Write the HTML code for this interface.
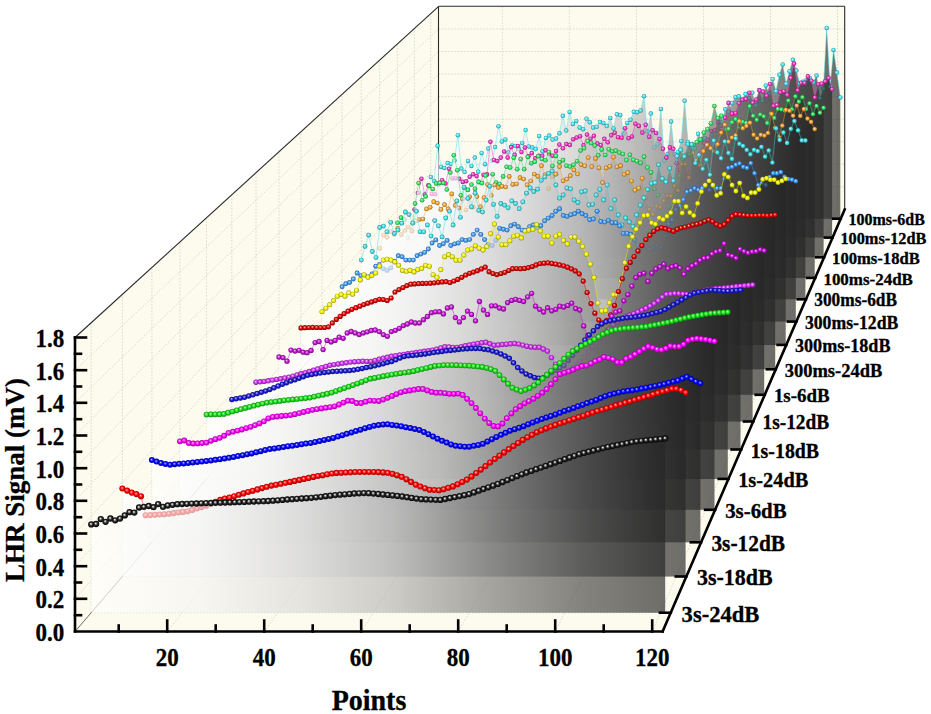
<!DOCTYPE html>
<html><head><meta charset="utf-8"><style>
html,body{margin:0;padding:0;background:#fff;overflow:hidden;width:931px;height:714px;}
svg{display:block;}
</style></head><body>
<svg width="931" height="714" viewBox="0 0 931 714">
<rect width="931" height="714" fill="#fff"/>
<polygon points="75.0,631.5 75.0,337.5 438.7,6.3 438.7,209.5" fill="#fdfbee"/>
<polygon points="438.7,209.5 844.7,209.5 844.7,6.3 438.7,6.3" fill="#fdfbee"/>
<polygon points="75.0,631.5 662.6,631.5 844.7,209.5 438.7,209.5" fill="#fdfbee"/>
<g stroke="#d8d6cc" stroke-width="0.9" stroke-dasharray="1.6,1.6" fill="none"><line x1="438.7" y1="186.9" x2="844.7" y2="186.9" /><line x1="75.0" y1="598.8" x2="438.7" y2="186.9" /><line x1="438.7" y1="164.3" x2="844.7" y2="164.3" /><line x1="75.0" y1="566.2" x2="438.7" y2="164.3" /><line x1="438.7" y1="141.7" x2="844.7" y2="141.7" /><line x1="75.0" y1="533.5" x2="438.7" y2="141.7" /><line x1="438.7" y1="119.2" x2="844.7" y2="119.2" /><line x1="75.0" y1="500.8" x2="438.7" y2="119.2" /><line x1="438.7" y1="96.6" x2="844.7" y2="96.6" /><line x1="75.0" y1="468.2" x2="438.7" y2="96.6" /><line x1="438.7" y1="74.0" x2="844.7" y2="74.0" /><line x1="75.0" y1="435.5" x2="438.7" y2="74.0" /><line x1="438.7" y1="51.5" x2="844.7" y2="51.5" /><line x1="75.0" y1="402.8" x2="438.7" y2="51.5" /><line x1="438.7" y1="28.9" x2="844.7" y2="28.9" /><line x1="75.0" y1="370.2" x2="438.7" y2="28.9" /><line x1="502.4" y1="209.5" x2="502.4" y2="6.3" /><line x1="167.2" y1="631.5" x2="502.4" y2="209.5" /><line x1="569.4" y1="209.5" x2="569.4" y2="6.3" /><line x1="264.2" y1="631.5" x2="569.4" y2="209.5" /><line x1="636.5" y1="209.5" x2="636.5" y2="6.3" /><line x1="361.2" y1="631.5" x2="636.5" y2="209.5" /><line x1="703.5" y1="209.5" x2="703.5" y2="6.3" /><line x1="458.2" y1="631.5" x2="703.5" y2="209.5" /><line x1="770.5" y1="209.5" x2="770.5" y2="6.3" /><line x1="555.2" y1="631.5" x2="770.5" y2="209.5" /><line x1="837.5" y1="209.5" x2="837.5" y2="6.3" /><line x1="652.2" y1="631.5" x2="837.5" y2="209.5" /><line x1="91.2" y1="612.7" x2="91.2" y2="322.7" /><line x1="91.2" y1="612.7" x2="670.8" y2="612.7" /><line x1="122.4" y1="576.5" x2="122.4" y2="294.4" /><line x1="122.4" y1="576.5" x2="686.3" y2="576.5" /><line x1="151.9" y1="542.3" x2="151.9" y2="267.5" /><line x1="151.9" y1="542.3" x2="701.1" y2="542.3" /><line x1="179.9" y1="509.8" x2="179.9" y2="242.0" /><line x1="179.9" y1="509.8" x2="715.1" y2="509.8" /><line x1="206.5" y1="478.9" x2="206.5" y2="217.8" /><line x1="206.5" y1="478.9" x2="728.5" y2="478.9" /><line x1="231.8" y1="449.5" x2="231.8" y2="194.7" /><line x1="231.8" y1="449.5" x2="741.2" y2="449.5" /><line x1="256.0" y1="421.5" x2="256.0" y2="172.7" /><line x1="256.0" y1="421.5" x2="753.2" y2="421.5" /><line x1="279.0" y1="394.8" x2="279.0" y2="151.8" /><line x1="279.0" y1="394.8" x2="764.8" y2="394.8" /><line x1="300.9" y1="369.3" x2="300.9" y2="131.8" /><line x1="300.9" y1="369.3" x2="775.8" y2="369.3" /><line x1="322.0" y1="344.9" x2="322.0" y2="112.6" /><line x1="322.0" y1="344.9" x2="786.3" y2="344.9" /><line x1="342.0" y1="321.6" x2="342.0" y2="94.3" /><line x1="342.0" y1="321.6" x2="796.3" y2="321.6" /><line x1="361.3" y1="299.3" x2="361.3" y2="76.8" /><line x1="361.3" y1="299.3" x2="806.0" y2="299.3" /><line x1="379.7" y1="277.9" x2="379.7" y2="60.0" /><line x1="379.7" y1="277.9" x2="815.2" y2="277.9" /><line x1="397.4" y1="257.3" x2="397.4" y2="43.9" /><line x1="397.4" y1="257.3" x2="824.1" y2="257.3" /><line x1="414.4" y1="237.6" x2="414.4" y2="28.4" /><line x1="414.4" y1="237.6" x2="832.6" y2="237.6" /><line x1="430.8" y1="218.7" x2="430.8" y2="13.5" /><line x1="430.8" y1="218.7" x2="840.8" y2="218.7" /></g>
<g stroke="#2a2a2a" stroke-width="1.1" fill="none"><line x1="75.0" y1="337.5" x2="438.7" y2="6.3" /><line x1="438.7" y1="6.3" x2="844.7" y2="6.3" /><line x1="844.7" y1="6.3" x2="844.7" y2="209.5" /></g><g stroke="#444" stroke-width="0.8"><line x1="75.0" y1="631.5" x2="438.7" y2="209.5" /></g>
<g stroke="#2a2a2a" stroke-width="1.1"><line x1="438.5" y1="6.3" x2="438.5" y2="209.5" /></g>
<defs><radialGradient id="s0" cx="0.5" cy="0.5" r="0.5" fx="0.42" fy="0.38"><stop offset="0.00" stop-color="#ffffff"/><stop offset="0.22" stop-color="#b0b0b0"/><stop offset="0.50" stop-color="#303030"/><stop offset="1.00" stop-color="#000000"/></radialGradient><radialGradient id="s1" cx="0.5" cy="0.5" r="0.5" fx="0.42" fy="0.38"><stop offset="0.00" stop-color="#ffe6e6"/><stop offset="0.25" stop-color="#ff5959"/><stop offset="0.60" stop-color="#ff0000"/><stop offset="1.00" stop-color="#990000"/></radialGradient><radialGradient id="s2" cx="0.5" cy="0.5" r="0.5" fx="0.42" fy="0.38"><stop offset="0.00" stop-color="#e6e6ff"/><stop offset="0.25" stop-color="#5959ff"/><stop offset="0.60" stop-color="#0000ff"/><stop offset="1.00" stop-color="#000099"/></radialGradient><radialGradient id="s3" cx="0.5" cy="0.5" r="0.5" fx="0.42" fy="0.38"><stop offset="0.00" stop-color="#ffe6ff"/><stop offset="0.25" stop-color="#ff59ff"/><stop offset="0.60" stop-color="#ff00ff"/><stop offset="1.00" stop-color="#990099"/></radialGradient><radialGradient id="s4" cx="0.5" cy="0.5" r="0.5" fx="0.42" fy="0.38"><stop offset="0.00" stop-color="#e8fce8"/><stop offset="0.25" stop-color="#69eb69"/><stop offset="0.60" stop-color="#18e018"/><stop offset="1.00" stop-color="#0e860e"/></radialGradient><radialGradient id="s5" cx="0.5" cy="0.5" r="0.5" fx="0.42" fy="0.38"><stop offset="0.00" stop-color="#e8e8fa"/><stop offset="0.25" stop-color="#6969e0"/><stop offset="0.60" stop-color="#1818d0"/><stop offset="1.00" stop-color="#0e0e7d"/></radialGradient><radialGradient id="s6" cx="0.5" cy="0.5" r="0.5" fx="0.42" fy="0.38"><stop offset="0.00" stop-color="#faeafe"/><stop offset="0.25" stop-color="#e078f5"/><stop offset="0.60" stop-color="#d030f0"/><stop offset="1.00" stop-color="#7d1d90"/></radialGradient><radialGradient id="s7" cx="0.5" cy="0.5" r="0.5" fx="0.42" fy="0.38"><stop offset="0.00" stop-color="#f9e7fa"/><stop offset="0.25" stop-color="#d664e0"/><stop offset="0.60" stop-color="#c010d0"/><stop offset="1.00" stop-color="#730a7d"/></radialGradient><radialGradient id="s8" cx="0.5" cy="0.5" r="0.5" fx="0.42" fy="0.38"><stop offset="0.00" stop-color="#fce6e6"/><stop offset="0.25" stop-color="#eb5959"/><stop offset="0.60" stop-color="#e00000"/><stop offset="1.00" stop-color="#860000"/></radialGradient><radialGradient id="s9" cx="0.5" cy="0.5" r="0.5" fx="0.42" fy="0.38"><stop offset="0.00" stop-color="#fefee6"/><stop offset="0.25" stop-color="#f5f559"/><stop offset="0.60" stop-color="#f0f000"/><stop offset="1.00" stop-color="#909000"/></radialGradient><radialGradient id="s10" cx="0.5" cy="0.5" r="0.5" fx="0.42" fy="0.38"><stop offset="0.00" stop-color="#ecf4fe"/><stop offset="0.25" stop-color="#80bbf5"/><stop offset="0.60" stop-color="#3c96f0"/><stop offset="1.00" stop-color="#245a90"/></radialGradient><radialGradient id="s11" cx="0.5" cy="0.5" r="0.5" fx="0.42" fy="0.38"><stop offset="0.00" stop-color="#ecfbfc"/><stop offset="0.25" stop-color="#83e6eb"/><stop offset="0.60" stop-color="#40d8e0"/><stop offset="1.00" stop-color="#268286"/></radialGradient><radialGradient id="s12" cx="0.5" cy="0.5" r="0.5" fx="0.42" fy="0.38"><stop offset="0.00" stop-color="#fef6ea"/><stop offset="0.25" stop-color="#f5c178"/><stop offset="0.60" stop-color="#f0a030"/><stop offset="1.00" stop-color="#90601d"/></radialGradient><radialGradient id="s13" cx="0.5" cy="0.5" r="0.5" fx="0.42" fy="0.38"><stop offset="0.00" stop-color="#eafcef"/><stop offset="0.25" stop-color="#78eb98"/><stop offset="0.60" stop-color="#30e060"/><stop offset="1.00" stop-color="#1d863a"/></radialGradient><radialGradient id="s14" cx="0.5" cy="0.5" r="0.5" fx="0.42" fy="0.38"><stop offset="0.00" stop-color="#feeaf9"/><stop offset="0.25" stop-color="#f578d6"/><stop offset="0.60" stop-color="#f030c0"/><stop offset="1.00" stop-color="#901d73"/></radialGradient><radialGradient id="s15" cx="0.5" cy="0.5" r="0.5" fx="0.42" fy="0.38"><stop offset="0.00" stop-color="#ecfcfe"/><stop offset="0.25" stop-color="#83ebf5"/><stop offset="0.60" stop-color="#40e0f0"/><stop offset="1.00" stop-color="#268690"/></radialGradient><linearGradient id="f15" gradientUnits="userSpaceOnUse" x1="430.8" y1="0" x2="840.3" y2="0"><stop offset="0.000" stop-color="#ffffff"/><stop offset="0.190" stop-color="#f4f4f4"/><stop offset="0.364" stop-color="#d8d8d8"/><stop offset="0.521" stop-color="#b5b5b5"/><stop offset="0.678" stop-color="#7d7d7d"/><stop offset="0.852" stop-color="#464646"/><stop offset="0.974" stop-color="#292929"/><stop offset="1.000" stop-color="#242424"/></linearGradient><linearGradient id="f14" gradientUnits="userSpaceOnUse" x1="414.5" y1="0" x2="832.1" y2="0"><stop offset="0.000" stop-color="#ffffff"/><stop offset="0.190" stop-color="#f4f4f4"/><stop offset="0.364" stop-color="#d8d8d8"/><stop offset="0.521" stop-color="#b5b5b5"/><stop offset="0.678" stop-color="#7d7d7d"/><stop offset="0.852" stop-color="#464646"/><stop offset="0.974" stop-color="#292929"/><stop offset="1.000" stop-color="#242424"/></linearGradient><linearGradient id="f13" gradientUnits="userSpaceOnUse" x1="397.5" y1="0" x2="823.6" y2="0"><stop offset="0.000" stop-color="#ffffff"/><stop offset="0.190" stop-color="#f4f4f4"/><stop offset="0.364" stop-color="#d8d8d8"/><stop offset="0.521" stop-color="#b5b5b5"/><stop offset="0.678" stop-color="#7d7d7d"/><stop offset="0.852" stop-color="#464646"/><stop offset="0.974" stop-color="#292929"/><stop offset="1.000" stop-color="#242424"/></linearGradient><linearGradient id="f12" gradientUnits="userSpaceOnUse" x1="379.8" y1="0" x2="814.7" y2="0"><stop offset="0.000" stop-color="#ffffff"/><stop offset="0.190" stop-color="#f4f4f4"/><stop offset="0.364" stop-color="#d8d8d8"/><stop offset="0.521" stop-color="#b5b5b5"/><stop offset="0.678" stop-color="#7d7d7d"/><stop offset="0.852" stop-color="#464646"/><stop offset="0.974" stop-color="#292929"/><stop offset="1.000" stop-color="#242424"/></linearGradient><linearGradient id="f11" gradientUnits="userSpaceOnUse" x1="361.3" y1="0" x2="805.4" y2="0"><stop offset="0.000" stop-color="#ffffff"/><stop offset="0.190" stop-color="#f4f4f4"/><stop offset="0.364" stop-color="#d8d8d8"/><stop offset="0.521" stop-color="#b5b5b5"/><stop offset="0.678" stop-color="#7d7d7d"/><stop offset="0.852" stop-color="#464646"/><stop offset="0.974" stop-color="#292929"/><stop offset="1.000" stop-color="#242424"/></linearGradient><linearGradient id="f10" gradientUnits="userSpaceOnUse" x1="342.1" y1="0" x2="795.8" y2="0"><stop offset="0.000" stop-color="#ffffff"/><stop offset="0.190" stop-color="#f4f4f4"/><stop offset="0.364" stop-color="#d8d8d8"/><stop offset="0.521" stop-color="#b5b5b5"/><stop offset="0.678" stop-color="#7d7d7d"/><stop offset="0.852" stop-color="#464646"/><stop offset="0.974" stop-color="#292929"/><stop offset="1.000" stop-color="#242424"/></linearGradient><linearGradient id="f9" gradientUnits="userSpaceOnUse" x1="322.0" y1="0" x2="785.7" y2="0"><stop offset="0.000" stop-color="#ffffff"/><stop offset="0.190" stop-color="#f4f4f4"/><stop offset="0.364" stop-color="#d8d8d8"/><stop offset="0.521" stop-color="#b5b5b5"/><stop offset="0.678" stop-color="#7d7d7d"/><stop offset="0.852" stop-color="#464646"/><stop offset="0.974" stop-color="#292929"/><stop offset="1.000" stop-color="#242424"/></linearGradient><linearGradient id="f8" gradientUnits="userSpaceOnUse" x1="301.0" y1="0" x2="775.2" y2="0"><stop offset="0.000" stop-color="#ffffff"/><stop offset="0.190" stop-color="#f4f4f4"/><stop offset="0.364" stop-color="#d8d8d8"/><stop offset="0.521" stop-color="#b5b5b5"/><stop offset="0.678" stop-color="#7d7d7d"/><stop offset="0.852" stop-color="#464646"/><stop offset="0.974" stop-color="#292929"/><stop offset="1.000" stop-color="#242424"/></linearGradient><linearGradient id="f7" gradientUnits="userSpaceOnUse" x1="279.0" y1="0" x2="764.2" y2="0"><stop offset="0.000" stop-color="#ffffff"/><stop offset="0.190" stop-color="#f4f4f4"/><stop offset="0.364" stop-color="#d8d8d8"/><stop offset="0.521" stop-color="#b5b5b5"/><stop offset="0.678" stop-color="#7d7d7d"/><stop offset="0.852" stop-color="#464646"/><stop offset="0.974" stop-color="#292929"/><stop offset="1.000" stop-color="#242424"/></linearGradient><linearGradient id="f6" gradientUnits="userSpaceOnUse" x1="256.0" y1="0" x2="752.6" y2="0"><stop offset="0.000" stop-color="#ffffff"/><stop offset="0.190" stop-color="#f4f4f4"/><stop offset="0.364" stop-color="#d8d8d8"/><stop offset="0.521" stop-color="#b5b5b5"/><stop offset="0.678" stop-color="#7d7d7d"/><stop offset="0.852" stop-color="#464646"/><stop offset="0.974" stop-color="#292929"/><stop offset="1.000" stop-color="#242424"/></linearGradient><linearGradient id="f5" gradientUnits="userSpaceOnUse" x1="231.9" y1="0" x2="740.5" y2="0"><stop offset="0.000" stop-color="#ffffff"/><stop offset="0.190" stop-color="#f4f4f4"/><stop offset="0.364" stop-color="#d8d8d8"/><stop offset="0.521" stop-color="#b5b5b5"/><stop offset="0.678" stop-color="#7d7d7d"/><stop offset="0.852" stop-color="#464646"/><stop offset="0.974" stop-color="#292929"/><stop offset="1.000" stop-color="#242424"/></linearGradient><linearGradient id="f4" gradientUnits="userSpaceOnUse" x1="206.5" y1="0" x2="727.8" y2="0"><stop offset="0.000" stop-color="#ffffff"/><stop offset="0.190" stop-color="#f4f4f4"/><stop offset="0.364" stop-color="#d8d8d8"/><stop offset="0.521" stop-color="#b5b5b5"/><stop offset="0.678" stop-color="#7d7d7d"/><stop offset="0.852" stop-color="#464646"/><stop offset="0.974" stop-color="#292929"/><stop offset="1.000" stop-color="#242424"/></linearGradient><linearGradient id="f3" gradientUnits="userSpaceOnUse" x1="179.9" y1="0" x2="714.5" y2="0"><stop offset="0.000" stop-color="#ffffff"/><stop offset="0.190" stop-color="#f4f4f4"/><stop offset="0.364" stop-color="#d8d8d8"/><stop offset="0.521" stop-color="#b5b5b5"/><stop offset="0.678" stop-color="#7d7d7d"/><stop offset="0.852" stop-color="#464646"/><stop offset="0.974" stop-color="#292929"/><stop offset="1.000" stop-color="#242424"/></linearGradient><linearGradient id="f2" gradientUnits="userSpaceOnUse" x1="151.9" y1="0" x2="700.4" y2="0"><stop offset="0.000" stop-color="#ffffff"/><stop offset="0.190" stop-color="#f4f4f4"/><stop offset="0.364" stop-color="#d8d8d8"/><stop offset="0.521" stop-color="#b5b5b5"/><stop offset="0.678" stop-color="#7d7d7d"/><stop offset="0.852" stop-color="#464646"/><stop offset="0.974" stop-color="#292929"/><stop offset="1.000" stop-color="#242424"/></linearGradient><linearGradient id="f1" gradientUnits="userSpaceOnUse" x1="122.4" y1="0" x2="685.6" y2="0"><stop offset="0.000" stop-color="#ffffff"/><stop offset="0.190" stop-color="#f4f4f4"/><stop offset="0.364" stop-color="#d8d8d8"/><stop offset="0.521" stop-color="#b5b5b5"/><stop offset="0.678" stop-color="#7d7d7d"/><stop offset="0.852" stop-color="#464646"/><stop offset="0.974" stop-color="#292929"/><stop offset="1.000" stop-color="#242424"/></linearGradient><linearGradient id="f0" gradientUnits="userSpaceOnUse" x1="91.3" y1="0" x2="665.2" y2="0"><stop offset="0.000" stop-color="#ffffff"/><stop offset="0.190" stop-color="#f4f4f4"/><stop offset="0.364" stop-color="#d8d8d8"/><stop offset="0.521" stop-color="#b5b5b5"/><stop offset="0.678" stop-color="#7d7d7d"/><stop offset="0.852" stop-color="#464646"/><stop offset="0.974" stop-color="#292929"/><stop offset="1.000" stop-color="#242424"/></linearGradient></defs><polygon points="430.8,218.7 430.8,177.0 434.2,181.1 437.6,145.8 441.0,166.9 444.3,168.0 447.7,163.1 451.1,163.9 454.5,160.4 457.9,135.2 461.3,168.6 464.6,172.1 468.0,160.9 471.4,165.9 474.8,157.6 478.2,171.8 481.6,152.9 485.0,164.2 488.3,148.5 491.7,160.8 495.1,147.1 498.5,126.2 501.9,141.4 505.3,139.4 508.6,152.6 512.0,145.4 515.4,146.0 518.8,149.0 522.2,142.9 525.6,130.1 528.9,146.4 532.3,147.6 535.7,149.1 539.1,136.0 542.5,151.2 545.9,137.9 549.2,135.6 552.6,139.6 556.0,138.5 559.4,133.3 562.8,115.8 566.2,130.6 569.6,111.9 572.9,123.9 576.3,120.9 579.7,127.4 583.1,129.2 586.5,118.8 589.9,122.3 593.2,127.5 596.6,126.8 600.0,122.1 603.4,122.9 606.8,126.1 610.2,117.9 613.5,128.4 616.9,114.3 620.3,115.0 623.7,133.8 627.1,122.9 630.5,119.7 633.8,111.8 637.2,112.2 640.6,110.5 644.0,96.2 647.4,131.5 650.8,113.6 654.2,147.5 657.5,144.3 660.9,108.9 664.3,160.6 667.7,154.1 671.1,121.5 674.5,154.1 677.8,151.9 681.2,141.0 684.6,100.8 688.0,142.2 691.4,148.0 694.8,148.4 698.1,133.8 701.5,139.2 704.9,138.1 708.3,145.9 711.7,135.3 715.1,134.4 718.4,123.0 721.8,122.2 725.2,109.3 728.6,112.1 732.0,103.0 735.4,97.0 738.8,96.3 742.1,99.2 745.5,94.1 748.9,98.0 752.3,92.8 755.7,105.5 759.1,89.9 762.4,101.0 765.8,85.4 769.2,93.8 772.6,79.0 776.0,91.1 779.4,74.8 782.7,64.4 786.1,83.7 789.5,71.2 792.9,59.8 796.3,70.6 799.7,83.6 803.0,81.8 806.4,80.2 809.8,78.0 813.2,82.2 816.6,75.5 820.0,98.0 823.4,88.7 826.7,28.0 830.1,86.6 833.5,49.9 836.9,72.6 840.3,97.4 840.3,218.7" fill="url(#f15)" fill-opacity="0.657"/>
<polyline points="430.8,177.0 434.2,181.1 437.6,145.8 441.0,166.9 444.3,168.0 447.7,163.1 451.1,163.9 454.5,160.4 457.9,135.2 461.3,168.6 464.6,172.1 468.0,160.9 471.4,165.9 474.8,157.6 478.2,171.8 481.6,152.9 485.0,164.2 488.3,148.5 491.7,160.8 495.1,147.1 498.5,126.2 501.9,141.4 505.3,139.4 508.6,152.6 512.0,145.4 515.4,146.0 518.8,149.0 522.2,142.9 525.6,130.1 528.9,146.4 532.3,147.6 535.7,149.1 539.1,136.0 542.5,151.2 545.9,137.9 549.2,135.6 552.6,139.6 556.0,138.5 559.4,133.3 562.8,115.8 566.2,130.6 569.6,111.9 572.9,123.9 576.3,120.9 579.7,127.4 583.1,129.2 586.5,118.8 589.9,122.3 593.2,127.5 596.6,126.8 600.0,122.1 603.4,122.9 606.8,126.1 610.2,117.9 613.5,128.4 616.9,114.3 620.3,115.0 623.7,133.8 627.1,122.9 630.5,119.7 633.8,111.8 637.2,112.2 640.6,110.5 644.0,96.2 647.4,131.5 650.8,113.6 654.2,147.5 657.5,144.3 660.9,108.9 664.3,160.6 667.7,154.1 671.1,121.5 674.5,154.1 677.8,151.9 681.2,141.0 684.6,100.8 688.0,142.2 691.4,148.0 694.8,148.4 698.1,133.8 701.5,139.2 704.9,138.1 708.3,145.9 711.7,135.3 715.1,134.4 718.4,123.0 721.8,122.2 725.2,109.3 728.6,112.1 732.0,103.0 735.4,97.0 738.8,96.3 742.1,99.2 745.5,94.1 748.9,98.0 752.3,92.8 755.7,105.5 759.1,89.9 762.4,101.0 765.8,85.4 769.2,93.8 772.6,79.0 776.0,91.1 779.4,74.8 782.7,64.4 786.1,83.7 789.5,71.2 792.9,59.8 796.3,70.6 799.7,83.6 803.0,81.8 806.4,80.2 809.8,78.0 813.2,82.2 816.6,75.5 820.0,98.0 823.4,88.7 826.7,28.0 830.1,86.6 833.5,49.9 836.9,72.6 840.3,97.4" fill="none" stroke="#40e0f0" stroke-width="0.55" stroke-opacity="0.85"/>
<g fill="url(#s15)"><circle cx="430.8" cy="177.0" r="2.23"/><circle cx="434.2" cy="181.1" r="2.23"/><circle cx="437.6" cy="145.8" r="2.23"/><circle cx="441.0" cy="166.9" r="2.23"/><circle cx="444.3" cy="168.0" r="2.23"/><circle cx="447.7" cy="163.1" r="2.23"/><circle cx="451.1" cy="163.9" r="2.23"/><circle cx="454.5" cy="160.4" r="2.23"/><circle cx="457.9" cy="135.2" r="2.23"/><circle cx="461.3" cy="168.6" r="2.23"/><circle cx="464.6" cy="172.1" r="2.23"/><circle cx="468.0" cy="160.9" r="2.23"/><circle cx="471.4" cy="165.9" r="2.23"/><circle cx="474.8" cy="157.6" r="2.23"/><circle cx="478.2" cy="171.8" r="2.23"/><circle cx="481.6" cy="152.9" r="2.23"/><circle cx="485.0" cy="164.2" r="2.23"/><circle cx="488.3" cy="148.5" r="2.23"/><circle cx="491.7" cy="160.8" r="2.23"/><circle cx="495.1" cy="147.1" r="2.23"/><circle cx="498.5" cy="126.2" r="2.23"/><circle cx="501.9" cy="141.4" r="2.23"/><circle cx="505.3" cy="139.4" r="2.23"/><circle cx="508.6" cy="152.6" r="2.23"/><circle cx="512.0" cy="145.4" r="2.23"/><circle cx="515.4" cy="146.0" r="2.23"/><circle cx="518.8" cy="149.0" r="2.23"/><circle cx="522.2" cy="142.9" r="2.23"/><circle cx="525.6" cy="130.1" r="2.23"/><circle cx="528.9" cy="146.4" r="2.23"/><circle cx="532.3" cy="147.6" r="2.23"/><circle cx="535.7" cy="149.1" r="2.23"/><circle cx="539.1" cy="136.0" r="2.23"/><circle cx="542.5" cy="151.2" r="2.23"/><circle cx="545.9" cy="137.9" r="2.23"/><circle cx="549.2" cy="135.6" r="2.23"/><circle cx="552.6" cy="139.6" r="2.23"/><circle cx="556.0" cy="138.5" r="2.23"/><circle cx="559.4" cy="133.3" r="2.23"/><circle cx="562.8" cy="115.8" r="2.23"/><circle cx="566.2" cy="130.6" r="2.23"/><circle cx="569.6" cy="111.9" r="2.23"/><circle cx="572.9" cy="123.9" r="2.23"/><circle cx="576.3" cy="120.9" r="2.23"/><circle cx="579.7" cy="127.4" r="2.23"/><circle cx="583.1" cy="129.2" r="2.23"/><circle cx="586.5" cy="118.8" r="2.23"/><circle cx="589.9" cy="122.3" r="2.23"/><circle cx="593.2" cy="127.5" r="2.23"/><circle cx="596.6" cy="126.8" r="2.23"/><circle cx="600.0" cy="122.1" r="2.23"/><circle cx="603.4" cy="122.9" r="2.23"/><circle cx="606.8" cy="126.1" r="2.23"/><circle cx="610.2" cy="117.9" r="2.23"/><circle cx="613.5" cy="128.4" r="2.23"/><circle cx="616.9" cy="114.3" r="2.23"/><circle cx="620.3" cy="115.0" r="2.23"/><circle cx="623.7" cy="133.8" r="2.23"/><circle cx="627.1" cy="122.9" r="2.23"/><circle cx="630.5" cy="119.7" r="2.23"/><circle cx="633.8" cy="111.8" r="2.23"/><circle cx="637.2" cy="112.2" r="2.23"/><circle cx="640.6" cy="110.5" r="2.23"/><circle cx="644.0" cy="96.2" r="2.23"/><circle cx="647.4" cy="131.5" r="2.23"/><circle cx="650.8" cy="113.6" r="2.23"/><circle cx="654.2" cy="147.5" r="2.23"/><circle cx="657.5" cy="144.3" r="2.23"/><circle cx="660.9" cy="108.9" r="2.23"/><circle cx="664.3" cy="160.6" r="2.23"/><circle cx="667.7" cy="154.1" r="2.23"/><circle cx="671.1" cy="121.5" r="2.23"/><circle cx="674.5" cy="154.1" r="2.23"/><circle cx="677.8" cy="151.9" r="2.23"/><circle cx="681.2" cy="141.0" r="2.23"/><circle cx="684.6" cy="100.8" r="2.23"/><circle cx="688.0" cy="142.2" r="2.23"/><circle cx="691.4" cy="148.0" r="2.23"/><circle cx="694.8" cy="148.4" r="2.23"/><circle cx="698.1" cy="133.8" r="2.23"/><circle cx="701.5" cy="139.2" r="2.23"/><circle cx="704.9" cy="138.1" r="2.23"/><circle cx="708.3" cy="145.9" r="2.23"/><circle cx="711.7" cy="135.3" r="2.23"/><circle cx="715.1" cy="134.4" r="2.23"/><circle cx="718.4" cy="123.0" r="2.23"/><circle cx="721.8" cy="122.2" r="2.23"/><circle cx="725.2" cy="109.3" r="2.23"/><circle cx="728.6" cy="112.1" r="2.23"/><circle cx="732.0" cy="103.0" r="2.23"/><circle cx="735.4" cy="97.0" r="2.23"/><circle cx="738.8" cy="96.3" r="2.23"/><circle cx="742.1" cy="99.2" r="2.23"/><circle cx="745.5" cy="94.1" r="2.23"/><circle cx="748.9" cy="98.0" r="2.23"/><circle cx="752.3" cy="92.8" r="2.23"/><circle cx="755.7" cy="105.5" r="2.23"/><circle cx="759.1" cy="89.9" r="2.23"/><circle cx="762.4" cy="101.0" r="2.23"/><circle cx="765.8" cy="85.4" r="2.23"/><circle cx="769.2" cy="93.8" r="2.23"/><circle cx="772.6" cy="79.0" r="2.23"/><circle cx="776.0" cy="91.1" r="2.23"/><circle cx="779.4" cy="74.8" r="2.23"/><circle cx="782.7" cy="64.4" r="2.23"/><circle cx="786.1" cy="83.7" r="2.23"/><circle cx="789.5" cy="71.2" r="2.23"/><circle cx="792.9" cy="59.8" r="2.23"/><circle cx="796.3" cy="70.6" r="2.23"/><circle cx="799.7" cy="83.6" r="2.23"/><circle cx="803.0" cy="81.8" r="2.23"/><circle cx="806.4" cy="80.2" r="2.23"/><circle cx="809.8" cy="78.0" r="2.23"/><circle cx="813.2" cy="82.2" r="2.23"/><circle cx="816.6" cy="75.5" r="2.23"/><circle cx="820.0" cy="98.0" r="2.23"/><circle cx="823.4" cy="88.7" r="2.23"/><circle cx="826.7" cy="28.0" r="2.23"/><circle cx="830.1" cy="86.6" r="2.23"/><circle cx="833.5" cy="49.9" r="2.23"/><circle cx="836.9" cy="72.6" r="2.23"/><circle cx="840.3" cy="97.4" r="2.23"/></g>
<polygon points="414.5,237.6 414.5,209.6 417.9,193.0 421.4,178.7 424.8,194.5 428.3,185.2 431.7,194.0 435.2,194.3 438.6,184.5 442.1,180.2 445.5,183.5 449.0,168.7 452.4,178.5 455.9,178.2 459.3,178.8 462.8,181.9 466.2,181.2 469.7,176.7 473.1,174.2 476.6,176.1 480.1,183.1 483.5,174.7 487.0,174.4 490.4,141.8 493.9,160.0 497.3,161.1 500.8,157.6 504.2,151.5 507.7,157.6 511.1,147.1 514.6,154.9 518.0,146.0 521.5,152.0 524.9,147.6 528.4,156.3 531.8,153.1 535.3,158.4 538.7,155.8 542.2,155.8 545.6,150.3 549.1,154.1 552.5,155.7 556.0,151.1 559.4,144.5 562.9,148.3 566.3,144.1 569.8,144.9 573.2,139.2 576.7,137.5 580.1,136.2 583.6,145.4 587.0,134.5 590.5,138.7 593.9,135.7 597.4,143.6 600.8,145.1 604.3,138.8 607.7,142.3 611.2,135.1 614.7,132.7 618.1,137.2 621.6,137.7 625.0,128.3 628.5,138.3 631.9,136.5 635.4,123.8 638.8,125.9 642.3,132.6 645.7,124.8 649.2,136.7 652.6,130.3 656.1,133.0 659.5,139.0 663.0,148.8 666.4,157.6 669.9,147.4 673.3,148.8 676.8,163.2 680.2,169.8 683.7,179.1 687.1,171.6 690.6,179.6 694.0,167.4 697.5,168.1 700.9,153.0 704.4,143.1 707.8,139.9 711.3,131.0 714.7,130.3 718.2,122.1 721.6,129.0 725.1,117.7 728.5,102.9 732.0,113.6 735.4,113.0 738.9,103.3 742.3,99.7 745.8,98.9 749.3,92.7 752.7,102.6 756.2,99.5 759.6,90.4 763.1,91.6 766.5,95.6 770.0,84.0 773.4,105.8 776.9,104.9 780.3,92.3 783.8,91.2 787.2,94.9 790.7,77.9 794.1,63.6 797.6,90.2 801.0,82.8 804.5,82.9 807.9,76.4 811.4,80.7 814.8,97.4 818.3,84.2 821.7,83.5 825.2,81.3 828.6,77.9 832.1,89.2 832.1,237.6" fill="url(#f14)" fill-opacity="0.657"/>
<polyline points="414.5,209.6 417.9,193.0 421.4,178.7 424.8,194.5 428.3,185.2 431.7,194.0 435.2,194.3 438.6,184.5 442.1,180.2 445.5,183.5 449.0,168.7 452.4,178.5 455.9,178.2 459.3,178.8 462.8,181.9 466.2,181.2 469.7,176.7 473.1,174.2 476.6,176.1 480.1,183.1 483.5,174.7 487.0,174.4 490.4,141.8 493.9,160.0 497.3,161.1 500.8,157.6 504.2,151.5 507.7,157.6 511.1,147.1 514.6,154.9 518.0,146.0 521.5,152.0 524.9,147.6 528.4,156.3 531.8,153.1 535.3,158.4 538.7,155.8 542.2,155.8 545.6,150.3 549.1,154.1 552.5,155.7 556.0,151.1 559.4,144.5 562.9,148.3 566.3,144.1 569.8,144.9 573.2,139.2 576.7,137.5 580.1,136.2 583.6,145.4 587.0,134.5 590.5,138.7 593.9,135.7 597.4,143.6 600.8,145.1 604.3,138.8 607.7,142.3 611.2,135.1 614.7,132.7 618.1,137.2 621.6,137.7 625.0,128.3 628.5,138.3 631.9,136.5 635.4,123.8 638.8,125.9 642.3,132.6 645.7,124.8 649.2,136.7 652.6,130.3 656.1,133.0 659.5,139.0 663.0,148.8 666.4,157.6 669.9,147.4 673.3,148.8 676.8,163.2 680.2,169.8 683.7,179.1 687.1,171.6 690.6,179.6 694.0,167.4 697.5,168.1 700.9,153.0 704.4,143.1 707.8,139.9 711.3,131.0 714.7,130.3 718.2,122.1 721.6,129.0 725.1,117.7 728.5,102.9 732.0,113.6 735.4,113.0 738.9,103.3 742.3,99.7 745.8,98.9 749.3,92.7 752.7,102.6 756.2,99.5 759.6,90.4 763.1,91.6 766.5,95.6 770.0,84.0 773.4,105.8 776.9,104.9 780.3,92.3 783.8,91.2 787.2,94.9 790.7,77.9 794.1,63.6 797.6,90.2 801.0,82.8 804.5,82.9 807.9,76.4 811.4,80.7 814.8,97.4 818.3,84.2 821.7,83.5 825.2,81.3 828.6,77.9 832.1,89.2" fill="none" stroke="#f030c0" stroke-width="0.55" stroke-opacity="0.85"/>
<g fill="url(#s14)"><circle cx="414.5" cy="209.6" r="2.28"/><circle cx="417.9" cy="193.0" r="2.28"/><circle cx="421.4" cy="178.7" r="2.28"/><circle cx="424.8" cy="194.5" r="2.28"/><circle cx="428.3" cy="185.2" r="2.28"/><circle cx="431.7" cy="194.0" r="2.28"/><circle cx="435.2" cy="194.3" r="2.28"/><circle cx="438.6" cy="184.5" r="2.28"/><circle cx="442.1" cy="180.2" r="2.28"/><circle cx="445.5" cy="183.5" r="2.28"/><circle cx="449.0" cy="168.7" r="2.28"/><circle cx="452.4" cy="178.5" r="2.28"/><circle cx="455.9" cy="178.2" r="2.28"/><circle cx="459.3" cy="178.8" r="2.28"/><circle cx="462.8" cy="181.9" r="2.28"/><circle cx="466.2" cy="181.2" r="2.28"/><circle cx="469.7" cy="176.7" r="2.28"/><circle cx="473.1" cy="174.2" r="2.28"/><circle cx="476.6" cy="176.1" r="2.28"/><circle cx="480.1" cy="183.1" r="2.28"/><circle cx="483.5" cy="174.7" r="2.28"/><circle cx="487.0" cy="174.4" r="2.28"/><circle cx="490.4" cy="141.8" r="2.28"/><circle cx="493.9" cy="160.0" r="2.28"/><circle cx="497.3" cy="161.1" r="2.28"/><circle cx="500.8" cy="157.6" r="2.28"/><circle cx="504.2" cy="151.5" r="2.28"/><circle cx="507.7" cy="157.6" r="2.28"/><circle cx="511.1" cy="147.1" r="2.28"/><circle cx="514.6" cy="154.9" r="2.28"/><circle cx="518.0" cy="146.0" r="2.28"/><circle cx="521.5" cy="152.0" r="2.28"/><circle cx="524.9" cy="147.6" r="2.28"/><circle cx="528.4" cy="156.3" r="2.28"/><circle cx="531.8" cy="153.1" r="2.28"/><circle cx="535.3" cy="158.4" r="2.28"/><circle cx="538.7" cy="155.8" r="2.28"/><circle cx="542.2" cy="155.8" r="2.28"/><circle cx="545.6" cy="150.3" r="2.28"/><circle cx="549.1" cy="154.1" r="2.28"/><circle cx="552.5" cy="155.7" r="2.28"/><circle cx="556.0" cy="151.1" r="2.28"/><circle cx="559.4" cy="144.5" r="2.28"/><circle cx="562.9" cy="148.3" r="2.28"/><circle cx="566.3" cy="144.1" r="2.28"/><circle cx="569.8" cy="144.9" r="2.28"/><circle cx="573.2" cy="139.2" r="2.28"/><circle cx="576.7" cy="137.5" r="2.28"/><circle cx="580.1" cy="136.2" r="2.28"/><circle cx="583.6" cy="145.4" r="2.28"/><circle cx="587.0" cy="134.5" r="2.28"/><circle cx="590.5" cy="138.7" r="2.28"/><circle cx="593.9" cy="135.7" r="2.28"/><circle cx="597.4" cy="143.6" r="2.28"/><circle cx="600.8" cy="145.1" r="2.28"/><circle cx="604.3" cy="138.8" r="2.28"/><circle cx="607.7" cy="142.3" r="2.28"/><circle cx="611.2" cy="135.1" r="2.28"/><circle cx="614.7" cy="132.7" r="2.28"/><circle cx="618.1" cy="137.2" r="2.28"/><circle cx="621.6" cy="137.7" r="2.28"/><circle cx="625.0" cy="128.3" r="2.28"/><circle cx="628.5" cy="138.3" r="2.28"/><circle cx="631.9" cy="136.5" r="2.28"/><circle cx="635.4" cy="123.8" r="2.28"/><circle cx="638.8" cy="125.9" r="2.28"/><circle cx="642.3" cy="132.6" r="2.28"/><circle cx="645.7" cy="124.8" r="2.28"/><circle cx="649.2" cy="136.7" r="2.28"/><circle cx="652.6" cy="130.3" r="2.28"/><circle cx="656.1" cy="133.0" r="2.28"/><circle cx="659.5" cy="139.0" r="2.28"/><circle cx="663.0" cy="148.8" r="2.28"/><circle cx="666.4" cy="157.6" r="2.28"/><circle cx="669.9" cy="147.4" r="2.28"/><circle cx="673.3" cy="148.8" r="2.28"/><circle cx="676.8" cy="163.2" r="2.28"/><circle cx="680.2" cy="169.8" r="2.28"/><circle cx="683.7" cy="179.1" r="2.28"/><circle cx="687.1" cy="171.6" r="2.28"/><circle cx="690.6" cy="179.6" r="2.28"/><circle cx="694.0" cy="167.4" r="2.28"/><circle cx="697.5" cy="168.1" r="2.28"/><circle cx="700.9" cy="153.0" r="2.28"/><circle cx="704.4" cy="143.1" r="2.28"/><circle cx="707.8" cy="139.9" r="2.28"/><circle cx="711.3" cy="131.0" r="2.28"/><circle cx="714.7" cy="130.3" r="2.28"/><circle cx="718.2" cy="122.1" r="2.28"/><circle cx="721.6" cy="129.0" r="2.28"/><circle cx="725.1" cy="117.7" r="2.28"/><circle cx="728.5" cy="102.9" r="2.28"/><circle cx="732.0" cy="113.6" r="2.28"/><circle cx="735.4" cy="113.0" r="2.28"/><circle cx="738.9" cy="103.3" r="2.28"/><circle cx="742.3" cy="99.7" r="2.28"/><circle cx="745.8" cy="98.9" r="2.28"/><circle cx="749.3" cy="92.7" r="2.28"/><circle cx="752.7" cy="102.6" r="2.28"/><circle cx="756.2" cy="99.5" r="2.28"/><circle cx="759.6" cy="90.4" r="2.28"/><circle cx="763.1" cy="91.6" r="2.28"/><circle cx="766.5" cy="95.6" r="2.28"/><circle cx="770.0" cy="84.0" r="2.28"/><circle cx="773.4" cy="105.8" r="2.28"/><circle cx="776.9" cy="104.9" r="2.28"/><circle cx="780.3" cy="92.3" r="2.28"/><circle cx="783.8" cy="91.2" r="2.28"/><circle cx="787.2" cy="94.9" r="2.28"/><circle cx="790.7" cy="77.9" r="2.28"/><circle cx="794.1" cy="63.6" r="2.28"/><circle cx="797.6" cy="90.2" r="2.28"/><circle cx="801.0" cy="82.8" r="2.28"/><circle cx="804.5" cy="82.9" r="2.28"/><circle cx="807.9" cy="76.4" r="2.28"/><circle cx="811.4" cy="80.7" r="2.28"/><circle cx="814.8" cy="97.4" r="2.28"/><circle cx="818.3" cy="84.2" r="2.28"/><circle cx="821.7" cy="83.5" r="2.28"/><circle cx="825.2" cy="81.3" r="2.28"/><circle cx="828.6" cy="77.9" r="2.28"/><circle cx="832.1" cy="89.2" r="2.28"/></g>
<polygon points="397.5,257.3 397.5,222.8 401.0,217.6 404.5,219.5 408.0,238.1 411.6,230.8 415.1,203.6 418.6,183.0 422.1,200.2 425.7,196.5 429.2,185.9 432.7,189.0 436.2,183.4 439.7,182.9 443.3,182.9 446.8,189.5 450.3,172.5 453.8,155.3 457.3,170.2 460.9,195.3 464.4,188.0 467.9,189.9 471.4,184.5 475.0,188.7 478.5,181.9 482.0,183.1 485.5,175.5 489.0,186.1 492.6,174.2 496.1,182.5 499.6,184.0 503.1,176.4 506.6,166.8 510.2,167.5 513.7,157.7 517.2,169.2 520.7,159.0 524.2,169.3 527.8,156.9 531.3,163.2 534.8,161.7 538.3,156.2 541.9,159.0 545.4,160.3 548.9,152.0 552.4,166.0 555.9,155.9 559.5,162.2 563.0,160.1 566.5,165.8 570.0,166.5 573.5,164.7 577.1,161.2 580.6,150.5 584.1,148.1 587.6,141.1 591.2,143.0 594.7,145.6 598.2,155.3 601.7,149.4 605.2,155.0 608.8,149.2 612.3,151.2 615.8,150.6 619.3,152.5 622.8,154.0 626.4,160.1 629.9,154.8 633.4,159.9 636.9,161.1 640.5,162.9 644.0,156.6 647.5,167.5 651.0,172.4 654.5,188.7 658.1,195.1 661.6,215.7 665.1,213.5 668.6,206.5 672.1,204.2 675.7,195.9 679.2,176.0 682.7,158.7 686.2,154.9 689.8,154.5 693.3,144.8 696.8,142.0 700.3,139.5 703.8,132.6 707.4,129.0 710.9,123.2 714.4,106.0 717.9,118.1 721.4,115.8 725.0,129.7 728.5,128.8 732.0,122.3 735.5,119.1 739.0,127.8 742.6,121.8 746.1,123.0 749.6,106.2 753.1,115.9 756.7,119.9 760.2,114.5 763.7,116.4 767.2,123.1 770.7,113.5 774.3,118.0 777.8,109.0 781.3,109.4 784.8,110.4 788.3,100.5 791.9,109.3 795.4,96.4 798.9,101.7 802.4,97.2 806.0,109.0 809.5,103.3 813.0,114.2 816.5,106.0 820.0,112.8 823.6,107.8 823.6,257.3" fill="url(#f13)" fill-opacity="0.657"/>
<polyline points="397.5,222.8 401.0,217.6 404.5,219.5 408.0,238.1 411.6,230.8 415.1,203.6 418.6,183.0 422.1,200.2 425.7,196.5 429.2,185.9 432.7,189.0 436.2,183.4 439.7,182.9 443.3,182.9 446.8,189.5 450.3,172.5 453.8,155.3 457.3,170.2 460.9,195.3 464.4,188.0 467.9,189.9 471.4,184.5 475.0,188.7 478.5,181.9 482.0,183.1 485.5,175.5 489.0,186.1 492.6,174.2 496.1,182.5 499.6,184.0 503.1,176.4 506.6,166.8 510.2,167.5 513.7,157.7 517.2,169.2 520.7,159.0 524.2,169.3 527.8,156.9 531.3,163.2 534.8,161.7 538.3,156.2 541.9,159.0 545.4,160.3 548.9,152.0 552.4,166.0 555.9,155.9 559.5,162.2 563.0,160.1 566.5,165.8 570.0,166.5 573.5,164.7 577.1,161.2 580.6,150.5 584.1,148.1 587.6,141.1 591.2,143.0 594.7,145.6 598.2,155.3 601.7,149.4 605.2,155.0 608.8,149.2 612.3,151.2 615.8,150.6 619.3,152.5 622.8,154.0 626.4,160.1 629.9,154.8 633.4,159.9 636.9,161.1 640.5,162.9 644.0,156.6 647.5,167.5 651.0,172.4 654.5,188.7 658.1,195.1 661.6,215.7 665.1,213.5 668.6,206.5 672.1,204.2 675.7,195.9 679.2,176.0 682.7,158.7 686.2,154.9 689.8,154.5 693.3,144.8 696.8,142.0 700.3,139.5 703.8,132.6 707.4,129.0 710.9,123.2 714.4,106.0 717.9,118.1 721.4,115.8 725.0,129.7 728.5,128.8 732.0,122.3 735.5,119.1 739.0,127.8 742.6,121.8 746.1,123.0 749.6,106.2 753.1,115.9 756.7,119.9 760.2,114.5 763.7,116.4 767.2,123.1 770.7,113.5 774.3,118.0 777.8,109.0 781.3,109.4 784.8,110.4 788.3,100.5 791.9,109.3 795.4,96.4 798.9,101.7 802.4,97.2 806.0,109.0 809.5,103.3 813.0,114.2 816.5,106.0 820.0,112.8 823.6,107.8" fill="none" stroke="#30e060" stroke-width="0.55" stroke-opacity="0.85"/>
<g fill="url(#s13)"><circle cx="397.5" cy="222.8" r="2.32"/><circle cx="401.0" cy="217.6" r="2.32"/><circle cx="404.5" cy="219.5" r="2.32"/><circle cx="408.0" cy="238.1" r="2.32"/><circle cx="411.6" cy="230.8" r="2.32"/><circle cx="415.1" cy="203.6" r="2.32"/><circle cx="418.6" cy="183.0" r="2.32"/><circle cx="422.1" cy="200.2" r="2.32"/><circle cx="425.7" cy="196.5" r="2.32"/><circle cx="429.2" cy="185.9" r="2.32"/><circle cx="432.7" cy="189.0" r="2.32"/><circle cx="436.2" cy="183.4" r="2.32"/><circle cx="439.7" cy="182.9" r="2.32"/><circle cx="443.3" cy="182.9" r="2.32"/><circle cx="446.8" cy="189.5" r="2.32"/><circle cx="450.3" cy="172.5" r="2.32"/><circle cx="453.8" cy="155.3" r="2.32"/><circle cx="457.3" cy="170.2" r="2.32"/><circle cx="460.9" cy="195.3" r="2.32"/><circle cx="464.4" cy="188.0" r="2.32"/><circle cx="467.9" cy="189.9" r="2.32"/><circle cx="471.4" cy="184.5" r="2.32"/><circle cx="475.0" cy="188.7" r="2.32"/><circle cx="478.5" cy="181.9" r="2.32"/><circle cx="482.0" cy="183.1" r="2.32"/><circle cx="485.5" cy="175.5" r="2.32"/><circle cx="489.0" cy="186.1" r="2.32"/><circle cx="492.6" cy="174.2" r="2.32"/><circle cx="496.1" cy="182.5" r="2.32"/><circle cx="499.6" cy="184.0" r="2.32"/><circle cx="503.1" cy="176.4" r="2.32"/><circle cx="506.6" cy="166.8" r="2.32"/><circle cx="510.2" cy="167.5" r="2.32"/><circle cx="513.7" cy="157.7" r="2.32"/><circle cx="517.2" cy="169.2" r="2.32"/><circle cx="520.7" cy="159.0" r="2.32"/><circle cx="524.2" cy="169.3" r="2.32"/><circle cx="527.8" cy="156.9" r="2.32"/><circle cx="531.3" cy="163.2" r="2.32"/><circle cx="534.8" cy="161.7" r="2.32"/><circle cx="538.3" cy="156.2" r="2.32"/><circle cx="541.9" cy="159.0" r="2.32"/><circle cx="545.4" cy="160.3" r="2.32"/><circle cx="548.9" cy="152.0" r="2.32"/><circle cx="552.4" cy="166.0" r="2.32"/><circle cx="555.9" cy="155.9" r="2.32"/><circle cx="559.5" cy="162.2" r="2.32"/><circle cx="563.0" cy="160.1" r="2.32"/><circle cx="566.5" cy="165.8" r="2.32"/><circle cx="570.0" cy="166.5" r="2.32"/><circle cx="573.5" cy="164.7" r="2.32"/><circle cx="577.1" cy="161.2" r="2.32"/><circle cx="580.6" cy="150.5" r="2.32"/><circle cx="584.1" cy="148.1" r="2.32"/><circle cx="587.6" cy="141.1" r="2.32"/><circle cx="591.2" cy="143.0" r="2.32"/><circle cx="594.7" cy="145.6" r="2.32"/><circle cx="598.2" cy="155.3" r="2.32"/><circle cx="601.7" cy="149.4" r="2.32"/><circle cx="605.2" cy="155.0" r="2.32"/><circle cx="608.8" cy="149.2" r="2.32"/><circle cx="612.3" cy="151.2" r="2.32"/><circle cx="615.8" cy="150.6" r="2.32"/><circle cx="619.3" cy="152.5" r="2.32"/><circle cx="622.8" cy="154.0" r="2.32"/><circle cx="626.4" cy="160.1" r="2.32"/><circle cx="629.9" cy="154.8" r="2.32"/><circle cx="633.4" cy="159.9" r="2.32"/><circle cx="636.9" cy="161.1" r="2.32"/><circle cx="640.5" cy="162.9" r="2.32"/><circle cx="644.0" cy="156.6" r="2.32"/><circle cx="647.5" cy="167.5" r="2.32"/><circle cx="651.0" cy="172.4" r="2.32"/><circle cx="654.5" cy="188.7" r="2.32"/><circle cx="658.1" cy="195.1" r="2.32"/><circle cx="661.6" cy="215.7" r="2.32"/><circle cx="665.1" cy="213.5" r="2.32"/><circle cx="668.6" cy="206.5" r="2.32"/><circle cx="672.1" cy="204.2" r="2.32"/><circle cx="675.7" cy="195.9" r="2.32"/><circle cx="679.2" cy="176.0" r="2.32"/><circle cx="682.7" cy="158.7" r="2.32"/><circle cx="686.2" cy="154.9" r="2.32"/><circle cx="689.8" cy="154.5" r="2.32"/><circle cx="693.3" cy="144.8" r="2.32"/><circle cx="696.8" cy="142.0" r="2.32"/><circle cx="700.3" cy="139.5" r="2.32"/><circle cx="703.8" cy="132.6" r="2.32"/><circle cx="707.4" cy="129.0" r="2.32"/><circle cx="710.9" cy="123.2" r="2.32"/><circle cx="714.4" cy="106.0" r="2.32"/><circle cx="717.9" cy="118.1" r="2.32"/><circle cx="721.4" cy="115.8" r="2.32"/><circle cx="725.0" cy="129.7" r="2.32"/><circle cx="728.5" cy="128.8" r="2.32"/><circle cx="732.0" cy="122.3" r="2.32"/><circle cx="735.5" cy="119.1" r="2.32"/><circle cx="739.0" cy="127.8" r="2.32"/><circle cx="742.6" cy="121.8" r="2.32"/><circle cx="746.1" cy="123.0" r="2.32"/><circle cx="749.6" cy="106.2" r="2.32"/><circle cx="753.1" cy="115.9" r="2.32"/><circle cx="756.7" cy="119.9" r="2.32"/><circle cx="760.2" cy="114.5" r="2.32"/><circle cx="763.7" cy="116.4" r="2.32"/><circle cx="767.2" cy="123.1" r="2.32"/><circle cx="770.7" cy="113.5" r="2.32"/><circle cx="774.3" cy="118.0" r="2.32"/><circle cx="777.8" cy="109.0" r="2.32"/><circle cx="781.3" cy="109.4" r="2.32"/><circle cx="784.8" cy="110.4" r="2.32"/><circle cx="788.3" cy="100.5" r="2.32"/><circle cx="791.9" cy="109.3" r="2.32"/><circle cx="795.4" cy="96.4" r="2.32"/><circle cx="798.9" cy="101.7" r="2.32"/><circle cx="802.4" cy="97.2" r="2.32"/><circle cx="806.0" cy="109.0" r="2.32"/><circle cx="809.5" cy="103.3" r="2.32"/><circle cx="813.0" cy="114.2" r="2.32"/><circle cx="816.5" cy="106.0" r="2.32"/><circle cx="820.0" cy="112.8" r="2.32"/><circle cx="823.6" cy="107.8" r="2.32"/></g>
<polygon points="379.8,277.9 379.8,248.4 383.4,235.1 387.0,237.3 390.6,231.6 394.2,234.5 397.8,228.4 401.3,234.6 404.9,230.5 408.5,227.0 412.1,231.1 415.7,220.9 419.3,219.5 422.9,219.0 426.5,208.9 430.1,207.3 433.7,201.7 437.3,203.0 440.9,209.4 444.5,204.7 448.1,208.9 451.7,193.9 455.3,205.4 458.9,208.1 462.4,198.9 466.0,210.0 469.6,196.8 473.2,207.2 476.8,196.6 480.4,206.8 484.0,197.5 487.6,184.5 491.2,195.5 494.8,184.9 498.4,187.5 502.0,186.3 505.6,187.0 509.2,176.4 512.8,184.4 516.4,184.0 520.0,177.7 523.6,179.0 527.1,184.8 530.7,181.0 534.3,174.0 537.9,176.4 541.5,165.7 545.1,174.8 548.7,188.5 552.3,176.7 555.9,174.2 559.5,166.6 563.1,180.8 566.7,179.1 570.3,175.7 573.9,169.9 577.5,174.0 581.1,164.6 584.7,165.8 588.2,157.5 591.8,166.6 595.4,158.4 599.0,167.9 602.6,182.6 606.2,167.9 609.8,166.3 613.4,157.1 617.0,166.8 620.6,165.7 624.2,174.3 627.8,172.6 631.4,181.0 635.0,190.2 638.6,188.1 642.2,178.3 645.8,197.8 649.4,209.4 652.9,214.3 656.5,206.1 660.1,207.3 663.7,200.9 667.3,195.6 670.9,196.2 674.5,185.9 678.1,190.5 681.7,164.3 685.3,164.3 688.9,177.7 692.5,153.1 696.1,160.7 699.7,165.3 703.3,151.2 706.9,144.9 710.5,148.3 714.0,151.2 717.6,144.3 721.2,132.6 724.8,124.7 728.4,141.7 732.0,137.5 735.6,135.4 739.2,121.2 742.8,128.3 746.4,126.0 750.0,122.7 753.6,134.8 757.2,138.5 760.8,134.8 764.4,135.6 768.0,133.0 771.6,113.9 775.1,127.9 778.7,137.0 782.3,125.6 785.9,109.9 789.5,110.7 793.1,115.8 796.7,105.6 800.3,116.0 803.9,109.1 807.5,118.6 811.1,121.9 814.7,129.1 814.7,277.9" fill="url(#f12)" fill-opacity="0.657"/>
<polyline points="379.8,248.4 383.4,235.1 387.0,237.3 390.6,231.6 394.2,234.5 397.8,228.4 401.3,234.6 404.9,230.5 408.5,227.0 412.1,231.1 415.7,220.9 419.3,219.5 422.9,219.0 426.5,208.9 430.1,207.3 433.7,201.7 437.3,203.0 440.9,209.4 444.5,204.7 448.1,208.9 451.7,193.9 455.3,205.4 458.9,208.1 462.4,198.9 466.0,210.0 469.6,196.8 473.2,207.2 476.8,196.6 480.4,206.8 484.0,197.5 487.6,184.5 491.2,195.5 494.8,184.9 498.4,187.5 502.0,186.3 505.6,187.0 509.2,176.4 512.8,184.4 516.4,184.0 520.0,177.7 523.6,179.0 527.1,184.8 530.7,181.0 534.3,174.0 537.9,176.4 541.5,165.7 545.1,174.8 548.7,188.5 552.3,176.7 555.9,174.2 559.5,166.6 563.1,180.8 566.7,179.1 570.3,175.7 573.9,169.9 577.5,174.0 581.1,164.6 584.7,165.8 588.2,157.5 591.8,166.6 595.4,158.4 599.0,167.9 602.6,182.6 606.2,167.9 609.8,166.3 613.4,157.1 617.0,166.8 620.6,165.7 624.2,174.3 627.8,172.6 631.4,181.0 635.0,190.2 638.6,188.1 642.2,178.3 645.8,197.8 649.4,209.4 652.9,214.3 656.5,206.1 660.1,207.3 663.7,200.9 667.3,195.6 670.9,196.2 674.5,185.9 678.1,190.5 681.7,164.3 685.3,164.3 688.9,177.7 692.5,153.1 696.1,160.7 699.7,165.3 703.3,151.2 706.9,144.9 710.5,148.3 714.0,151.2 717.6,144.3 721.2,132.6 724.8,124.7 728.4,141.7 732.0,137.5 735.6,135.4 739.2,121.2 742.8,128.3 746.4,126.0 750.0,122.7 753.6,134.8 757.2,138.5 760.8,134.8 764.4,135.6 768.0,133.0 771.6,113.9 775.1,127.9 778.7,137.0 782.3,125.6 785.9,109.9 789.5,110.7 793.1,115.8 796.7,105.6 800.3,116.0 803.9,109.1 807.5,118.6 811.1,121.9 814.7,129.1" fill="none" stroke="#f0a030" stroke-width="0.55" stroke-opacity="0.85"/>
<g fill="url(#s12)"><circle cx="379.8" cy="248.4" r="2.37"/><circle cx="383.4" cy="235.1" r="2.37"/><circle cx="387.0" cy="237.3" r="2.37"/><circle cx="390.6" cy="231.6" r="2.37"/><circle cx="394.2" cy="234.5" r="2.37"/><circle cx="397.8" cy="228.4" r="2.37"/><circle cx="401.3" cy="234.6" r="2.37"/><circle cx="404.9" cy="230.5" r="2.37"/><circle cx="408.5" cy="227.0" r="2.37"/><circle cx="412.1" cy="231.1" r="2.37"/><circle cx="415.7" cy="220.9" r="2.37"/><circle cx="419.3" cy="219.5" r="2.37"/><circle cx="422.9" cy="219.0" r="2.37"/><circle cx="426.5" cy="208.9" r="2.37"/><circle cx="430.1" cy="207.3" r="2.37"/><circle cx="433.7" cy="201.7" r="2.37"/><circle cx="437.3" cy="203.0" r="2.37"/><circle cx="440.9" cy="209.4" r="2.37"/><circle cx="444.5" cy="204.7" r="2.37"/><circle cx="448.1" cy="208.9" r="2.37"/><circle cx="451.7" cy="193.9" r="2.37"/><circle cx="455.3" cy="205.4" r="2.37"/><circle cx="458.9" cy="208.1" r="2.37"/><circle cx="462.4" cy="198.9" r="2.37"/><circle cx="466.0" cy="210.0" r="2.37"/><circle cx="469.6" cy="196.8" r="2.37"/><circle cx="473.2" cy="207.2" r="2.37"/><circle cx="476.8" cy="196.6" r="2.37"/><circle cx="480.4" cy="206.8" r="2.37"/><circle cx="484.0" cy="197.5" r="2.37"/><circle cx="487.6" cy="184.5" r="2.37"/><circle cx="491.2" cy="195.5" r="2.37"/><circle cx="494.8" cy="184.9" r="2.37"/><circle cx="498.4" cy="187.5" r="2.37"/><circle cx="502.0" cy="186.3" r="2.37"/><circle cx="505.6" cy="187.0" r="2.37"/><circle cx="509.2" cy="176.4" r="2.37"/><circle cx="512.8" cy="184.4" r="2.37"/><circle cx="516.4" cy="184.0" r="2.37"/><circle cx="520.0" cy="177.7" r="2.37"/><circle cx="523.6" cy="179.0" r="2.37"/><circle cx="527.1" cy="184.8" r="2.37"/><circle cx="530.7" cy="181.0" r="2.37"/><circle cx="534.3" cy="174.0" r="2.37"/><circle cx="537.9" cy="176.4" r="2.37"/><circle cx="541.5" cy="165.7" r="2.37"/><circle cx="545.1" cy="174.8" r="2.37"/><circle cx="548.7" cy="188.5" r="2.37"/><circle cx="552.3" cy="176.7" r="2.37"/><circle cx="555.9" cy="174.2" r="2.37"/><circle cx="559.5" cy="166.6" r="2.37"/><circle cx="563.1" cy="180.8" r="2.37"/><circle cx="566.7" cy="179.1" r="2.37"/><circle cx="570.3" cy="175.7" r="2.37"/><circle cx="573.9" cy="169.9" r="2.37"/><circle cx="577.5" cy="174.0" r="2.37"/><circle cx="581.1" cy="164.6" r="2.37"/><circle cx="584.7" cy="165.8" r="2.37"/><circle cx="588.2" cy="157.5" r="2.37"/><circle cx="591.8" cy="166.6" r="2.37"/><circle cx="595.4" cy="158.4" r="2.37"/><circle cx="599.0" cy="167.9" r="2.37"/><circle cx="602.6" cy="182.6" r="2.37"/><circle cx="606.2" cy="167.9" r="2.37"/><circle cx="609.8" cy="166.3" r="2.37"/><circle cx="613.4" cy="157.1" r="2.37"/><circle cx="617.0" cy="166.8" r="2.37"/><circle cx="620.6" cy="165.7" r="2.37"/><circle cx="624.2" cy="174.3" r="2.37"/><circle cx="627.8" cy="172.6" r="2.37"/><circle cx="631.4" cy="181.0" r="2.37"/><circle cx="635.0" cy="190.2" r="2.37"/><circle cx="638.6" cy="188.1" r="2.37"/><circle cx="642.2" cy="178.3" r="2.37"/><circle cx="645.8" cy="197.8" r="2.37"/><circle cx="649.4" cy="209.4" r="2.37"/><circle cx="652.9" cy="214.3" r="2.37"/><circle cx="656.5" cy="206.1" r="2.37"/><circle cx="660.1" cy="207.3" r="2.37"/><circle cx="663.7" cy="200.9" r="2.37"/><circle cx="667.3" cy="195.6" r="2.37"/><circle cx="670.9" cy="196.2" r="2.37"/><circle cx="674.5" cy="185.9" r="2.37"/><circle cx="678.1" cy="190.5" r="2.37"/><circle cx="681.7" cy="164.3" r="2.37"/><circle cx="685.3" cy="164.3" r="2.37"/><circle cx="688.9" cy="177.7" r="2.37"/><circle cx="692.5" cy="153.1" r="2.37"/><circle cx="696.1" cy="160.7" r="2.37"/><circle cx="699.7" cy="165.3" r="2.37"/><circle cx="703.3" cy="151.2" r="2.37"/><circle cx="706.9" cy="144.9" r="2.37"/><circle cx="710.5" cy="148.3" r="2.37"/><circle cx="714.0" cy="151.2" r="2.37"/><circle cx="717.6" cy="144.3" r="2.37"/><circle cx="721.2" cy="132.6" r="2.37"/><circle cx="724.8" cy="124.7" r="2.37"/><circle cx="728.4" cy="141.7" r="2.37"/><circle cx="732.0" cy="137.5" r="2.37"/><circle cx="735.6" cy="135.4" r="2.37"/><circle cx="739.2" cy="121.2" r="2.37"/><circle cx="742.8" cy="128.3" r="2.37"/><circle cx="746.4" cy="126.0" r="2.37"/><circle cx="750.0" cy="122.7" r="2.37"/><circle cx="753.6" cy="134.8" r="2.37"/><circle cx="757.2" cy="138.5" r="2.37"/><circle cx="760.8" cy="134.8" r="2.37"/><circle cx="764.4" cy="135.6" r="2.37"/><circle cx="768.0" cy="133.0" r="2.37"/><circle cx="771.6" cy="113.9" r="2.37"/><circle cx="775.1" cy="127.9" r="2.37"/><circle cx="778.7" cy="137.0" r="2.37"/><circle cx="782.3" cy="125.6" r="2.37"/><circle cx="785.9" cy="109.9" r="2.37"/><circle cx="789.5" cy="110.7" r="2.37"/><circle cx="793.1" cy="115.8" r="2.37"/><circle cx="796.7" cy="105.6" r="2.37"/><circle cx="800.3" cy="116.0" r="2.37"/><circle cx="803.9" cy="109.1" r="2.37"/><circle cx="807.5" cy="118.6" r="2.37"/><circle cx="811.1" cy="121.9" r="2.37"/><circle cx="814.7" cy="129.1" r="2.37"/></g>
<polygon points="361.3,299.3 361.3,260.1 365.0,246.4 368.7,235.2 372.3,251.5 376.0,257.6 379.7,227.5 383.4,226.1 387.0,231.8 390.7,222.3 394.4,233.5 398.0,230.1 401.7,223.2 405.4,212.0 409.0,214.6 412.7,223.2 416.4,211.2 420.1,231.8 423.7,231.8 427.4,224.9 431.1,236.1 434.7,220.6 438.4,225.8 442.1,236.9 445.7,218.0 449.4,211.2 453.1,225.0 456.8,200.9 460.4,217.3 464.1,187.2 467.8,198.4 471.4,206.9 475.1,193.2 478.8,210.4 482.5,212.1 486.1,200.1 489.8,186.3 493.5,204.4 497.1,216.4 500.8,203.5 504.5,205.2 508.1,207.8 511.8,200.9 515.5,203.5 519.2,208.7 522.8,201.8 526.5,193.2 530.2,188.0 533.8,191.5 537.5,189.2 541.2,180.3 544.8,176.9 548.5,173.4 552.2,171.0 555.9,185.0 559.5,198.2 563.2,195.0 566.9,188.0 570.5,188.9 574.2,200.0 577.9,202.5 581.5,192.0 585.2,191.0 588.9,205.0 592.6,204.3 596.2,195.0 599.9,189.4 603.6,200.0 607.2,185.1 610.9,208.7 614.6,200.0 618.3,215.0 621.9,225.0 625.6,218.0 629.3,222.0 632.9,226.5 636.6,215.0 640.3,205.2 643.9,198.0 647.6,189.5 651.3,183.4 655.0,182.7 658.6,164.7 662.3,178.7 666.0,181.9 669.6,168.4 673.3,180.8 677.0,156.1 680.6,150.0 684.3,156.5 688.0,144.3 691.7,144.5 695.3,163.2 699.0,155.0 702.7,168.9 706.3,159.8 710.0,174.8 713.7,140.5 717.3,152.5 721.0,158.3 724.7,141.5 728.4,152.9 732.0,158.9 735.7,138.4 739.4,143.9 743.0,146.0 746.7,150.0 750.4,154.4 754.1,149.8 757.7,151.2 761.4,146.9 765.1,156.7 768.7,150.5 772.4,162.6 776.1,128.4 779.7,140.0 783.4,132.5 787.1,143.0 790.8,128.9 794.4,121.1 798.1,130.4 801.8,140.4 805.4,140.5 805.4,299.3" fill="url(#f11)" fill-opacity="0.657"/>
<polyline points="361.3,260.1 365.0,246.4 368.7,235.2 372.3,251.5 376.0,257.6 379.7,227.5 383.4,226.1 387.0,231.8 390.7,222.3 394.4,233.5 398.0,230.1 401.7,223.2 405.4,212.0 409.0,214.6 412.7,223.2 416.4,211.2 420.1,231.8 423.7,231.8 427.4,224.9 431.1,236.1 434.7,220.6 438.4,225.8 442.1,236.9 445.7,218.0 449.4,211.2 453.1,225.0 456.8,200.9 460.4,217.3 464.1,187.2 467.8,198.4 471.4,206.9 475.1,193.2 478.8,210.4 482.5,212.1 486.1,200.1 489.8,186.3 493.5,204.4 497.1,216.4 500.8,203.5 504.5,205.2 508.1,207.8 511.8,200.9 515.5,203.5 519.2,208.7 522.8,201.8 526.5,193.2 530.2,188.0 533.8,191.5 537.5,189.2 541.2,180.3 544.8,176.9 548.5,173.4 552.2,171.0 555.9,185.0 559.5,198.2 563.2,195.0 566.9,188.0 570.5,188.9 574.2,200.0 577.9,202.5 581.5,192.0 585.2,191.0 588.9,205.0 592.6,204.3 596.2,195.0 599.9,189.4 603.6,200.0 607.2,185.1 610.9,208.7 614.6,200.0 618.3,215.0 621.9,225.0 625.6,218.0 629.3,222.0 632.9,226.5 636.6,215.0 640.3,205.2 643.9,198.0 647.6,189.5 651.3,183.4 655.0,182.7 658.6,164.7 662.3,178.7 666.0,181.9 669.6,168.4 673.3,180.8 677.0,156.1 680.6,150.0 684.3,156.5 688.0,144.3 691.7,144.5 695.3,163.2 699.0,155.0 702.7,168.9 706.3,159.8 710.0,174.8 713.7,140.5 717.3,152.5 721.0,158.3 724.7,141.5 728.4,152.9 732.0,158.9 735.7,138.4 739.4,143.9 743.0,146.0 746.7,150.0 750.4,154.4 754.1,149.8 757.7,151.2 761.4,146.9 765.1,156.7 768.7,150.5 772.4,162.6 776.1,128.4 779.7,140.0 783.4,132.5 787.1,143.0 790.8,128.9 794.4,121.1 798.1,130.4 801.8,140.4 805.4,140.5" fill="none" stroke="#40d8e0" stroke-width="0.55" stroke-opacity="0.85"/>
<g fill="url(#s11)"><circle cx="361.3" cy="260.1" r="2.42"/><circle cx="365.0" cy="246.4" r="2.42"/><circle cx="368.7" cy="235.2" r="2.42"/><circle cx="372.3" cy="251.5" r="2.42"/><circle cx="376.0" cy="257.6" r="2.42"/><circle cx="379.7" cy="227.5" r="2.42"/><circle cx="383.4" cy="226.1" r="2.42"/><circle cx="387.0" cy="231.8" r="2.42"/><circle cx="390.7" cy="222.3" r="2.42"/><circle cx="394.4" cy="233.5" r="2.42"/><circle cx="398.0" cy="230.1" r="2.42"/><circle cx="401.7" cy="223.2" r="2.42"/><circle cx="405.4" cy="212.0" r="2.42"/><circle cx="409.0" cy="214.6" r="2.42"/><circle cx="412.7" cy="223.2" r="2.42"/><circle cx="416.4" cy="211.2" r="2.42"/><circle cx="420.1" cy="231.8" r="2.42"/><circle cx="423.7" cy="231.8" r="2.42"/><circle cx="427.4" cy="224.9" r="2.42"/><circle cx="431.1" cy="236.1" r="2.42"/><circle cx="434.7" cy="220.6" r="2.42"/><circle cx="438.4" cy="225.8" r="2.42"/><circle cx="442.1" cy="236.9" r="2.42"/><circle cx="445.7" cy="218.0" r="2.42"/><circle cx="449.4" cy="211.2" r="2.42"/><circle cx="453.1" cy="225.0" r="2.42"/><circle cx="456.8" cy="200.9" r="2.42"/><circle cx="460.4" cy="217.3" r="2.42"/><circle cx="464.1" cy="187.2" r="2.42"/><circle cx="467.8" cy="198.4" r="2.42"/><circle cx="471.4" cy="206.9" r="2.42"/><circle cx="475.1" cy="193.2" r="2.42"/><circle cx="478.8" cy="210.4" r="2.42"/><circle cx="482.5" cy="212.1" r="2.42"/><circle cx="486.1" cy="200.1" r="2.42"/><circle cx="489.8" cy="186.3" r="2.42"/><circle cx="493.5" cy="204.4" r="2.42"/><circle cx="497.1" cy="216.4" r="2.42"/><circle cx="500.8" cy="203.5" r="2.42"/><circle cx="504.5" cy="205.2" r="2.42"/><circle cx="508.1" cy="207.8" r="2.42"/><circle cx="511.8" cy="200.9" r="2.42"/><circle cx="515.5" cy="203.5" r="2.42"/><circle cx="519.2" cy="208.7" r="2.42"/><circle cx="522.8" cy="201.8" r="2.42"/><circle cx="526.5" cy="193.2" r="2.42"/><circle cx="530.2" cy="188.0" r="2.42"/><circle cx="533.8" cy="191.5" r="2.42"/><circle cx="537.5" cy="189.2" r="2.42"/><circle cx="541.2" cy="180.3" r="2.42"/><circle cx="544.8" cy="176.9" r="2.42"/><circle cx="548.5" cy="173.4" r="2.42"/><circle cx="552.2" cy="171.0" r="2.42"/><circle cx="555.9" cy="185.0" r="2.42"/><circle cx="559.5" cy="198.2" r="2.42"/><circle cx="563.2" cy="195.0" r="2.42"/><circle cx="566.9" cy="188.0" r="2.42"/><circle cx="570.5" cy="188.9" r="2.42"/><circle cx="574.2" cy="200.0" r="2.42"/><circle cx="577.9" cy="202.5" r="2.42"/><circle cx="581.5" cy="192.0" r="2.42"/><circle cx="585.2" cy="191.0" r="2.42"/><circle cx="588.9" cy="205.0" r="2.42"/><circle cx="592.6" cy="204.3" r="2.42"/><circle cx="596.2" cy="195.0" r="2.42"/><circle cx="599.9" cy="189.4" r="2.42"/><circle cx="603.6" cy="200.0" r="2.42"/><circle cx="607.2" cy="185.1" r="2.42"/><circle cx="610.9" cy="208.7" r="2.42"/><circle cx="614.6" cy="200.0" r="2.42"/><circle cx="618.3" cy="215.0" r="2.42"/><circle cx="621.9" cy="225.0" r="2.42"/><circle cx="625.6" cy="218.0" r="2.42"/><circle cx="629.3" cy="222.0" r="2.42"/><circle cx="632.9" cy="226.5" r="2.42"/><circle cx="636.6" cy="215.0" r="2.42"/><circle cx="640.3" cy="205.2" r="2.42"/><circle cx="643.9" cy="198.0" r="2.42"/><circle cx="647.6" cy="189.5" r="2.42"/><circle cx="651.3" cy="183.4" r="2.42"/><circle cx="655.0" cy="182.7" r="2.42"/><circle cx="658.6" cy="164.7" r="2.42"/><circle cx="662.3" cy="178.7" r="2.42"/><circle cx="666.0" cy="181.9" r="2.42"/><circle cx="669.6" cy="168.4" r="2.42"/><circle cx="673.3" cy="180.8" r="2.42"/><circle cx="677.0" cy="156.1" r="2.42"/><circle cx="680.6" cy="150.0" r="2.42"/><circle cx="684.3" cy="156.5" r="2.42"/><circle cx="688.0" cy="144.3" r="2.42"/><circle cx="691.7" cy="144.5" r="2.42"/><circle cx="695.3" cy="163.2" r="2.42"/><circle cx="699.0" cy="155.0" r="2.42"/><circle cx="702.7" cy="168.9" r="2.42"/><circle cx="706.3" cy="159.8" r="2.42"/><circle cx="710.0" cy="174.8" r="2.42"/><circle cx="713.7" cy="140.5" r="2.42"/><circle cx="717.3" cy="152.5" r="2.42"/><circle cx="721.0" cy="158.3" r="2.42"/><circle cx="724.7" cy="141.5" r="2.42"/><circle cx="728.4" cy="152.9" r="2.42"/><circle cx="732.0" cy="158.9" r="2.42"/><circle cx="735.7" cy="138.4" r="2.42"/><circle cx="739.4" cy="143.9" r="2.42"/><circle cx="743.0" cy="146.0" r="2.42"/><circle cx="746.7" cy="150.0" r="2.42"/><circle cx="750.4" cy="154.4" r="2.42"/><circle cx="754.1" cy="149.8" r="2.42"/><circle cx="757.7" cy="151.2" r="2.42"/><circle cx="761.4" cy="146.9" r="2.42"/><circle cx="765.1" cy="156.7" r="2.42"/><circle cx="768.7" cy="150.5" r="2.42"/><circle cx="772.4" cy="162.6" r="2.42"/><circle cx="776.1" cy="128.4" r="2.42"/><circle cx="779.7" cy="140.0" r="2.42"/><circle cx="783.4" cy="132.5" r="2.42"/><circle cx="787.1" cy="143.0" r="2.42"/><circle cx="790.8" cy="128.9" r="2.42"/><circle cx="794.4" cy="121.1" r="2.42"/><circle cx="798.1" cy="130.4" r="2.42"/><circle cx="801.8" cy="140.4" r="2.42"/><circle cx="805.4" cy="140.5" r="2.42"/></g>
<polygon points="342.1,321.6 342.1,286.8 345.8,283.8 349.6,282.5 353.3,279.0 357.1,273.0 360.8,275.6 364.6,275.6 368.3,277.0 372.1,273.9 375.8,266.2 379.6,264.4 383.3,268.7 387.1,270.4 390.8,267.9 394.6,261.2 398.3,255.8 402.1,256.7 405.8,260.1 409.6,260.1 413.3,260.1 417.1,255.8 420.8,254.1 424.6,252.4 428.3,249.0 432.1,243.0 435.8,239.9 439.6,245.5 443.3,243.8 447.1,240.4 450.8,245.5 454.6,243.9 458.3,243.0 462.1,239.6 465.8,240.4 469.6,239.6 473.3,234.4 477.1,230.1 480.8,234.4 484.6,239.6 488.3,244.7 492.1,245.6 495.8,240.4 499.6,228.4 503.3,229.3 507.1,230.1 510.8,225.8 514.6,224.1 518.3,226.7 522.1,230.1 525.8,230.1 529.6,226.7 533.3,225.0 537.1,227.6 540.8,225.8 544.6,220.7 548.3,218.1 552.1,215.5 555.8,211.2 559.6,208.7 563.3,215.5 567.1,216.4 570.8,214.7 574.6,213.8 578.3,211.2 582.1,213.8 585.8,215.5 589.6,219.8 593.3,219.0 597.1,211.2 600.8,221.5 604.6,222.1 608.3,220.4 612.1,222.7 615.8,222.7 619.6,225.9 623.3,233.4 627.1,233.4 630.8,234.5 634.6,240.0 638.3,245.2 642.1,246.0 645.8,246.0 649.6,249.0 653.3,248.0 657.1,245.9 660.8,247.2 664.6,236.0 668.3,224.2 672.1,219.8 675.8,209.7 679.5,205.8 683.3,199.6 687.0,191.8 690.8,190.5 694.5,188.3 698.3,189.8 702.0,188.3 705.8,187.1 709.5,189.9 713.3,187.2 717.0,188.3 720.8,188.3 724.5,178.9 728.3,167.9 732.0,166.9 735.8,164.7 739.5,163.5 743.3,166.9 747.0,167.9 750.8,163.2 754.5,173.3 758.3,185.1 762.0,183.0 765.8,185.1 769.5,177.2 773.3,173.3 777.0,173.3 780.8,172.2 784.5,177.0 788.3,179.1 792.0,179.7 795.8,181.2 795.8,321.6" fill="url(#f10)" fill-opacity="0.657"/>
<polyline points="342.1,286.8 345.8,283.8 349.6,282.5 353.3,279.0 357.1,273.0 360.8,275.6 364.6,275.6 368.3,277.0 372.1,273.9 375.8,266.2 379.6,264.4 383.3,268.7 387.1,270.4 390.8,267.9 394.6,261.2 398.3,255.8 402.1,256.7 405.8,260.1 409.6,260.1 413.3,260.1 417.1,255.8 420.8,254.1 424.6,252.4 428.3,249.0 432.1,243.0 435.8,239.9 439.6,245.5 443.3,243.8 447.1,240.4 450.8,245.5 454.6,243.9 458.3,243.0 462.1,239.6 465.8,240.4 469.6,239.6 473.3,234.4 477.1,230.1 480.8,234.4 484.6,239.6 488.3,244.7 492.1,245.6 495.8,240.4 499.6,228.4 503.3,229.3 507.1,230.1 510.8,225.8 514.6,224.1 518.3,226.7 522.1,230.1 525.8,230.1 529.6,226.7 533.3,225.0 537.1,227.6 540.8,225.8 544.6,220.7 548.3,218.1 552.1,215.5 555.8,211.2 559.6,208.7 563.3,215.5 567.1,216.4 570.8,214.7 574.6,213.8 578.3,211.2 582.1,213.8 585.8,215.5 589.6,219.8 593.3,219.0 597.1,211.2 600.8,221.5 604.6,222.1 608.3,220.4 612.1,222.7 615.8,222.7 619.6,225.9 623.3,233.4 627.1,233.4 630.8,234.5 634.6,240.0 638.3,245.2 642.1,246.0 645.8,246.0 649.6,249.0 653.3,248.0 657.1,245.9 660.8,247.2 664.6,236.0 668.3,224.2 672.1,219.8 675.8,209.7 679.5,205.8 683.3,199.6 687.0,191.8 690.8,190.5 694.5,188.3 698.3,189.8 702.0,188.3 705.8,187.1 709.5,189.9 713.3,187.2 717.0,188.3 720.8,188.3 724.5,178.9 728.3,167.9 732.0,166.9 735.8,164.7 739.5,163.5 743.3,166.9 747.0,167.9 750.8,163.2 754.5,173.3 758.3,185.1 762.0,183.0 765.8,185.1 769.5,177.2 773.3,173.3 777.0,173.3 780.8,172.2 784.5,177.0 788.3,179.1 792.0,179.7 795.8,181.2" fill="none" stroke="#3c96f0" stroke-width="0.55" stroke-opacity="0.85"/>
<g fill="url(#s10)"><circle cx="342.1" cy="286.8" r="2.47"/><circle cx="345.8" cy="283.8" r="2.47"/><circle cx="349.6" cy="282.5" r="2.47"/><circle cx="353.3" cy="279.0" r="2.47"/><circle cx="357.1" cy="273.0" r="2.47"/><circle cx="360.8" cy="275.6" r="2.47"/><circle cx="364.6" cy="275.6" r="2.47"/><circle cx="368.3" cy="277.0" r="2.47"/><circle cx="372.1" cy="273.9" r="2.47"/><circle cx="375.8" cy="266.2" r="2.47"/><circle cx="379.6" cy="264.4" r="2.47"/><circle cx="383.3" cy="268.7" r="2.47"/><circle cx="387.1" cy="270.4" r="2.47"/><circle cx="390.8" cy="267.9" r="2.47"/><circle cx="394.6" cy="261.2" r="2.47"/><circle cx="398.3" cy="255.8" r="2.47"/><circle cx="402.1" cy="256.7" r="2.47"/><circle cx="405.8" cy="260.1" r="2.47"/><circle cx="409.6" cy="260.1" r="2.47"/><circle cx="413.3" cy="260.1" r="2.47"/><circle cx="417.1" cy="255.8" r="2.47"/><circle cx="420.8" cy="254.1" r="2.47"/><circle cx="424.6" cy="252.4" r="2.47"/><circle cx="428.3" cy="249.0" r="2.47"/><circle cx="432.1" cy="243.0" r="2.47"/><circle cx="435.8" cy="239.9" r="2.47"/><circle cx="439.6" cy="245.5" r="2.47"/><circle cx="443.3" cy="243.8" r="2.47"/><circle cx="447.1" cy="240.4" r="2.47"/><circle cx="450.8" cy="245.5" r="2.47"/><circle cx="454.6" cy="243.9" r="2.47"/><circle cx="458.3" cy="243.0" r="2.47"/><circle cx="462.1" cy="239.6" r="2.47"/><circle cx="465.8" cy="240.4" r="2.47"/><circle cx="469.6" cy="239.6" r="2.47"/><circle cx="473.3" cy="234.4" r="2.47"/><circle cx="477.1" cy="230.1" r="2.47"/><circle cx="480.8" cy="234.4" r="2.47"/><circle cx="484.6" cy="239.6" r="2.47"/><circle cx="488.3" cy="244.7" r="2.47"/><circle cx="492.1" cy="245.6" r="2.47"/><circle cx="495.8" cy="240.4" r="2.47"/><circle cx="499.6" cy="228.4" r="2.47"/><circle cx="503.3" cy="229.3" r="2.47"/><circle cx="507.1" cy="230.1" r="2.47"/><circle cx="510.8" cy="225.8" r="2.47"/><circle cx="514.6" cy="224.1" r="2.47"/><circle cx="518.3" cy="226.7" r="2.47"/><circle cx="522.1" cy="230.1" r="2.47"/><circle cx="525.8" cy="230.1" r="2.47"/><circle cx="529.6" cy="226.7" r="2.47"/><circle cx="533.3" cy="225.0" r="2.47"/><circle cx="537.1" cy="227.6" r="2.47"/><circle cx="540.8" cy="225.8" r="2.47"/><circle cx="544.6" cy="220.7" r="2.47"/><circle cx="548.3" cy="218.1" r="2.47"/><circle cx="552.1" cy="215.5" r="2.47"/><circle cx="555.8" cy="211.2" r="2.47"/><circle cx="559.6" cy="208.7" r="2.47"/><circle cx="563.3" cy="215.5" r="2.47"/><circle cx="567.1" cy="216.4" r="2.47"/><circle cx="570.8" cy="214.7" r="2.47"/><circle cx="574.6" cy="213.8" r="2.47"/><circle cx="578.3" cy="211.2" r="2.47"/><circle cx="582.1" cy="213.8" r="2.47"/><circle cx="585.8" cy="215.5" r="2.47"/><circle cx="589.6" cy="219.8" r="2.47"/><circle cx="593.3" cy="219.0" r="2.47"/><circle cx="597.1" cy="211.2" r="2.47"/><circle cx="600.8" cy="221.5" r="2.47"/><circle cx="604.6" cy="222.1" r="2.47"/><circle cx="608.3" cy="220.4" r="2.47"/><circle cx="612.1" cy="222.7" r="2.47"/><circle cx="615.8" cy="222.7" r="2.47"/><circle cx="619.6" cy="225.9" r="2.47"/><circle cx="623.3" cy="233.4" r="2.47"/><circle cx="627.1" cy="233.4" r="2.47"/><circle cx="630.8" cy="234.5" r="2.47"/><circle cx="634.6" cy="240.0" r="2.47"/><circle cx="638.3" cy="245.2" r="2.47"/><circle cx="642.1" cy="246.0" r="2.47"/><circle cx="645.8" cy="246.0" r="2.47"/><circle cx="649.6" cy="249.0" r="2.47"/><circle cx="653.3" cy="248.0" r="2.47"/><circle cx="657.1" cy="245.9" r="2.47"/><circle cx="660.8" cy="247.2" r="2.47"/><circle cx="664.6" cy="236.0" r="2.47"/><circle cx="668.3" cy="224.2" r="2.47"/><circle cx="672.1" cy="219.8" r="2.47"/><circle cx="675.8" cy="209.7" r="2.47"/><circle cx="679.5" cy="205.8" r="2.47"/><circle cx="683.3" cy="199.6" r="2.47"/><circle cx="687.0" cy="191.8" r="2.47"/><circle cx="690.8" cy="190.5" r="2.47"/><circle cx="694.5" cy="188.3" r="2.47"/><circle cx="698.3" cy="189.8" r="2.47"/><circle cx="702.0" cy="188.3" r="2.47"/><circle cx="705.8" cy="187.1" r="2.47"/><circle cx="709.5" cy="189.9" r="2.47"/><circle cx="713.3" cy="187.2" r="2.47"/><circle cx="717.0" cy="188.3" r="2.47"/><circle cx="720.8" cy="188.3" r="2.47"/><circle cx="724.5" cy="178.9" r="2.47"/><circle cx="728.3" cy="167.9" r="2.47"/><circle cx="732.0" cy="166.9" r="2.47"/><circle cx="735.8" cy="164.7" r="2.47"/><circle cx="739.5" cy="163.5" r="2.47"/><circle cx="743.3" cy="166.9" r="2.47"/><circle cx="747.0" cy="167.9" r="2.47"/><circle cx="750.8" cy="163.2" r="2.47"/><circle cx="754.5" cy="173.3" r="2.47"/><circle cx="758.3" cy="185.1" r="2.47"/><circle cx="762.0" cy="183.0" r="2.47"/><circle cx="765.8" cy="185.1" r="2.47"/><circle cx="769.5" cy="177.2" r="2.47"/><circle cx="773.3" cy="173.3" r="2.47"/><circle cx="777.0" cy="173.3" r="2.47"/><circle cx="780.8" cy="172.2" r="2.47"/><circle cx="784.5" cy="177.0" r="2.47"/><circle cx="788.3" cy="179.1" r="2.47"/><circle cx="792.0" cy="179.7" r="2.47"/><circle cx="795.8" cy="181.2" r="2.47"/></g>
<polygon points="322.0,344.9 322.0,311.7 325.8,308.2 329.7,304.8 333.5,300.5 337.3,296.2 341.2,294.5 345.0,296.2 348.8,292.8 352.6,294.2 356.5,290.2 360.3,279.9 364.1,274.7 368.0,277.3 371.8,275.6 375.6,273.0 379.5,266.2 383.3,260.1 387.1,259.3 391.0,260.1 394.8,261.9 398.6,265.3 402.5,270.4 406.3,271.3 410.1,270.4 414.0,271.9 417.8,269.6 421.6,268.4 425.5,265.3 429.3,266.2 433.1,274.7 437.0,277.3 440.8,269.6 444.6,256.7 448.5,254.6 452.3,256.7 456.1,260.2 460.0,260.2 463.8,255.1 467.6,250.1 471.5,249.0 475.3,245.7 479.1,248.2 483.0,250.1 486.8,246.5 490.6,233.6 494.4,224.1 498.3,237.0 502.1,244.7 505.9,244.7 509.8,240.8 513.6,236.2 517.4,235.3 521.3,237.9 525.1,231.0 528.9,230.1 532.8,229.3 536.6,224.6 540.4,231.0 544.3,236.2 548.1,236.2 551.9,243.0 555.8,236.2 559.6,234.4 563.4,240.4 567.3,243.9 571.1,237.0 574.9,237.0 578.8,241.3 582.6,246.5 586.4,254.2 590.3,264.2 594.1,277.6 597.9,303.0 601.8,311.0 605.6,310.5 609.4,302.7 613.3,294.5 617.1,294.8 620.9,280.8 624.8,262.5 628.6,246.3 632.4,236.7 636.2,229.2 640.1,222.7 643.9,215.6 647.7,215.2 651.6,222.7 655.4,224.2 659.2,217.8 663.1,219.5 666.9,216.3 670.7,212.6 674.6,201.2 678.4,201.2 682.2,213.0 686.1,206.6 689.9,212.6 693.7,215.6 697.6,203.4 701.4,191.6 705.2,185.1 709.1,180.8 712.9,185.1 716.7,195.4 720.6,193.3 724.4,174.4 728.2,177.0 732.1,185.1 735.9,191.1 739.7,183.0 743.6,195.9 747.4,198.0 751.2,192.6 755.1,192.6 758.9,189.4 762.7,179.3 766.5,178.2 770.4,179.7 774.2,179.7 778.0,182.5 781.9,180.8 785.7,178.7 785.7,344.9" fill="url(#f9)" fill-opacity="0.657"/>
<polyline points="322.0,311.7 325.8,308.2 329.7,304.8 333.5,300.5 337.3,296.2 341.2,294.5 345.0,296.2 348.8,292.8 352.6,294.2 356.5,290.2 360.3,279.9 364.1,274.7 368.0,277.3 371.8,275.6 375.6,273.0 379.5,266.2 383.3,260.1 387.1,259.3 391.0,260.1 394.8,261.9 398.6,265.3 402.5,270.4 406.3,271.3 410.1,270.4 414.0,271.9 417.8,269.6 421.6,268.4 425.5,265.3 429.3,266.2 433.1,274.7 437.0,277.3 440.8,269.6 444.6,256.7 448.5,254.6 452.3,256.7 456.1,260.2 460.0,260.2 463.8,255.1 467.6,250.1 471.5,249.0 475.3,245.7 479.1,248.2 483.0,250.1 486.8,246.5 490.6,233.6 494.4,224.1 498.3,237.0 502.1,244.7 505.9,244.7 509.8,240.8 513.6,236.2 517.4,235.3 521.3,237.9 525.1,231.0 528.9,230.1 532.8,229.3 536.6,224.6 540.4,231.0 544.3,236.2 548.1,236.2 551.9,243.0 555.8,236.2 559.6,234.4 563.4,240.4 567.3,243.9 571.1,237.0 574.9,237.0 578.8,241.3 582.6,246.5 586.4,254.2 590.3,264.2 594.1,277.6 597.9,303.0 601.8,311.0 605.6,310.5 609.4,302.7 613.3,294.5 617.1,294.8 620.9,280.8 624.8,262.5 628.6,246.3 632.4,236.7 636.2,229.2 640.1,222.7 643.9,215.6 647.7,215.2 651.6,222.7 655.4,224.2 659.2,217.8 663.1,219.5 666.9,216.3 670.7,212.6 674.6,201.2 678.4,201.2 682.2,213.0 686.1,206.6 689.9,212.6 693.7,215.6 697.6,203.4 701.4,191.6 705.2,185.1 709.1,180.8 712.9,185.1 716.7,195.4 720.6,193.3 724.4,174.4 728.2,177.0 732.1,185.1 735.9,191.1 739.7,183.0 743.6,195.9 747.4,198.0 751.2,192.6 755.1,192.6 758.9,189.4 762.7,179.3 766.5,178.2 770.4,179.7 774.2,179.7 778.0,182.5 781.9,180.8 785.7,178.7" fill="none" stroke="#f0f000" stroke-width="0.55" stroke-opacity="0.85"/>
<g fill="url(#s9)"><circle cx="322.0" cy="311.7" r="2.53"/><circle cx="325.8" cy="308.2" r="2.53"/><circle cx="329.7" cy="304.8" r="2.53"/><circle cx="333.5" cy="300.5" r="2.53"/><circle cx="337.3" cy="296.2" r="2.53"/><circle cx="341.2" cy="294.5" r="2.53"/><circle cx="345.0" cy="296.2" r="2.53"/><circle cx="348.8" cy="292.8" r="2.53"/><circle cx="352.6" cy="294.2" r="2.53"/><circle cx="356.5" cy="290.2" r="2.53"/><circle cx="360.3" cy="279.9" r="2.53"/><circle cx="364.1" cy="274.7" r="2.53"/><circle cx="368.0" cy="277.3" r="2.53"/><circle cx="371.8" cy="275.6" r="2.53"/><circle cx="375.6" cy="273.0" r="2.53"/><circle cx="379.5" cy="266.2" r="2.53"/><circle cx="383.3" cy="260.1" r="2.53"/><circle cx="387.1" cy="259.3" r="2.53"/><circle cx="391.0" cy="260.1" r="2.53"/><circle cx="394.8" cy="261.9" r="2.53"/><circle cx="398.6" cy="265.3" r="2.53"/><circle cx="402.5" cy="270.4" r="2.53"/><circle cx="406.3" cy="271.3" r="2.53"/><circle cx="410.1" cy="270.4" r="2.53"/><circle cx="414.0" cy="271.9" r="2.53"/><circle cx="417.8" cy="269.6" r="2.53"/><circle cx="421.6" cy="268.4" r="2.53"/><circle cx="425.5" cy="265.3" r="2.53"/><circle cx="429.3" cy="266.2" r="2.53"/><circle cx="433.1" cy="274.7" r="2.53"/><circle cx="437.0" cy="277.3" r="2.53"/><circle cx="440.8" cy="269.6" r="2.53"/><circle cx="444.6" cy="256.7" r="2.53"/><circle cx="448.5" cy="254.6" r="2.53"/><circle cx="452.3" cy="256.7" r="2.53"/><circle cx="456.1" cy="260.2" r="2.53"/><circle cx="460.0" cy="260.2" r="2.53"/><circle cx="463.8" cy="255.1" r="2.53"/><circle cx="467.6" cy="250.1" r="2.53"/><circle cx="471.5" cy="249.0" r="2.53"/><circle cx="475.3" cy="245.7" r="2.53"/><circle cx="479.1" cy="248.2" r="2.53"/><circle cx="483.0" cy="250.1" r="2.53"/><circle cx="486.8" cy="246.5" r="2.53"/><circle cx="490.6" cy="233.6" r="2.53"/><circle cx="494.4" cy="224.1" r="2.53"/><circle cx="498.3" cy="237.0" r="2.53"/><circle cx="502.1" cy="244.7" r="2.53"/><circle cx="505.9" cy="244.7" r="2.53"/><circle cx="509.8" cy="240.8" r="2.53"/><circle cx="513.6" cy="236.2" r="2.53"/><circle cx="517.4" cy="235.3" r="2.53"/><circle cx="521.3" cy="237.9" r="2.53"/><circle cx="525.1" cy="231.0" r="2.53"/><circle cx="528.9" cy="230.1" r="2.53"/><circle cx="532.8" cy="229.3" r="2.53"/><circle cx="536.6" cy="224.6" r="2.53"/><circle cx="540.4" cy="231.0" r="2.53"/><circle cx="544.3" cy="236.2" r="2.53"/><circle cx="548.1" cy="236.2" r="2.53"/><circle cx="551.9" cy="243.0" r="2.53"/><circle cx="555.8" cy="236.2" r="2.53"/><circle cx="559.6" cy="234.4" r="2.53"/><circle cx="563.4" cy="240.4" r="2.53"/><circle cx="567.3" cy="243.9" r="2.53"/><circle cx="571.1" cy="237.0" r="2.53"/><circle cx="574.9" cy="237.0" r="2.53"/><circle cx="578.8" cy="241.3" r="2.53"/><circle cx="582.6" cy="246.5" r="2.53"/><circle cx="586.4" cy="254.2" r="2.53"/><circle cx="590.3" cy="264.2" r="2.53"/><circle cx="594.1" cy="277.6" r="2.53"/><circle cx="597.9" cy="303.0" r="2.53"/><circle cx="601.8" cy="311.0" r="2.53"/><circle cx="605.6" cy="310.5" r="2.53"/><circle cx="609.4" cy="302.7" r="2.53"/><circle cx="613.3" cy="294.5" r="2.53"/><circle cx="617.1" cy="294.8" r="2.53"/><circle cx="620.9" cy="280.8" r="2.53"/><circle cx="624.8" cy="262.5" r="2.53"/><circle cx="628.6" cy="246.3" r="2.53"/><circle cx="632.4" cy="236.7" r="2.53"/><circle cx="636.2" cy="229.2" r="2.53"/><circle cx="640.1" cy="222.7" r="2.53"/><circle cx="643.9" cy="215.6" r="2.53"/><circle cx="647.7" cy="215.2" r="2.53"/><circle cx="651.6" cy="222.7" r="2.53"/><circle cx="655.4" cy="224.2" r="2.53"/><circle cx="659.2" cy="217.8" r="2.53"/><circle cx="663.1" cy="219.5" r="2.53"/><circle cx="666.9" cy="216.3" r="2.53"/><circle cx="670.7" cy="212.6" r="2.53"/><circle cx="674.6" cy="201.2" r="2.53"/><circle cx="678.4" cy="201.2" r="2.53"/><circle cx="682.2" cy="213.0" r="2.53"/><circle cx="686.1" cy="206.6" r="2.53"/><circle cx="689.9" cy="212.6" r="2.53"/><circle cx="693.7" cy="215.6" r="2.53"/><circle cx="697.6" cy="203.4" r="2.53"/><circle cx="701.4" cy="191.6" r="2.53"/><circle cx="705.2" cy="185.1" r="2.53"/><circle cx="709.1" cy="180.8" r="2.53"/><circle cx="712.9" cy="185.1" r="2.53"/><circle cx="716.7" cy="195.4" r="2.53"/><circle cx="720.6" cy="193.3" r="2.53"/><circle cx="724.4" cy="174.4" r="2.53"/><circle cx="728.2" cy="177.0" r="2.53"/><circle cx="732.1" cy="185.1" r="2.53"/><circle cx="735.9" cy="191.1" r="2.53"/><circle cx="739.7" cy="183.0" r="2.53"/><circle cx="743.6" cy="195.9" r="2.53"/><circle cx="747.4" cy="198.0" r="2.53"/><circle cx="751.2" cy="192.6" r="2.53"/><circle cx="755.1" cy="192.6" r="2.53"/><circle cx="758.9" cy="189.4" r="2.53"/><circle cx="762.7" cy="179.3" r="2.53"/><circle cx="766.5" cy="178.2" r="2.53"/><circle cx="770.4" cy="179.7" r="2.53"/><circle cx="774.2" cy="179.7" r="2.53"/><circle cx="778.0" cy="182.5" r="2.53"/><circle cx="781.9" cy="180.8" r="2.53"/><circle cx="785.7" cy="178.7" r="2.53"/></g>
<polygon points="301.0,369.3 301.0,327.9 304.9,327.7 308.8,327.5 312.7,327.4 316.7,327.5 320.6,327.5 324.5,327.5 328.4,326.8 332.3,322.9 336.3,319.4 340.2,316.4 344.1,313.6 348.0,311.2 351.9,309.3 355.9,307.7 359.8,306.2 363.7,304.6 367.6,303.2 371.5,301.9 375.4,300.6 379.4,299.3 383.3,299.5 387.2,300.5 391.1,298.0 395.0,292.0 399.0,289.6 402.9,287.5 406.8,285.6 410.7,284.2 414.6,283.9 418.6,283.6 422.5,283.4 426.4,283.3 430.3,283.2 434.2,282.8 438.2,282.3 442.1,281.9 446.0,281.6 449.9,282.5 453.8,281.0 457.7,279.4 461.7,277.3 465.6,275.0 469.5,273.3 473.4,272.1 477.3,270.7 481.3,268.9 485.2,267.1 489.1,271.7 493.0,273.5 496.9,274.6 500.9,273.5 504.8,272.3 508.7,270.5 512.6,268.7 516.5,268.5 520.4,268.7 524.4,268.4 528.3,267.6 532.2,266.5 536.1,264.9 540.0,263.5 544.0,263.2 547.9,262.8 551.8,263.4 555.7,264.1 559.6,264.9 563.6,265.8 567.5,267.2 571.4,268.8 575.3,270.9 579.2,273.8 583.2,281.1 587.1,292.5 591.0,303.6 594.9,313.2 598.8,320.0 602.7,322.8 606.7,320.3 610.6,314.8 614.5,305.4 618.4,291.5 622.3,278.7 626.3,268.2 630.2,262.4 634.1,256.5 638.0,250.9 641.9,245.6 645.9,239.5 649.8,235.2 653.7,231.3 657.6,228.8 661.5,227.8 665.4,228.7 669.4,230.0 673.3,231.2 677.2,229.2 681.1,227.8 685.0,227.1 689.0,226.0 692.9,224.8 696.8,224.1 700.7,222.9 704.6,221.1 708.6,219.9 712.5,221.5 716.4,224.4 720.3,225.9 724.2,224.3 728.2,220.3 732.1,216.3 736.0,214.3 739.9,214.6 743.8,215.1 747.7,215.5 751.7,215.6 755.6,215.5 759.5,215.3 763.4,215.3 767.3,215.6 771.3,215.2 775.2,214.8 775.2,369.3" fill="url(#f8)" fill-opacity="0.657"/>
<polyline points="301.0,327.9 304.9,327.7 308.8,327.5 312.7,327.4 316.7,327.5 320.6,327.5 324.5,327.5 328.4,326.8 332.3,322.9 336.3,319.4 340.2,316.4 344.1,313.6 348.0,311.2 351.9,309.3 355.9,307.7 359.8,306.2 363.7,304.6 367.6,303.2 371.5,301.9 375.4,300.6 379.4,299.3 383.3,299.5 387.2,300.5 391.1,298.0 395.0,292.0 399.0,289.6 402.9,287.5 406.8,285.6 410.7,284.2 414.6,283.9 418.6,283.6 422.5,283.4 426.4,283.3 430.3,283.2 434.2,282.8 438.2,282.3 442.1,281.9 446.0,281.6 449.9,282.5 453.8,281.0 457.7,279.4 461.7,277.3 465.6,275.0 469.5,273.3 473.4,272.1 477.3,270.7 481.3,268.9 485.2,267.1 489.1,271.7 493.0,273.5 496.9,274.6 500.9,273.5 504.8,272.3 508.7,270.5 512.6,268.7 516.5,268.5 520.4,268.7 524.4,268.4 528.3,267.6 532.2,266.5 536.1,264.9 540.0,263.5 544.0,263.2 547.9,262.8 551.8,263.4 555.7,264.1 559.6,264.9 563.6,265.8 567.5,267.2 571.4,268.8 575.3,270.9 579.2,273.8 583.2,281.1 587.1,292.5 591.0,303.6 594.9,313.2 598.8,320.0 602.7,322.8 606.7,320.3 610.6,314.8 614.5,305.4 618.4,291.5 622.3,278.7 626.3,268.2 630.2,262.4 634.1,256.5 638.0,250.9 641.9,245.6 645.9,239.5 649.8,235.2 653.7,231.3 657.6,228.8 661.5,227.8 665.4,228.7 669.4,230.0 673.3,231.2 677.2,229.2 681.1,227.8 685.0,227.1 689.0,226.0 692.9,224.8 696.8,224.1 700.7,222.9 704.6,221.1 708.6,219.9 712.5,221.5 716.4,224.4 720.3,225.9 724.2,224.3 728.2,220.3 732.1,216.3 736.0,214.3 739.9,214.6 743.8,215.1 747.7,215.5 751.7,215.6 755.6,215.5 759.5,215.3 763.4,215.3 767.3,215.6 771.3,215.2 775.2,214.8" fill="none" stroke="#e00000" stroke-width="0.55" stroke-opacity="0.85"/>
<g fill="url(#s8)"><circle cx="301.0" cy="327.9" r="2.59"/><circle cx="304.9" cy="327.7" r="2.59"/><circle cx="308.8" cy="327.5" r="2.59"/><circle cx="312.7" cy="327.4" r="2.59"/><circle cx="316.7" cy="327.5" r="2.59"/><circle cx="320.6" cy="327.5" r="2.59"/><circle cx="324.5" cy="327.5" r="2.59"/><circle cx="328.4" cy="326.8" r="2.59"/><circle cx="332.3" cy="322.9" r="2.59"/><circle cx="336.3" cy="319.4" r="2.59"/><circle cx="340.2" cy="316.4" r="2.59"/><circle cx="344.1" cy="313.6" r="2.59"/><circle cx="348.0" cy="311.2" r="2.59"/><circle cx="351.9" cy="309.3" r="2.59"/><circle cx="355.9" cy="307.7" r="2.59"/><circle cx="359.8" cy="306.2" r="2.59"/><circle cx="363.7" cy="304.6" r="2.59"/><circle cx="367.6" cy="303.2" r="2.59"/><circle cx="371.5" cy="301.9" r="2.59"/><circle cx="375.4" cy="300.6" r="2.59"/><circle cx="379.4" cy="299.3" r="2.59"/><circle cx="383.3" cy="299.5" r="2.59"/><circle cx="387.2" cy="300.5" r="2.59"/><circle cx="391.1" cy="298.0" r="2.59"/><circle cx="395.0" cy="292.0" r="2.59"/><circle cx="399.0" cy="289.6" r="2.59"/><circle cx="402.9" cy="287.5" r="2.59"/><circle cx="406.8" cy="285.6" r="2.59"/><circle cx="410.7" cy="284.2" r="2.59"/><circle cx="414.6" cy="283.9" r="2.59"/><circle cx="418.6" cy="283.6" r="2.59"/><circle cx="422.5" cy="283.4" r="2.59"/><circle cx="426.4" cy="283.3" r="2.59"/><circle cx="430.3" cy="283.2" r="2.59"/><circle cx="434.2" cy="282.8" r="2.59"/><circle cx="438.2" cy="282.3" r="2.59"/><circle cx="442.1" cy="281.9" r="2.59"/><circle cx="446.0" cy="281.6" r="2.59"/><circle cx="449.9" cy="282.5" r="2.59"/><circle cx="453.8" cy="281.0" r="2.59"/><circle cx="457.7" cy="279.4" r="2.59"/><circle cx="461.7" cy="277.3" r="2.59"/><circle cx="465.6" cy="275.0" r="2.59"/><circle cx="469.5" cy="273.3" r="2.59"/><circle cx="473.4" cy="272.1" r="2.59"/><circle cx="477.3" cy="270.7" r="2.59"/><circle cx="481.3" cy="268.9" r="2.59"/><circle cx="485.2" cy="267.1" r="2.59"/><circle cx="489.1" cy="271.7" r="2.59"/><circle cx="493.0" cy="273.5" r="2.59"/><circle cx="496.9" cy="274.6" r="2.59"/><circle cx="500.9" cy="273.5" r="2.59"/><circle cx="504.8" cy="272.3" r="2.59"/><circle cx="508.7" cy="270.5" r="2.59"/><circle cx="512.6" cy="268.7" r="2.59"/><circle cx="516.5" cy="268.5" r="2.59"/><circle cx="520.4" cy="268.7" r="2.59"/><circle cx="524.4" cy="268.4" r="2.59"/><circle cx="528.3" cy="267.6" r="2.59"/><circle cx="532.2" cy="266.5" r="2.59"/><circle cx="536.1" cy="264.9" r="2.59"/><circle cx="540.0" cy="263.5" r="2.59"/><circle cx="544.0" cy="263.2" r="2.59"/><circle cx="547.9" cy="262.8" r="2.59"/><circle cx="551.8" cy="263.4" r="2.59"/><circle cx="555.7" cy="264.1" r="2.59"/><circle cx="559.6" cy="264.9" r="2.59"/><circle cx="563.6" cy="265.8" r="2.59"/><circle cx="567.5" cy="267.2" r="2.59"/><circle cx="571.4" cy="268.8" r="2.59"/><circle cx="575.3" cy="270.9" r="2.59"/><circle cx="579.2" cy="273.8" r="2.59"/><circle cx="583.2" cy="281.1" r="2.59"/><circle cx="587.1" cy="292.5" r="2.59"/><circle cx="591.0" cy="303.6" r="2.59"/><circle cx="594.9" cy="313.2" r="2.59"/><circle cx="598.8" cy="320.0" r="2.59"/><circle cx="602.7" cy="322.8" r="2.59"/><circle cx="606.7" cy="320.3" r="2.59"/><circle cx="610.6" cy="314.8" r="2.59"/><circle cx="614.5" cy="305.4" r="2.59"/><circle cx="618.4" cy="291.5" r="2.59"/><circle cx="622.3" cy="278.7" r="2.59"/><circle cx="626.3" cy="268.2" r="2.59"/><circle cx="630.2" cy="262.4" r="2.59"/><circle cx="634.1" cy="256.5" r="2.59"/><circle cx="638.0" cy="250.9" r="2.59"/><circle cx="641.9" cy="245.6" r="2.59"/><circle cx="645.9" cy="239.5" r="2.59"/><circle cx="649.8" cy="235.2" r="2.59"/><circle cx="653.7" cy="231.3" r="2.59"/><circle cx="657.6" cy="228.8" r="2.59"/><circle cx="661.5" cy="227.8" r="2.59"/><circle cx="665.4" cy="228.7" r="2.59"/><circle cx="669.4" cy="230.0" r="2.59"/><circle cx="673.3" cy="231.2" r="2.59"/><circle cx="677.2" cy="229.2" r="2.59"/><circle cx="681.1" cy="227.8" r="2.59"/><circle cx="685.0" cy="227.1" r="2.59"/><circle cx="689.0" cy="226.0" r="2.59"/><circle cx="692.9" cy="224.8" r="2.59"/><circle cx="696.8" cy="224.1" r="2.59"/><circle cx="700.7" cy="222.9" r="2.59"/><circle cx="704.6" cy="221.1" r="2.59"/><circle cx="708.6" cy="219.9" r="2.59"/><circle cx="712.5" cy="221.5" r="2.59"/><circle cx="716.4" cy="224.4" r="2.59"/><circle cx="720.3" cy="225.9" r="2.59"/><circle cx="724.2" cy="224.3" r="2.59"/><circle cx="728.2" cy="220.3" r="2.59"/><circle cx="732.1" cy="216.3" r="2.59"/><circle cx="736.0" cy="214.3" r="2.59"/><circle cx="739.9" cy="214.6" r="2.59"/><circle cx="743.8" cy="215.1" r="2.59"/><circle cx="747.7" cy="215.5" r="2.59"/><circle cx="751.7" cy="215.6" r="2.59"/><circle cx="755.6" cy="215.5" r="2.59"/><circle cx="759.5" cy="215.3" r="2.59"/><circle cx="763.4" cy="215.3" r="2.59"/><circle cx="767.3" cy="215.6" r="2.59"/><circle cx="771.3" cy="215.2" r="2.59"/><circle cx="775.2" cy="214.8" r="2.59"/></g>
<polygon points="279.0,394.8 279.0,357.0 283.0,357.6 287.0,361.2 291.0,350.1 295.1,351.1 299.1,350.3 303.1,352.2 307.1,352.7 311.1,350.5 315.1,342.6 319.1,341.5 323.1,349.6 327.1,340.4 331.1,341.9 335.1,340.4 339.2,337.2 343.2,338.3 347.2,332.9 351.2,331.5 355.2,332.9 359.2,334.5 363.2,332.9 367.2,331.8 371.2,330.5 375.2,330.0 379.3,331.6 383.3,334.6 387.3,336.3 391.3,331.6 395.3,330.3 399.3,328.3 403.3,325.6 407.3,324.0 411.3,322.0 415.3,323.0 419.3,322.9 423.4,319.7 427.4,316.5 431.4,312.7 435.4,311.8 439.4,311.7 443.4,313.9 447.4,307.9 451.4,306.9 455.4,317.6 459.4,321.9 463.4,317.6 467.5,311.1 471.5,314.4 475.5,320.8 479.5,301.5 483.5,310.1 487.5,314.4 491.5,305.8 495.5,305.8 499.5,308.0 503.5,309.0 507.6,302.6 511.6,300.4 515.6,299.3 519.6,300.4 523.6,301.5 527.6,296.8 531.6,293.3 535.6,306.2 539.6,309.3 543.6,312.0 547.6,307.7 551.7,310.8 555.7,309.3 559.7,306.2 563.7,307.0 567.7,305.4 571.7,303.1 575.7,308.5 579.7,310.0 583.7,325.9 587.7,335.5 591.8,347.0 595.8,350.0 599.8,347.6 603.8,342.0 607.8,330.0 611.8,316.2 615.8,312.1 619.8,310.8 623.8,300.8 627.8,294.6 631.8,286.1 635.9,277.5 639.9,274.3 643.9,273.2 647.9,281.4 651.9,273.2 655.9,268.9 659.9,266.7 663.9,264.2 667.9,268.5 671.9,266.7 676.0,265.7 680.0,267.8 684.0,274.3 688.0,268.9 692.0,265.7 696.0,263.8 700.0,260.3 704.0,258.3 708.0,257.7 712.0,253.9 716.0,251.7 720.1,250.6 724.1,243.5 728.1,254.9 732.1,256.0 736.1,258.2 740.1,249.1 744.1,251.3 748.1,252.8 752.1,251.7 756.1,251.3 760.2,249.6 764.2,250.6 764.2,394.8" fill="url(#f7)" fill-opacity="0.657"/>
<polyline points="279.0,357.0 283.0,357.6 287.0,361.2 291.0,350.1 295.1,351.1 299.1,350.3 303.1,352.2 307.1,352.7 311.1,350.5 315.1,342.6 319.1,341.5 323.1,349.6 327.1,340.4 331.1,341.9 335.1,340.4 339.2,337.2 343.2,338.3 347.2,332.9 351.2,331.5 355.2,332.9 359.2,334.5 363.2,332.9 367.2,331.8 371.2,330.5 375.2,330.0 379.3,331.6 383.3,334.6 387.3,336.3 391.3,331.6 395.3,330.3 399.3,328.3 403.3,325.6 407.3,324.0 411.3,322.0 415.3,323.0 419.3,322.9 423.4,319.7 427.4,316.5 431.4,312.7 435.4,311.8 439.4,311.7 443.4,313.9 447.4,307.9 451.4,306.9 455.4,317.6 459.4,321.9 463.4,317.6 467.5,311.1 471.5,314.4 475.5,320.8 479.5,301.5 483.5,310.1 487.5,314.4 491.5,305.8 495.5,305.8 499.5,308.0 503.5,309.0 507.6,302.6 511.6,300.4 515.6,299.3 519.6,300.4 523.6,301.5 527.6,296.8 531.6,293.3 535.6,306.2 539.6,309.3 543.6,312.0 547.6,307.7 551.7,310.8 555.7,309.3 559.7,306.2 563.7,307.0 567.7,305.4 571.7,303.1 575.7,308.5 579.7,310.0 583.7,325.9 587.7,335.5 591.8,347.0 595.8,350.0 599.8,347.6 603.8,342.0 607.8,330.0 611.8,316.2 615.8,312.1 619.8,310.8 623.8,300.8 627.8,294.6 631.8,286.1 635.9,277.5 639.9,274.3 643.9,273.2 647.9,281.4 651.9,273.2 655.9,268.9 659.9,266.7 663.9,264.2 667.9,268.5 671.9,266.7 676.0,265.7 680.0,267.8 684.0,274.3 688.0,268.9 692.0,265.7 696.0,263.8 700.0,260.3 704.0,258.3 708.0,257.7 712.0,253.9 716.0,251.7 720.1,250.6 724.1,243.5 728.1,254.9 732.1,256.0 736.1,258.2 740.1,249.1 744.1,251.3 748.1,252.8 752.1,251.7 756.1,251.3 760.2,249.6 764.2,250.6" fill="none" stroke="#c010d0" stroke-width="0.55" stroke-opacity="0.85"/>
<g fill="url(#s7)"><circle cx="279.0" cy="357.0" r="2.65"/><circle cx="283.0" cy="357.6" r="2.65"/><circle cx="287.0" cy="361.2" r="2.65"/><circle cx="291.0" cy="350.1" r="2.65"/><circle cx="295.1" cy="351.1" r="2.65"/><circle cx="299.1" cy="350.3" r="2.65"/><circle cx="303.1" cy="352.2" r="2.65"/><circle cx="307.1" cy="352.7" r="2.65"/><circle cx="311.1" cy="350.5" r="2.65"/><circle cx="315.1" cy="342.6" r="2.65"/><circle cx="319.1" cy="341.5" r="2.65"/><circle cx="323.1" cy="349.6" r="2.65"/><circle cx="327.1" cy="340.4" r="2.65"/><circle cx="331.1" cy="341.9" r="2.65"/><circle cx="335.1" cy="340.4" r="2.65"/><circle cx="339.2" cy="337.2" r="2.65"/><circle cx="343.2" cy="338.3" r="2.65"/><circle cx="347.2" cy="332.9" r="2.65"/><circle cx="351.2" cy="331.5" r="2.65"/><circle cx="355.2" cy="332.9" r="2.65"/><circle cx="359.2" cy="334.5" r="2.65"/><circle cx="363.2" cy="332.9" r="2.65"/><circle cx="367.2" cy="331.8" r="2.65"/><circle cx="371.2" cy="330.5" r="2.65"/><circle cx="375.2" cy="330.0" r="2.65"/><circle cx="379.3" cy="331.6" r="2.65"/><circle cx="383.3" cy="334.6" r="2.65"/><circle cx="387.3" cy="336.3" r="2.65"/><circle cx="391.3" cy="331.6" r="2.65"/><circle cx="395.3" cy="330.3" r="2.65"/><circle cx="399.3" cy="328.3" r="2.65"/><circle cx="403.3" cy="325.6" r="2.65"/><circle cx="407.3" cy="324.0" r="2.65"/><circle cx="411.3" cy="322.0" r="2.65"/><circle cx="415.3" cy="323.0" r="2.65"/><circle cx="419.3" cy="322.9" r="2.65"/><circle cx="423.4" cy="319.7" r="2.65"/><circle cx="427.4" cy="316.5" r="2.65"/><circle cx="431.4" cy="312.7" r="2.65"/><circle cx="435.4" cy="311.8" r="2.65"/><circle cx="439.4" cy="311.7" r="2.65"/><circle cx="443.4" cy="313.9" r="2.65"/><circle cx="447.4" cy="307.9" r="2.65"/><circle cx="451.4" cy="306.9" r="2.65"/><circle cx="455.4" cy="317.6" r="2.65"/><circle cx="459.4" cy="321.9" r="2.65"/><circle cx="463.4" cy="317.6" r="2.65"/><circle cx="467.5" cy="311.1" r="2.65"/><circle cx="471.5" cy="314.4" r="2.65"/><circle cx="475.5" cy="320.8" r="2.65"/><circle cx="479.5" cy="301.5" r="2.65"/><circle cx="483.5" cy="310.1" r="2.65"/><circle cx="487.5" cy="314.4" r="2.65"/><circle cx="491.5" cy="305.8" r="2.65"/><circle cx="495.5" cy="305.8" r="2.65"/><circle cx="499.5" cy="308.0" r="2.65"/><circle cx="503.5" cy="309.0" r="2.65"/><circle cx="507.6" cy="302.6" r="2.65"/><circle cx="511.6" cy="300.4" r="2.65"/><circle cx="515.6" cy="299.3" r="2.65"/><circle cx="519.6" cy="300.4" r="2.65"/><circle cx="523.6" cy="301.5" r="2.65"/><circle cx="527.6" cy="296.8" r="2.65"/><circle cx="531.6" cy="293.3" r="2.65"/><circle cx="535.6" cy="306.2" r="2.65"/><circle cx="539.6" cy="309.3" r="2.65"/><circle cx="543.6" cy="312.0" r="2.65"/><circle cx="547.6" cy="307.7" r="2.65"/><circle cx="551.7" cy="310.8" r="2.65"/><circle cx="555.7" cy="309.3" r="2.65"/><circle cx="559.7" cy="306.2" r="2.65"/><circle cx="563.7" cy="307.0" r="2.65"/><circle cx="567.7" cy="305.4" r="2.65"/><circle cx="571.7" cy="303.1" r="2.65"/><circle cx="575.7" cy="308.5" r="2.65"/><circle cx="579.7" cy="310.0" r="2.65"/><circle cx="583.7" cy="325.9" r="2.65"/><circle cx="587.7" cy="335.5" r="2.65"/><circle cx="591.8" cy="347.0" r="2.65"/><circle cx="595.8" cy="350.0" r="2.65"/><circle cx="599.8" cy="347.6" r="2.65"/><circle cx="603.8" cy="342.0" r="2.65"/><circle cx="607.8" cy="330.0" r="2.65"/><circle cx="611.8" cy="316.2" r="2.65"/><circle cx="615.8" cy="312.1" r="2.65"/><circle cx="619.8" cy="310.8" r="2.65"/><circle cx="623.8" cy="300.8" r="2.65"/><circle cx="627.8" cy="294.6" r="2.65"/><circle cx="631.8" cy="286.1" r="2.65"/><circle cx="635.9" cy="277.5" r="2.65"/><circle cx="639.9" cy="274.3" r="2.65"/><circle cx="643.9" cy="273.2" r="2.65"/><circle cx="647.9" cy="281.4" r="2.65"/><circle cx="651.9" cy="273.2" r="2.65"/><circle cx="655.9" cy="268.9" r="2.65"/><circle cx="659.9" cy="266.7" r="2.65"/><circle cx="663.9" cy="264.2" r="2.65"/><circle cx="667.9" cy="268.5" r="2.65"/><circle cx="671.9" cy="266.7" r="2.65"/><circle cx="676.0" cy="265.7" r="2.65"/><circle cx="680.0" cy="267.8" r="2.65"/><circle cx="684.0" cy="274.3" r="2.65"/><circle cx="688.0" cy="268.9" r="2.65"/><circle cx="692.0" cy="265.7" r="2.65"/><circle cx="696.0" cy="263.8" r="2.65"/><circle cx="700.0" cy="260.3" r="2.65"/><circle cx="704.0" cy="258.3" r="2.65"/><circle cx="708.0" cy="257.7" r="2.65"/><circle cx="712.0" cy="253.9" r="2.65"/><circle cx="716.0" cy="251.7" r="2.65"/><circle cx="720.1" cy="250.6" r="2.65"/><circle cx="724.1" cy="243.5" r="2.65"/><circle cx="728.1" cy="254.9" r="2.65"/><circle cx="732.1" cy="256.0" r="2.65"/><circle cx="736.1" cy="258.2" r="2.65"/><circle cx="740.1" cy="249.1" r="2.65"/><circle cx="744.1" cy="251.3" r="2.65"/><circle cx="748.1" cy="252.8" r="2.65"/><circle cx="752.1" cy="251.7" r="2.65"/><circle cx="756.1" cy="251.3" r="2.65"/><circle cx="760.2" cy="249.6" r="2.65"/><circle cx="764.2" cy="250.6" r="2.65"/></g>
<polygon points="256.0,421.5 256.0,382.2 260.1,381.8 264.2,381.4 268.3,380.8 272.4,380.1 276.5,379.4 280.6,378.7 284.7,378.0 288.8,377.2 292.9,376.1 297.0,374.9 301.1,373.8 305.3,372.6 309.4,371.5 313.5,370.2 317.6,369.0 321.7,367.7 325.8,366.5 329.9,365.3 334.0,364.6 338.1,364.0 342.2,363.3 346.3,362.7 350.4,362.1 354.5,361.7 358.6,361.5 362.7,361.2 366.8,361.4 370.9,361.4 375.0,360.4 379.1,359.3 383.2,358.3 387.3,357.3 391.4,356.3 395.5,355.7 399.7,355.0 403.8,354.4 407.9,353.8 412.0,353.2 416.1,352.5 420.2,351.9 424.3,351.3 428.4,350.7 432.5,350.1 436.6,349.2 440.7,347.9 444.8,346.7 448.9,347.0 453.0,347.4 457.1,347.5 461.2,346.6 465.3,345.8 469.4,345.0 473.5,344.2 477.6,343.4 481.7,342.8 485.8,342.3 489.9,343.8 494.1,345.3 498.2,345.0 502.3,344.5 506.4,344.2 510.5,343.8 514.6,343.5 518.7,344.1 522.8,345.1 526.9,346.2 531.0,347.0 535.1,347.2 539.2,347.3 543.3,349.0 547.4,351.1 551.5,357.6 555.6,364.4 559.7,371.2 563.8,372.8 567.9,370.3 572.0,367.7 576.1,365.2 580.2,361.8 584.3,357.5 588.5,352.0 592.6,346.9 596.7,342.8 600.8,338.0 604.9,333.2 609.0,329.0 613.1,324.9 617.2,321.7 621.3,319.2 625.4,316.9 629.5,315.3 633.6,313.6 637.7,311.9 641.8,310.1 645.9,308.3 650.0,305.9 654.1,303.4 658.2,300.6 662.3,297.0 666.4,294.3 670.5,293.9 674.6,293.4 678.7,293.5 682.9,293.9 687.0,294.2 691.1,293.9 695.2,292.8 699.3,291.8 703.4,290.8 707.5,289.7 711.6,288.9 715.7,288.5 719.8,288.2 723.9,287.8 728.0,287.5 732.1,287.0 736.2,286.5 740.3,286.1 744.4,285.6 748.5,285.2 752.6,284.8 752.6,421.5" fill="url(#f6)" fill-opacity="0.657"/>
<polyline points="256.0,382.2 260.1,381.8 264.2,381.4 268.3,380.8 272.4,380.1 276.5,379.4 280.6,378.7 284.7,378.0 288.8,377.2 292.9,376.1 297.0,374.9 301.1,373.8 305.3,372.6 309.4,371.5 313.5,370.2 317.6,369.0 321.7,367.7 325.8,366.5 329.9,365.3 334.0,364.6 338.1,364.0 342.2,363.3 346.3,362.7 350.4,362.1 354.5,361.7 358.6,361.5 362.7,361.2 366.8,361.4 370.9,361.4 375.0,360.4 379.1,359.3 383.2,358.3 387.3,357.3 391.4,356.3 395.5,355.7 399.7,355.0 403.8,354.4 407.9,353.8 412.0,353.2 416.1,352.5 420.2,351.9 424.3,351.3 428.4,350.7 432.5,350.1 436.6,349.2 440.7,347.9 444.8,346.7 448.9,347.0 453.0,347.4 457.1,347.5 461.2,346.6 465.3,345.8 469.4,345.0 473.5,344.2 477.6,343.4 481.7,342.8 485.8,342.3 489.9,343.8 494.1,345.3 498.2,345.0 502.3,344.5 506.4,344.2 510.5,343.8 514.6,343.5 518.7,344.1 522.8,345.1 526.9,346.2 531.0,347.0 535.1,347.2 539.2,347.3 543.3,349.0 547.4,351.1 551.5,357.6 555.6,364.4 559.7,371.2 563.8,372.8 567.9,370.3 572.0,367.7 576.1,365.2 580.2,361.8 584.3,357.5 588.5,352.0 592.6,346.9 596.7,342.8 600.8,338.0 604.9,333.2 609.0,329.0 613.1,324.9 617.2,321.7 621.3,319.2 625.4,316.9 629.5,315.3 633.6,313.6 637.7,311.9 641.8,310.1 645.9,308.3 650.0,305.9 654.1,303.4 658.2,300.6 662.3,297.0 666.4,294.3 670.5,293.9 674.6,293.4 678.7,293.5 682.9,293.9 687.0,294.2 691.1,293.9 695.2,292.8 699.3,291.8 703.4,290.8 707.5,289.7 711.6,288.9 715.7,288.5 719.8,288.2 723.9,287.8 728.0,287.5 732.1,287.0 736.2,286.5 740.3,286.1 744.4,285.6 748.5,285.2 752.6,284.8" fill="none" stroke="#d030f0" stroke-width="0.55" stroke-opacity="0.85"/>
<g fill="url(#s6)"><circle cx="256.0" cy="382.2" r="2.71"/><circle cx="260.1" cy="381.8" r="2.71"/><circle cx="264.2" cy="381.4" r="2.71"/><circle cx="268.3" cy="380.8" r="2.71"/><circle cx="272.4" cy="380.1" r="2.71"/><circle cx="276.5" cy="379.4" r="2.71"/><circle cx="280.6" cy="378.7" r="2.71"/><circle cx="284.7" cy="378.0" r="2.71"/><circle cx="288.8" cy="377.2" r="2.71"/><circle cx="292.9" cy="376.1" r="2.71"/><circle cx="297.0" cy="374.9" r="2.71"/><circle cx="301.1" cy="373.8" r="2.71"/><circle cx="305.3" cy="372.6" r="2.71"/><circle cx="309.4" cy="371.5" r="2.71"/><circle cx="313.5" cy="370.2" r="2.71"/><circle cx="317.6" cy="369.0" r="2.71"/><circle cx="321.7" cy="367.7" r="2.71"/><circle cx="325.8" cy="366.5" r="2.71"/><circle cx="329.9" cy="365.3" r="2.71"/><circle cx="334.0" cy="364.6" r="2.71"/><circle cx="338.1" cy="364.0" r="2.71"/><circle cx="342.2" cy="363.3" r="2.71"/><circle cx="346.3" cy="362.7" r="2.71"/><circle cx="350.4" cy="362.1" r="2.71"/><circle cx="354.5" cy="361.7" r="2.71"/><circle cx="358.6" cy="361.5" r="2.71"/><circle cx="362.7" cy="361.2" r="2.71"/><circle cx="366.8" cy="361.4" r="2.71"/><circle cx="370.9" cy="361.4" r="2.71"/><circle cx="375.0" cy="360.4" r="2.71"/><circle cx="379.1" cy="359.3" r="2.71"/><circle cx="383.2" cy="358.3" r="2.71"/><circle cx="387.3" cy="357.3" r="2.71"/><circle cx="391.4" cy="356.3" r="2.71"/><circle cx="395.5" cy="355.7" r="2.71"/><circle cx="399.7" cy="355.0" r="2.71"/><circle cx="403.8" cy="354.4" r="2.71"/><circle cx="407.9" cy="353.8" r="2.71"/><circle cx="412.0" cy="353.2" r="2.71"/><circle cx="416.1" cy="352.5" r="2.71"/><circle cx="420.2" cy="351.9" r="2.71"/><circle cx="424.3" cy="351.3" r="2.71"/><circle cx="428.4" cy="350.7" r="2.71"/><circle cx="432.5" cy="350.1" r="2.71"/><circle cx="436.6" cy="349.2" r="2.71"/><circle cx="440.7" cy="347.9" r="2.71"/><circle cx="444.8" cy="346.7" r="2.71"/><circle cx="448.9" cy="347.0" r="2.71"/><circle cx="453.0" cy="347.4" r="2.71"/><circle cx="457.1" cy="347.5" r="2.71"/><circle cx="461.2" cy="346.6" r="2.71"/><circle cx="465.3" cy="345.8" r="2.71"/><circle cx="469.4" cy="345.0" r="2.71"/><circle cx="473.5" cy="344.2" r="2.71"/><circle cx="477.6" cy="343.4" r="2.71"/><circle cx="481.7" cy="342.8" r="2.71"/><circle cx="485.8" cy="342.3" r="2.71"/><circle cx="489.9" cy="343.8" r="2.71"/><circle cx="494.1" cy="345.3" r="2.71"/><circle cx="498.2" cy="345.0" r="2.71"/><circle cx="502.3" cy="344.5" r="2.71"/><circle cx="506.4" cy="344.2" r="2.71"/><circle cx="510.5" cy="343.8" r="2.71"/><circle cx="514.6" cy="343.5" r="2.71"/><circle cx="518.7" cy="344.1" r="2.71"/><circle cx="522.8" cy="345.1" r="2.71"/><circle cx="526.9" cy="346.2" r="2.71"/><circle cx="531.0" cy="347.0" r="2.71"/><circle cx="535.1" cy="347.2" r="2.71"/><circle cx="539.2" cy="347.3" r="2.71"/><circle cx="543.3" cy="349.0" r="2.71"/><circle cx="547.4" cy="351.1" r="2.71"/><circle cx="551.5" cy="357.6" r="2.71"/><circle cx="555.6" cy="364.4" r="2.71"/><circle cx="559.7" cy="371.2" r="2.71"/><circle cx="563.8" cy="372.8" r="2.71"/><circle cx="567.9" cy="370.3" r="2.71"/><circle cx="572.0" cy="367.7" r="2.71"/><circle cx="576.1" cy="365.2" r="2.71"/><circle cx="580.2" cy="361.8" r="2.71"/><circle cx="584.3" cy="357.5" r="2.71"/><circle cx="588.5" cy="352.0" r="2.71"/><circle cx="592.6" cy="346.9" r="2.71"/><circle cx="596.7" cy="342.8" r="2.71"/><circle cx="600.8" cy="338.0" r="2.71"/><circle cx="604.9" cy="333.2" r="2.71"/><circle cx="609.0" cy="329.0" r="2.71"/><circle cx="613.1" cy="324.9" r="2.71"/><circle cx="617.2" cy="321.7" r="2.71"/><circle cx="621.3" cy="319.2" r="2.71"/><circle cx="625.4" cy="316.9" r="2.71"/><circle cx="629.5" cy="315.3" r="2.71"/><circle cx="633.6" cy="313.6" r="2.71"/><circle cx="637.7" cy="311.9" r="2.71"/><circle cx="641.8" cy="310.1" r="2.71"/><circle cx="645.9" cy="308.3" r="2.71"/><circle cx="650.0" cy="305.9" r="2.71"/><circle cx="654.1" cy="303.4" r="2.71"/><circle cx="658.2" cy="300.6" r="2.71"/><circle cx="662.3" cy="297.0" r="2.71"/><circle cx="666.4" cy="294.3" r="2.71"/><circle cx="670.5" cy="293.9" r="2.71"/><circle cx="674.6" cy="293.4" r="2.71"/><circle cx="678.7" cy="293.5" r="2.71"/><circle cx="682.9" cy="293.9" r="2.71"/><circle cx="687.0" cy="294.2" r="2.71"/><circle cx="691.1" cy="293.9" r="2.71"/><circle cx="695.2" cy="292.8" r="2.71"/><circle cx="699.3" cy="291.8" r="2.71"/><circle cx="703.4" cy="290.8" r="2.71"/><circle cx="707.5" cy="289.7" r="2.71"/><circle cx="711.6" cy="288.9" r="2.71"/><circle cx="715.7" cy="288.5" r="2.71"/><circle cx="719.8" cy="288.2" r="2.71"/><circle cx="723.9" cy="287.8" r="2.71"/><circle cx="728.0" cy="287.5" r="2.71"/><circle cx="732.1" cy="287.0" r="2.71"/><circle cx="736.2" cy="286.5" r="2.71"/><circle cx="740.3" cy="286.1" r="2.71"/><circle cx="744.4" cy="285.6" r="2.71"/><circle cx="748.5" cy="285.2" r="2.71"/><circle cx="752.6" cy="284.8" r="2.71"/></g>
<polygon points="231.9,449.5 231.9,399.4 236.1,398.7 240.3,398.0 244.5,397.3 248.7,396.0 252.9,394.8 257.1,393.5 261.3,392.3 265.5,391.0 269.7,389.4 273.9,387.7 278.1,386.0 282.3,384.3 286.5,382.7 290.7,381.1 294.9,379.7 299.1,378.2 303.3,376.7 307.5,375.3 311.7,374.4 315.9,373.8 320.1,373.1 324.4,372.5 328.6,371.9 332.8,371.5 337.0,371.3 341.2,371.0 345.4,370.8 349.6,370.6 353.8,370.1 358.0,369.3 362.2,368.4 366.4,367.6 370.6,366.7 374.8,365.8 379.0,364.8 383.2,363.7 387.4,362.6 391.6,361.6 395.8,359.8 400.0,358.1 404.2,356.4 408.4,355.8 412.6,355.4 416.8,354.9 421.0,354.4 425.2,353.9 429.4,353.2 433.7,352.6 437.9,352.0 442.1,351.4 446.3,350.8 450.5,350.4 454.7,349.9 458.9,349.5 463.1,349.1 467.3,348.7 471.5,348.5 475.7,348.4 479.9,348.6 484.1,349.2 488.3,349.8 492.5,351.1 496.7,352.3 500.9,354.0 505.1,356.1 509.3,358.3 513.5,362.8 517.7,367.6 521.9,370.9 526.1,374.0 530.3,375.8 534.5,377.4 538.7,378.3 542.9,378.1 547.2,375.5 551.4,372.8 555.6,370.2 559.8,367.8 564.0,365.5 568.2,360.6 572.4,355.6 576.6,350.4 580.8,345.2 585.0,339.9 589.2,335.0 593.4,330.8 597.6,326.6 601.8,323.9 606.0,321.8 610.2,320.7 614.4,319.9 618.6,319.1 622.8,318.3 627.0,317.7 631.2,317.2 635.4,316.7 639.6,316.2 643.8,315.6 648.0,314.8 652.2,313.6 656.5,312.4 660.7,311.2 664.9,309.5 669.1,307.1 673.3,304.8 677.5,302.4 681.7,300.0 685.9,297.6 690.1,295.1 694.3,293.1 698.5,292.3 702.7,291.5 706.9,290.8 711.1,290.1 715.3,290.4 719.5,290.6 723.7,290.9 727.9,291.1 732.1,290.7 736.3,290.4 740.5,290.1 740.5,449.5" fill="url(#f5)" fill-opacity="0.657"/>
<polyline points="231.9,399.4 236.1,398.7 240.3,398.0 244.5,397.3 248.7,396.0 252.9,394.8 257.1,393.5 261.3,392.3 265.5,391.0 269.7,389.4 273.9,387.7 278.1,386.0 282.3,384.3 286.5,382.7 290.7,381.1 294.9,379.7 299.1,378.2 303.3,376.7 307.5,375.3 311.7,374.4 315.9,373.8 320.1,373.1 324.4,372.5 328.6,371.9 332.8,371.5 337.0,371.3 341.2,371.0 345.4,370.8 349.6,370.6 353.8,370.1 358.0,369.3 362.2,368.4 366.4,367.6 370.6,366.7 374.8,365.8 379.0,364.8 383.2,363.7 387.4,362.6 391.6,361.6 395.8,359.8 400.0,358.1 404.2,356.4 408.4,355.8 412.6,355.4 416.8,354.9 421.0,354.4 425.2,353.9 429.4,353.2 433.7,352.6 437.9,352.0 442.1,351.4 446.3,350.8 450.5,350.4 454.7,349.9 458.9,349.5 463.1,349.1 467.3,348.7 471.5,348.5 475.7,348.4 479.9,348.6 484.1,349.2 488.3,349.8 492.5,351.1 496.7,352.3 500.9,354.0 505.1,356.1 509.3,358.3 513.5,362.8 517.7,367.6 521.9,370.9 526.1,374.0 530.3,375.8 534.5,377.4 538.7,378.3 542.9,378.1 547.2,375.5 551.4,372.8 555.6,370.2 559.8,367.8 564.0,365.5 568.2,360.6 572.4,355.6 576.6,350.4 580.8,345.2 585.0,339.9 589.2,335.0 593.4,330.8 597.6,326.6 601.8,323.9 606.0,321.8 610.2,320.7 614.4,319.9 618.6,319.1 622.8,318.3 627.0,317.7 631.2,317.2 635.4,316.7 639.6,316.2 643.8,315.6 648.0,314.8 652.2,313.6 656.5,312.4 660.7,311.2 664.9,309.5 669.1,307.1 673.3,304.8 677.5,302.4 681.7,300.0 685.9,297.6 690.1,295.1 694.3,293.1 698.5,292.3 702.7,291.5 706.9,290.8 711.1,290.1 715.3,290.4 719.5,290.6 723.7,290.9 727.9,291.1 732.1,290.7 736.3,290.4 740.5,290.1" fill="none" stroke="#1818d0" stroke-width="0.55" stroke-opacity="0.85"/>
<g fill="url(#s5)"><circle cx="231.9" cy="399.4" r="2.77"/><circle cx="236.1" cy="398.7" r="2.77"/><circle cx="240.3" cy="398.0" r="2.77"/><circle cx="244.5" cy="397.3" r="2.77"/><circle cx="248.7" cy="396.0" r="2.77"/><circle cx="252.9" cy="394.8" r="2.77"/><circle cx="257.1" cy="393.5" r="2.77"/><circle cx="261.3" cy="392.3" r="2.77"/><circle cx="265.5" cy="391.0" r="2.77"/><circle cx="269.7" cy="389.4" r="2.77"/><circle cx="273.9" cy="387.7" r="2.77"/><circle cx="278.1" cy="386.0" r="2.77"/><circle cx="282.3" cy="384.3" r="2.77"/><circle cx="286.5" cy="382.7" r="2.77"/><circle cx="290.7" cy="381.1" r="2.77"/><circle cx="294.9" cy="379.7" r="2.77"/><circle cx="299.1" cy="378.2" r="2.77"/><circle cx="303.3" cy="376.7" r="2.77"/><circle cx="307.5" cy="375.3" r="2.77"/><circle cx="311.7" cy="374.4" r="2.77"/><circle cx="315.9" cy="373.8" r="2.77"/><circle cx="320.1" cy="373.1" r="2.77"/><circle cx="324.4" cy="372.5" r="2.77"/><circle cx="328.6" cy="371.9" r="2.77"/><circle cx="332.8" cy="371.5" r="2.77"/><circle cx="337.0" cy="371.3" r="2.77"/><circle cx="341.2" cy="371.0" r="2.77"/><circle cx="345.4" cy="370.8" r="2.77"/><circle cx="349.6" cy="370.6" r="2.77"/><circle cx="353.8" cy="370.1" r="2.77"/><circle cx="358.0" cy="369.3" r="2.77"/><circle cx="362.2" cy="368.4" r="2.77"/><circle cx="366.4" cy="367.6" r="2.77"/><circle cx="370.6" cy="366.7" r="2.77"/><circle cx="374.8" cy="365.8" r="2.77"/><circle cx="379.0" cy="364.8" r="2.77"/><circle cx="383.2" cy="363.7" r="2.77"/><circle cx="387.4" cy="362.6" r="2.77"/><circle cx="391.6" cy="361.6" r="2.77"/><circle cx="395.8" cy="359.8" r="2.77"/><circle cx="400.0" cy="358.1" r="2.77"/><circle cx="404.2" cy="356.4" r="2.77"/><circle cx="408.4" cy="355.8" r="2.77"/><circle cx="412.6" cy="355.4" r="2.77"/><circle cx="416.8" cy="354.9" r="2.77"/><circle cx="421.0" cy="354.4" r="2.77"/><circle cx="425.2" cy="353.9" r="2.77"/><circle cx="429.4" cy="353.2" r="2.77"/><circle cx="433.7" cy="352.6" r="2.77"/><circle cx="437.9" cy="352.0" r="2.77"/><circle cx="442.1" cy="351.4" r="2.77"/><circle cx="446.3" cy="350.8" r="2.77"/><circle cx="450.5" cy="350.4" r="2.77"/><circle cx="454.7" cy="349.9" r="2.77"/><circle cx="458.9" cy="349.5" r="2.77"/><circle cx="463.1" cy="349.1" r="2.77"/><circle cx="467.3" cy="348.7" r="2.77"/><circle cx="471.5" cy="348.5" r="2.77"/><circle cx="475.7" cy="348.4" r="2.77"/><circle cx="479.9" cy="348.6" r="2.77"/><circle cx="484.1" cy="349.2" r="2.77"/><circle cx="488.3" cy="349.8" r="2.77"/><circle cx="492.5" cy="351.1" r="2.77"/><circle cx="496.7" cy="352.3" r="2.77"/><circle cx="500.9" cy="354.0" r="2.77"/><circle cx="505.1" cy="356.1" r="2.77"/><circle cx="509.3" cy="358.3" r="2.77"/><circle cx="513.5" cy="362.8" r="2.77"/><circle cx="517.7" cy="367.6" r="2.77"/><circle cx="521.9" cy="370.9" r="2.77"/><circle cx="526.1" cy="374.0" r="2.77"/><circle cx="530.3" cy="375.8" r="2.77"/><circle cx="534.5" cy="377.4" r="2.77"/><circle cx="538.7" cy="378.3" r="2.77"/><circle cx="542.9" cy="378.1" r="2.77"/><circle cx="547.2" cy="375.5" r="2.77"/><circle cx="551.4" cy="372.8" r="2.77"/><circle cx="555.6" cy="370.2" r="2.77"/><circle cx="559.8" cy="367.8" r="2.77"/><circle cx="564.0" cy="365.5" r="2.77"/><circle cx="568.2" cy="360.6" r="2.77"/><circle cx="572.4" cy="355.6" r="2.77"/><circle cx="576.6" cy="350.4" r="2.77"/><circle cx="580.8" cy="345.2" r="2.77"/><circle cx="585.0" cy="339.9" r="2.77"/><circle cx="589.2" cy="335.0" r="2.77"/><circle cx="593.4" cy="330.8" r="2.77"/><circle cx="597.6" cy="326.6" r="2.77"/><circle cx="601.8" cy="323.9" r="2.77"/><circle cx="606.0" cy="321.8" r="2.77"/><circle cx="610.2" cy="320.7" r="2.77"/><circle cx="614.4" cy="319.9" r="2.77"/><circle cx="618.6" cy="319.1" r="2.77"/><circle cx="622.8" cy="318.3" r="2.77"/><circle cx="627.0" cy="317.7" r="2.77"/><circle cx="631.2" cy="317.2" r="2.77"/><circle cx="635.4" cy="316.7" r="2.77"/><circle cx="639.6" cy="316.2" r="2.77"/><circle cx="643.8" cy="315.6" r="2.77"/><circle cx="648.0" cy="314.8" r="2.77"/><circle cx="652.2" cy="313.6" r="2.77"/><circle cx="656.5" cy="312.4" r="2.77"/><circle cx="660.7" cy="311.2" r="2.77"/><circle cx="664.9" cy="309.5" r="2.77"/><circle cx="669.1" cy="307.1" r="2.77"/><circle cx="673.3" cy="304.8" r="2.77"/><circle cx="677.5" cy="302.4" r="2.77"/><circle cx="681.7" cy="300.0" r="2.77"/><circle cx="685.9" cy="297.6" r="2.77"/><circle cx="690.1" cy="295.1" r="2.77"/><circle cx="694.3" cy="293.1" r="2.77"/><circle cx="698.5" cy="292.3" r="2.77"/><circle cx="702.7" cy="291.5" r="2.77"/><circle cx="706.9" cy="290.8" r="2.77"/><circle cx="711.1" cy="290.1" r="2.77"/><circle cx="715.3" cy="290.4" r="2.77"/><circle cx="719.5" cy="290.6" r="2.77"/><circle cx="723.7" cy="290.9" r="2.77"/><circle cx="727.9" cy="291.1" r="2.77"/><circle cx="732.1" cy="290.7" r="2.77"/><circle cx="736.3" cy="290.4" r="2.77"/><circle cx="740.5" cy="290.1" r="2.77"/></g>
<polygon points="206.5,478.9 206.5,414.5 210.9,414.4 215.2,414.3 219.5,414.2 223.8,413.9 228.1,412.7 232.4,411.5 236.7,410.3 241.0,409.1 245.3,407.9 249.6,406.8 253.9,405.7 258.2,404.6 262.5,403.5 266.9,402.6 271.2,402.0 275.5,401.5 279.8,400.9 284.1,400.3 288.4,399.8 292.7,399.4 297.0,399.0 301.3,398.5 305.6,398.1 309.9,397.6 314.2,396.6 318.6,395.6 322.9,394.7 327.2,393.7 331.5,392.6 335.8,391.1 340.1,389.6 344.4,388.1 348.7,386.6 353.0,385.1 357.3,383.5 361.6,381.9 365.9,380.3 370.3,378.7 374.6,377.9 378.9,377.0 383.2,376.2 387.5,375.3 391.8,374.5 396.1,373.8 400.4,373.2 404.7,372.5 409.0,371.9 413.3,371.2 417.6,370.1 421.9,369.0 426.3,368.0 430.6,366.9 434.9,365.9 439.2,365.5 443.5,365.1 447.8,365.0 452.1,365.1 456.4,365.2 460.7,365.3 465.0,365.5 469.3,365.7 473.6,366.1 478.0,366.5 482.3,366.9 486.6,367.8 490.9,369.1 495.2,370.8 499.5,375.1 503.8,379.4 508.1,383.7 512.4,387.7 516.7,389.6 521.0,391.1 525.3,389.7 529.7,388.1 534.0,385.4 538.3,382.5 542.6,378.6 546.9,374.7 551.2,370.8 555.5,366.9 559.8,363.0 564.1,358.7 568.4,354.5 572.7,351.2 577.0,348.6 581.4,346.0 585.7,343.8 590.0,341.7 594.3,339.4 598.6,336.8 602.9,334.2 607.2,332.4 611.5,330.7 615.8,329.5 620.1,328.9 624.4,328.3 628.7,328.0 633.0,327.6 637.4,327.3 641.7,326.9 646.0,326.6 650.3,325.7 654.6,324.9 658.9,324.0 663.2,323.1 667.5,322.3 671.8,321.2 676.1,320.1 680.4,319.0 684.7,317.9 689.1,316.9 693.4,316.2 697.7,315.4 702.0,314.7 706.3,314.0 710.6,313.3 714.9,313.0 719.2,312.7 723.5,312.4 727.8,312.1 727.8,478.9" fill="url(#f4)" fill-opacity="0.657"/>
<polyline points="206.5,414.5 210.9,414.4 215.2,414.3 219.5,414.2 223.8,413.9 228.1,412.7 232.4,411.5 236.7,410.3 241.0,409.1 245.3,407.9 249.6,406.8 253.9,405.7 258.2,404.6 262.5,403.5 266.9,402.6 271.2,402.0 275.5,401.5 279.8,400.9 284.1,400.3 288.4,399.8 292.7,399.4 297.0,399.0 301.3,398.5 305.6,398.1 309.9,397.6 314.2,396.6 318.6,395.6 322.9,394.7 327.2,393.7 331.5,392.6 335.8,391.1 340.1,389.6 344.4,388.1 348.7,386.6 353.0,385.1 357.3,383.5 361.6,381.9 365.9,380.3 370.3,378.7 374.6,377.9 378.9,377.0 383.2,376.2 387.5,375.3 391.8,374.5 396.1,373.8 400.4,373.2 404.7,372.5 409.0,371.9 413.3,371.2 417.6,370.1 421.9,369.0 426.3,368.0 430.6,366.9 434.9,365.9 439.2,365.5 443.5,365.1 447.8,365.0 452.1,365.1 456.4,365.2 460.7,365.3 465.0,365.5 469.3,365.7 473.6,366.1 478.0,366.5 482.3,366.9 486.6,367.8 490.9,369.1 495.2,370.8 499.5,375.1 503.8,379.4 508.1,383.7 512.4,387.7 516.7,389.6 521.0,391.1 525.3,389.7 529.7,388.1 534.0,385.4 538.3,382.5 542.6,378.6 546.9,374.7 551.2,370.8 555.5,366.9 559.8,363.0 564.1,358.7 568.4,354.5 572.7,351.2 577.0,348.6 581.4,346.0 585.7,343.8 590.0,341.7 594.3,339.4 598.6,336.8 602.9,334.2 607.2,332.4 611.5,330.7 615.8,329.5 620.1,328.9 624.4,328.3 628.7,328.0 633.0,327.6 637.4,327.3 641.7,326.9 646.0,326.6 650.3,325.7 654.6,324.9 658.9,324.0 663.2,323.1 667.5,322.3 671.8,321.2 676.1,320.1 680.4,319.0 684.7,317.9 689.1,316.9 693.4,316.2 697.7,315.4 702.0,314.7 706.3,314.0 710.6,313.3 714.9,313.0 719.2,312.7 723.5,312.4 727.8,312.1" fill="none" stroke="#18e018" stroke-width="0.55" stroke-opacity="0.85"/>
<g fill="url(#s4)"><circle cx="206.5" cy="414.5" r="2.84"/><circle cx="210.9" cy="414.4" r="2.84"/><circle cx="215.2" cy="414.3" r="2.84"/><circle cx="219.5" cy="414.2" r="2.84"/><circle cx="223.8" cy="413.9" r="2.84"/><circle cx="228.1" cy="412.7" r="2.84"/><circle cx="232.4" cy="411.5" r="2.84"/><circle cx="236.7" cy="410.3" r="2.84"/><circle cx="241.0" cy="409.1" r="2.84"/><circle cx="245.3" cy="407.9" r="2.84"/><circle cx="249.6" cy="406.8" r="2.84"/><circle cx="253.9" cy="405.7" r="2.84"/><circle cx="258.2" cy="404.6" r="2.84"/><circle cx="262.5" cy="403.5" r="2.84"/><circle cx="266.9" cy="402.6" r="2.84"/><circle cx="271.2" cy="402.0" r="2.84"/><circle cx="275.5" cy="401.5" r="2.84"/><circle cx="279.8" cy="400.9" r="2.84"/><circle cx="284.1" cy="400.3" r="2.84"/><circle cx="288.4" cy="399.8" r="2.84"/><circle cx="292.7" cy="399.4" r="2.84"/><circle cx="297.0" cy="399.0" r="2.84"/><circle cx="301.3" cy="398.5" r="2.84"/><circle cx="305.6" cy="398.1" r="2.84"/><circle cx="309.9" cy="397.6" r="2.84"/><circle cx="314.2" cy="396.6" r="2.84"/><circle cx="318.6" cy="395.6" r="2.84"/><circle cx="322.9" cy="394.7" r="2.84"/><circle cx="327.2" cy="393.7" r="2.84"/><circle cx="331.5" cy="392.6" r="2.84"/><circle cx="335.8" cy="391.1" r="2.84"/><circle cx="340.1" cy="389.6" r="2.84"/><circle cx="344.4" cy="388.1" r="2.84"/><circle cx="348.7" cy="386.6" r="2.84"/><circle cx="353.0" cy="385.1" r="2.84"/><circle cx="357.3" cy="383.5" r="2.84"/><circle cx="361.6" cy="381.9" r="2.84"/><circle cx="365.9" cy="380.3" r="2.84"/><circle cx="370.3" cy="378.7" r="2.84"/><circle cx="374.6" cy="377.9" r="2.84"/><circle cx="378.9" cy="377.0" r="2.84"/><circle cx="383.2" cy="376.2" r="2.84"/><circle cx="387.5" cy="375.3" r="2.84"/><circle cx="391.8" cy="374.5" r="2.84"/><circle cx="396.1" cy="373.8" r="2.84"/><circle cx="400.4" cy="373.2" r="2.84"/><circle cx="404.7" cy="372.5" r="2.84"/><circle cx="409.0" cy="371.9" r="2.84"/><circle cx="413.3" cy="371.2" r="2.84"/><circle cx="417.6" cy="370.1" r="2.84"/><circle cx="421.9" cy="369.0" r="2.84"/><circle cx="426.3" cy="368.0" r="2.84"/><circle cx="430.6" cy="366.9" r="2.84"/><circle cx="434.9" cy="365.9" r="2.84"/><circle cx="439.2" cy="365.5" r="2.84"/><circle cx="443.5" cy="365.1" r="2.84"/><circle cx="447.8" cy="365.0" r="2.84"/><circle cx="452.1" cy="365.1" r="2.84"/><circle cx="456.4" cy="365.2" r="2.84"/><circle cx="460.7" cy="365.3" r="2.84"/><circle cx="465.0" cy="365.5" r="2.84"/><circle cx="469.3" cy="365.7" r="2.84"/><circle cx="473.6" cy="366.1" r="2.84"/><circle cx="478.0" cy="366.5" r="2.84"/><circle cx="482.3" cy="366.9" r="2.84"/><circle cx="486.6" cy="367.8" r="2.84"/><circle cx="490.9" cy="369.1" r="2.84"/><circle cx="495.2" cy="370.8" r="2.84"/><circle cx="499.5" cy="375.1" r="2.84"/><circle cx="503.8" cy="379.4" r="2.84"/><circle cx="508.1" cy="383.7" r="2.84"/><circle cx="512.4" cy="387.7" r="2.84"/><circle cx="516.7" cy="389.6" r="2.84"/><circle cx="521.0" cy="391.1" r="2.84"/><circle cx="525.3" cy="389.7" r="2.84"/><circle cx="529.7" cy="388.1" r="2.84"/><circle cx="534.0" cy="385.4" r="2.84"/><circle cx="538.3" cy="382.5" r="2.84"/><circle cx="542.6" cy="378.6" r="2.84"/><circle cx="546.9" cy="374.7" r="2.84"/><circle cx="551.2" cy="370.8" r="2.84"/><circle cx="555.5" cy="366.9" r="2.84"/><circle cx="559.8" cy="363.0" r="2.84"/><circle cx="564.1" cy="358.7" r="2.84"/><circle cx="568.4" cy="354.5" r="2.84"/><circle cx="572.7" cy="351.2" r="2.84"/><circle cx="577.0" cy="348.6" r="2.84"/><circle cx="581.4" cy="346.0" r="2.84"/><circle cx="585.7" cy="343.8" r="2.84"/><circle cx="590.0" cy="341.7" r="2.84"/><circle cx="594.3" cy="339.4" r="2.84"/><circle cx="598.6" cy="336.8" r="2.84"/><circle cx="602.9" cy="334.2" r="2.84"/><circle cx="607.2" cy="332.4" r="2.84"/><circle cx="611.5" cy="330.7" r="2.84"/><circle cx="615.8" cy="329.5" r="2.84"/><circle cx="620.1" cy="328.9" r="2.84"/><circle cx="624.4" cy="328.3" r="2.84"/><circle cx="628.7" cy="328.0" r="2.84"/><circle cx="633.0" cy="327.6" r="2.84"/><circle cx="637.4" cy="327.3" r="2.84"/><circle cx="641.7" cy="326.9" r="2.84"/><circle cx="646.0" cy="326.6" r="2.84"/><circle cx="650.3" cy="325.7" r="2.84"/><circle cx="654.6" cy="324.9" r="2.84"/><circle cx="658.9" cy="324.0" r="2.84"/><circle cx="663.2" cy="323.1" r="2.84"/><circle cx="667.5" cy="322.3" r="2.84"/><circle cx="671.8" cy="321.2" r="2.84"/><circle cx="676.1" cy="320.1" r="2.84"/><circle cx="680.4" cy="319.0" r="2.84"/><circle cx="684.7" cy="317.9" r="2.84"/><circle cx="689.1" cy="316.9" r="2.84"/><circle cx="693.4" cy="316.2" r="2.84"/><circle cx="697.7" cy="315.4" r="2.84"/><circle cx="702.0" cy="314.7" r="2.84"/><circle cx="706.3" cy="314.0" r="2.84"/><circle cx="710.6" cy="313.3" r="2.84"/><circle cx="714.9" cy="313.0" r="2.84"/><circle cx="719.2" cy="312.7" r="2.84"/><circle cx="723.5" cy="312.4" r="2.84"/><circle cx="727.8" cy="312.1" r="2.84"/></g>
<polygon points="179.9,509.8 179.9,441.3 184.3,440.5 188.8,443.0 193.2,443.5 197.6,443.4 202.0,443.0 206.4,442.6 210.9,440.8 215.3,439.2 219.7,437.8 224.1,435.7 228.5,432.8 232.9,431.7 237.4,430.6 241.8,429.5 246.2,428.1 250.6,426.8 255.0,425.1 259.4,423.4 263.9,421.3 268.3,418.3 272.7,416.9 277.1,416.5 281.5,416.0 286.0,415.6 290.4,415.1 294.8,414.2 299.2,413.1 303.6,412.0 308.0,410.9 312.5,409.8 316.9,409.1 321.3,408.4 325.7,407.7 330.1,407.1 334.5,406.3 339.0,404.5 343.4,402.6 347.8,400.7 352.2,401.0 356.6,403.0 361.1,403.0 365.5,401.7 369.9,400.6 374.3,400.8 378.7,401.0 383.1,399.6 387.6,397.8 392.0,395.9 396.4,394.1 400.8,392.3 405.2,391.2 409.7,390.5 414.1,389.7 418.5,389.0 422.9,388.9 427.3,390.4 431.7,391.9 436.2,392.7 440.6,392.7 445.0,393.2 449.4,393.8 453.8,393.8 458.2,393.6 462.7,394.9 467.1,398.8 471.5,403.1 475.9,408.0 480.3,413.3 484.8,418.6 489.2,423.0 493.6,426.0 498.0,426.4 502.4,423.5 506.8,418.2 511.3,413.4 515.7,409.1 520.1,406.2 524.5,403.3 528.9,401.1 533.4,398.7 537.8,395.8 542.2,392.7 546.6,389.1 551.0,384.2 555.4,379.2 559.9,374.2 564.3,372.7 568.7,371.4 573.1,369.7 577.5,367.6 581.9,366.2 586.4,365.6 590.8,363.4 595.2,361.1 599.6,359.5 604.0,357.0 608.5,357.8 612.9,359.3 617.3,362.4 621.7,362.4 626.1,358.7 630.5,356.8 635.0,354.2 639.4,351.5 643.8,348.7 648.2,346.5 652.6,347.7 657.1,349.3 661.5,349.9 665.9,348.4 670.3,346.0 674.7,346.6 679.1,346.5 683.6,344.3 688.0,340.4 692.4,339.1 696.8,338.5 701.2,338.9 705.6,339.4 710.1,340.3 714.5,341.2 714.5,509.8" fill="url(#f3)" fill-opacity="0.657"/>
<polyline points="179.9,441.3 184.3,440.5 188.8,443.0 193.2,443.5 197.6,443.4 202.0,443.0 206.4,442.6 210.9,440.8 215.3,439.2 219.7,437.8 224.1,435.7 228.5,432.8 232.9,431.7 237.4,430.6 241.8,429.5 246.2,428.1 250.6,426.8 255.0,425.1 259.4,423.4 263.9,421.3 268.3,418.3 272.7,416.9 277.1,416.5 281.5,416.0 286.0,415.6 290.4,415.1 294.8,414.2 299.2,413.1 303.6,412.0 308.0,410.9 312.5,409.8 316.9,409.1 321.3,408.4 325.7,407.7 330.1,407.1 334.5,406.3 339.0,404.5 343.4,402.6 347.8,400.7 352.2,401.0 356.6,403.0 361.1,403.0 365.5,401.7 369.9,400.6 374.3,400.8 378.7,401.0 383.1,399.6 387.6,397.8 392.0,395.9 396.4,394.1 400.8,392.3 405.2,391.2 409.7,390.5 414.1,389.7 418.5,389.0 422.9,388.9 427.3,390.4 431.7,391.9 436.2,392.7 440.6,392.7 445.0,393.2 449.4,393.8 453.8,393.8 458.2,393.6 462.7,394.9 467.1,398.8 471.5,403.1 475.9,408.0 480.3,413.3 484.8,418.6 489.2,423.0 493.6,426.0 498.0,426.4 502.4,423.5 506.8,418.2 511.3,413.4 515.7,409.1 520.1,406.2 524.5,403.3 528.9,401.1 533.4,398.7 537.8,395.8 542.2,392.7 546.6,389.1 551.0,384.2 555.4,379.2 559.9,374.2 564.3,372.7 568.7,371.4 573.1,369.7 577.5,367.6 581.9,366.2 586.4,365.6 590.8,363.4 595.2,361.1 599.6,359.5 604.0,357.0 608.5,357.8 612.9,359.3 617.3,362.4 621.7,362.4 626.1,358.7 630.5,356.8 635.0,354.2 639.4,351.5 643.8,348.7 648.2,346.5 652.6,347.7 657.1,349.3 661.5,349.9 665.9,348.4 670.3,346.0 674.7,346.6 679.1,346.5 683.6,344.3 688.0,340.4 692.4,339.1 696.8,338.5 701.2,338.9 705.6,339.4 710.1,340.3 714.5,341.2" fill="none" stroke="#ff00ff" stroke-width="0.55" stroke-opacity="0.85"/>
<g fill="url(#s3)"><circle cx="179.9" cy="441.3" r="2.91"/><circle cx="184.3" cy="440.5" r="2.91"/><circle cx="188.8" cy="443.0" r="2.91"/><circle cx="193.2" cy="443.5" r="2.91"/><circle cx="197.6" cy="443.4" r="2.91"/><circle cx="202.0" cy="443.0" r="2.91"/><circle cx="206.4" cy="442.6" r="2.91"/><circle cx="210.9" cy="440.8" r="2.91"/><circle cx="215.3" cy="439.2" r="2.91"/><circle cx="219.7" cy="437.8" r="2.91"/><circle cx="224.1" cy="435.7" r="2.91"/><circle cx="228.5" cy="432.8" r="2.91"/><circle cx="232.9" cy="431.7" r="2.91"/><circle cx="237.4" cy="430.6" r="2.91"/><circle cx="241.8" cy="429.5" r="2.91"/><circle cx="246.2" cy="428.1" r="2.91"/><circle cx="250.6" cy="426.8" r="2.91"/><circle cx="255.0" cy="425.1" r="2.91"/><circle cx="259.4" cy="423.4" r="2.91"/><circle cx="263.9" cy="421.3" r="2.91"/><circle cx="268.3" cy="418.3" r="2.91"/><circle cx="272.7" cy="416.9" r="2.91"/><circle cx="277.1" cy="416.5" r="2.91"/><circle cx="281.5" cy="416.0" r="2.91"/><circle cx="286.0" cy="415.6" r="2.91"/><circle cx="290.4" cy="415.1" r="2.91"/><circle cx="294.8" cy="414.2" r="2.91"/><circle cx="299.2" cy="413.1" r="2.91"/><circle cx="303.6" cy="412.0" r="2.91"/><circle cx="308.0" cy="410.9" r="2.91"/><circle cx="312.5" cy="409.8" r="2.91"/><circle cx="316.9" cy="409.1" r="2.91"/><circle cx="321.3" cy="408.4" r="2.91"/><circle cx="325.7" cy="407.7" r="2.91"/><circle cx="330.1" cy="407.1" r="2.91"/><circle cx="334.5" cy="406.3" r="2.91"/><circle cx="339.0" cy="404.5" r="2.91"/><circle cx="343.4" cy="402.6" r="2.91"/><circle cx="347.8" cy="400.7" r="2.91"/><circle cx="352.2" cy="401.0" r="2.91"/><circle cx="356.6" cy="403.0" r="2.91"/><circle cx="361.1" cy="403.0" r="2.91"/><circle cx="365.5" cy="401.7" r="2.91"/><circle cx="369.9" cy="400.6" r="2.91"/><circle cx="374.3" cy="400.8" r="2.91"/><circle cx="378.7" cy="401.0" r="2.91"/><circle cx="383.1" cy="399.6" r="2.91"/><circle cx="387.6" cy="397.8" r="2.91"/><circle cx="392.0" cy="395.9" r="2.91"/><circle cx="396.4" cy="394.1" r="2.91"/><circle cx="400.8" cy="392.3" r="2.91"/><circle cx="405.2" cy="391.2" r="2.91"/><circle cx="409.7" cy="390.5" r="2.91"/><circle cx="414.1" cy="389.7" r="2.91"/><circle cx="418.5" cy="389.0" r="2.91"/><circle cx="422.9" cy="388.9" r="2.91"/><circle cx="427.3" cy="390.4" r="2.91"/><circle cx="431.7" cy="391.9" r="2.91"/><circle cx="436.2" cy="392.7" r="2.91"/><circle cx="440.6" cy="392.7" r="2.91"/><circle cx="445.0" cy="393.2" r="2.91"/><circle cx="449.4" cy="393.8" r="2.91"/><circle cx="453.8" cy="393.8" r="2.91"/><circle cx="458.2" cy="393.6" r="2.91"/><circle cx="462.7" cy="394.9" r="2.91"/><circle cx="467.1" cy="398.8" r="2.91"/><circle cx="471.5" cy="403.1" r="2.91"/><circle cx="475.9" cy="408.0" r="2.91"/><circle cx="480.3" cy="413.3" r="2.91"/><circle cx="484.8" cy="418.6" r="2.91"/><circle cx="489.2" cy="423.0" r="2.91"/><circle cx="493.6" cy="426.0" r="2.91"/><circle cx="498.0" cy="426.4" r="2.91"/><circle cx="502.4" cy="423.5" r="2.91"/><circle cx="506.8" cy="418.2" r="2.91"/><circle cx="511.3" cy="413.4" r="2.91"/><circle cx="515.7" cy="409.1" r="2.91"/><circle cx="520.1" cy="406.2" r="2.91"/><circle cx="524.5" cy="403.3" r="2.91"/><circle cx="528.9" cy="401.1" r="2.91"/><circle cx="533.4" cy="398.7" r="2.91"/><circle cx="537.8" cy="395.8" r="2.91"/><circle cx="542.2" cy="392.7" r="2.91"/><circle cx="546.6" cy="389.1" r="2.91"/><circle cx="551.0" cy="384.2" r="2.91"/><circle cx="555.4" cy="379.2" r="2.91"/><circle cx="559.9" cy="374.2" r="2.91"/><circle cx="564.3" cy="372.7" r="2.91"/><circle cx="568.7" cy="371.4" r="2.91"/><circle cx="573.1" cy="369.7" r="2.91"/><circle cx="577.5" cy="367.6" r="2.91"/><circle cx="581.9" cy="366.2" r="2.91"/><circle cx="586.4" cy="365.6" r="2.91"/><circle cx="590.8" cy="363.4" r="2.91"/><circle cx="595.2" cy="361.1" r="2.91"/><circle cx="599.6" cy="359.5" r="2.91"/><circle cx="604.0" cy="357.0" r="2.91"/><circle cx="608.5" cy="357.8" r="2.91"/><circle cx="612.9" cy="359.3" r="2.91"/><circle cx="617.3" cy="362.4" r="2.91"/><circle cx="621.7" cy="362.4" r="2.91"/><circle cx="626.1" cy="358.7" r="2.91"/><circle cx="630.5" cy="356.8" r="2.91"/><circle cx="635.0" cy="354.2" r="2.91"/><circle cx="639.4" cy="351.5" r="2.91"/><circle cx="643.8" cy="348.7" r="2.91"/><circle cx="648.2" cy="346.5" r="2.91"/><circle cx="652.6" cy="347.7" r="2.91"/><circle cx="657.1" cy="349.3" r="2.91"/><circle cx="661.5" cy="349.9" r="2.91"/><circle cx="665.9" cy="348.4" r="2.91"/><circle cx="670.3" cy="346.0" r="2.91"/><circle cx="674.7" cy="346.6" r="2.91"/><circle cx="679.1" cy="346.5" r="2.91"/><circle cx="683.6" cy="344.3" r="2.91"/><circle cx="688.0" cy="340.4" r="2.91"/><circle cx="692.4" cy="339.1" r="2.91"/><circle cx="696.8" cy="338.5" r="2.91"/><circle cx="701.2" cy="338.9" r="2.91"/><circle cx="705.6" cy="339.4" r="2.91"/><circle cx="710.1" cy="340.3" r="2.91"/><circle cx="714.5" cy="341.2" r="2.91"/></g>
<polygon points="151.9,542.3 151.9,460.1 156.5,461.6 161.0,463.1 165.5,463.9 170.1,464.7 174.6,464.2 179.1,463.8 183.7,463.4 188.2,462.9 192.7,462.5 197.3,462.0 201.8,461.5 206.3,461.1 210.9,460.5 215.4,459.8 219.9,459.2 224.5,458.5 229.0,457.8 233.5,457.0 238.0,456.1 242.6,455.2 247.1,454.3 251.6,453.4 256.2,452.3 260.7,451.2 265.2,450.1 269.8,449.1 274.3,448.4 278.8,447.7 283.4,447.0 287.9,446.3 292.4,445.7 297.0,445.0 301.5,444.3 306.0,443.6 310.6,442.9 315.1,442.0 319.6,441.0 324.2,439.9 328.7,438.9 333.2,437.9 337.8,436.6 342.3,435.2 346.8,433.8 351.4,432.5 355.9,431.1 360.4,429.7 365.0,428.3 369.5,426.9 374.0,425.7 378.6,425.1 383.1,424.5 387.6,424.3 392.2,424.9 396.7,425.5 401.2,426.3 405.8,427.2 410.3,428.1 414.8,429.0 419.4,429.9 423.9,431.9 428.4,434.2 433.0,436.5 437.5,438.7 442.0,440.8 446.6,442.6 451.1,444.4 455.6,445.8 460.2,446.2 464.7,446.7 469.2,446.7 473.8,445.8 478.3,444.9 482.8,443.7 487.4,441.4 491.9,439.2 496.4,436.9 501.0,434.8 505.5,432.8 510.0,430.7 514.6,429.2 519.1,427.7 523.6,426.2 528.2,424.3 532.7,422.5 537.2,420.7 541.8,419.1 546.3,417.5 550.8,416.0 555.4,414.4 559.9,412.8 564.4,411.1 569.0,409.5 573.5,407.9 578.0,406.3 582.6,404.7 587.1,403.1 591.6,401.6 596.2,399.9 600.7,398.1 605.2,396.3 609.8,394.8 614.3,393.6 618.8,392.4 623.4,391.4 627.9,390.8 632.4,390.2 637.0,389.5 641.5,388.6 646.0,387.7 650.6,386.8 655.1,385.9 659.6,385.0 664.2,384.0 668.7,382.8 673.2,381.6 677.8,380.4 682.3,378.6 686.8,376.8 691.4,379.1 695.9,381.5 700.4,383.2 700.4,542.3" fill="url(#f2)" fill-opacity="0.657"/>
<polyline points="151.9,460.1 156.5,461.6 161.0,463.1 165.5,463.9 170.1,464.7 174.6,464.2 179.1,463.8 183.7,463.4 188.2,462.9 192.7,462.5 197.3,462.0 201.8,461.5 206.3,461.1 210.9,460.5 215.4,459.8 219.9,459.2 224.5,458.5 229.0,457.8 233.5,457.0 238.0,456.1 242.6,455.2 247.1,454.3 251.6,453.4 256.2,452.3 260.7,451.2 265.2,450.1 269.8,449.1 274.3,448.4 278.8,447.7 283.4,447.0 287.9,446.3 292.4,445.7 297.0,445.0 301.5,444.3 306.0,443.6 310.6,442.9 315.1,442.0 319.6,441.0 324.2,439.9 328.7,438.9 333.2,437.9 337.8,436.6 342.3,435.2 346.8,433.8 351.4,432.5 355.9,431.1 360.4,429.7 365.0,428.3 369.5,426.9 374.0,425.7 378.6,425.1 383.1,424.5 387.6,424.3 392.2,424.9 396.7,425.5 401.2,426.3 405.8,427.2 410.3,428.1 414.8,429.0 419.4,429.9 423.9,431.9 428.4,434.2 433.0,436.5 437.5,438.7 442.0,440.8 446.6,442.6 451.1,444.4 455.6,445.8 460.2,446.2 464.7,446.7 469.2,446.7 473.8,445.8 478.3,444.9 482.8,443.7 487.4,441.4 491.9,439.2 496.4,436.9 501.0,434.8 505.5,432.8 510.0,430.7 514.6,429.2 519.1,427.7 523.6,426.2 528.2,424.3 532.7,422.5 537.2,420.7 541.8,419.1 546.3,417.5 550.8,416.0 555.4,414.4 559.9,412.8 564.4,411.1 569.0,409.5 573.5,407.9 578.0,406.3 582.6,404.7 587.1,403.1 591.6,401.6 596.2,399.9 600.7,398.1 605.2,396.3 609.8,394.8 614.3,393.6 618.8,392.4 623.4,391.4 627.9,390.8 632.4,390.2 637.0,389.5 641.5,388.6 646.0,387.7 650.6,386.8 655.1,385.9 659.6,385.0 664.2,384.0 668.7,382.8 673.2,381.6 677.8,380.4 682.3,378.6 686.8,376.8 691.4,379.1 695.9,381.5 700.4,383.2" fill="none" stroke="#0000ff" stroke-width="0.55" stroke-opacity="0.85"/>
<g fill="url(#s2)"><circle cx="151.9" cy="460.1" r="2.99"/><circle cx="156.5" cy="461.6" r="2.99"/><circle cx="161.0" cy="463.1" r="2.99"/><circle cx="165.5" cy="463.9" r="2.99"/><circle cx="170.1" cy="464.7" r="2.99"/><circle cx="174.6" cy="464.2" r="2.99"/><circle cx="179.1" cy="463.8" r="2.99"/><circle cx="183.7" cy="463.4" r="2.99"/><circle cx="188.2" cy="462.9" r="2.99"/><circle cx="192.7" cy="462.5" r="2.99"/><circle cx="197.3" cy="462.0" r="2.99"/><circle cx="201.8" cy="461.5" r="2.99"/><circle cx="206.3" cy="461.1" r="2.99"/><circle cx="210.9" cy="460.5" r="2.99"/><circle cx="215.4" cy="459.8" r="2.99"/><circle cx="219.9" cy="459.2" r="2.99"/><circle cx="224.5" cy="458.5" r="2.99"/><circle cx="229.0" cy="457.8" r="2.99"/><circle cx="233.5" cy="457.0" r="2.99"/><circle cx="238.0" cy="456.1" r="2.99"/><circle cx="242.6" cy="455.2" r="2.99"/><circle cx="247.1" cy="454.3" r="2.99"/><circle cx="251.6" cy="453.4" r="2.99"/><circle cx="256.2" cy="452.3" r="2.99"/><circle cx="260.7" cy="451.2" r="2.99"/><circle cx="265.2" cy="450.1" r="2.99"/><circle cx="269.8" cy="449.1" r="2.99"/><circle cx="274.3" cy="448.4" r="2.99"/><circle cx="278.8" cy="447.7" r="2.99"/><circle cx="283.4" cy="447.0" r="2.99"/><circle cx="287.9" cy="446.3" r="2.99"/><circle cx="292.4" cy="445.7" r="2.99"/><circle cx="297.0" cy="445.0" r="2.99"/><circle cx="301.5" cy="444.3" r="2.99"/><circle cx="306.0" cy="443.6" r="2.99"/><circle cx="310.6" cy="442.9" r="2.99"/><circle cx="315.1" cy="442.0" r="2.99"/><circle cx="319.6" cy="441.0" r="2.99"/><circle cx="324.2" cy="439.9" r="2.99"/><circle cx="328.7" cy="438.9" r="2.99"/><circle cx="333.2" cy="437.9" r="2.99"/><circle cx="337.8" cy="436.6" r="2.99"/><circle cx="342.3" cy="435.2" r="2.99"/><circle cx="346.8" cy="433.8" r="2.99"/><circle cx="351.4" cy="432.5" r="2.99"/><circle cx="355.9" cy="431.1" r="2.99"/><circle cx="360.4" cy="429.7" r="2.99"/><circle cx="365.0" cy="428.3" r="2.99"/><circle cx="369.5" cy="426.9" r="2.99"/><circle cx="374.0" cy="425.7" r="2.99"/><circle cx="378.6" cy="425.1" r="2.99"/><circle cx="383.1" cy="424.5" r="2.99"/><circle cx="387.6" cy="424.3" r="2.99"/><circle cx="392.2" cy="424.9" r="2.99"/><circle cx="396.7" cy="425.5" r="2.99"/><circle cx="401.2" cy="426.3" r="2.99"/><circle cx="405.8" cy="427.2" r="2.99"/><circle cx="410.3" cy="428.1" r="2.99"/><circle cx="414.8" cy="429.0" r="2.99"/><circle cx="419.4" cy="429.9" r="2.99"/><circle cx="423.9" cy="431.9" r="2.99"/><circle cx="428.4" cy="434.2" r="2.99"/><circle cx="433.0" cy="436.5" r="2.99"/><circle cx="437.5" cy="438.7" r="2.99"/><circle cx="442.0" cy="440.8" r="2.99"/><circle cx="446.6" cy="442.6" r="2.99"/><circle cx="451.1" cy="444.4" r="2.99"/><circle cx="455.6" cy="445.8" r="2.99"/><circle cx="460.2" cy="446.2" r="2.99"/><circle cx="464.7" cy="446.7" r="2.99"/><circle cx="469.2" cy="446.7" r="2.99"/><circle cx="473.8" cy="445.8" r="2.99"/><circle cx="478.3" cy="444.9" r="2.99"/><circle cx="482.8" cy="443.7" r="2.99"/><circle cx="487.4" cy="441.4" r="2.99"/><circle cx="491.9" cy="439.2" r="2.99"/><circle cx="496.4" cy="436.9" r="2.99"/><circle cx="501.0" cy="434.8" r="2.99"/><circle cx="505.5" cy="432.8" r="2.99"/><circle cx="510.0" cy="430.7" r="2.99"/><circle cx="514.6" cy="429.2" r="2.99"/><circle cx="519.1" cy="427.7" r="2.99"/><circle cx="523.6" cy="426.2" r="2.99"/><circle cx="528.2" cy="424.3" r="2.99"/><circle cx="532.7" cy="422.5" r="2.99"/><circle cx="537.2" cy="420.7" r="2.99"/><circle cx="541.8" cy="419.1" r="2.99"/><circle cx="546.3" cy="417.5" r="2.99"/><circle cx="550.8" cy="416.0" r="2.99"/><circle cx="555.4" cy="414.4" r="2.99"/><circle cx="559.9" cy="412.8" r="2.99"/><circle cx="564.4" cy="411.1" r="2.99"/><circle cx="569.0" cy="409.5" r="2.99"/><circle cx="573.5" cy="407.9" r="2.99"/><circle cx="578.0" cy="406.3" r="2.99"/><circle cx="582.6" cy="404.7" r="2.99"/><circle cx="587.1" cy="403.1" r="2.99"/><circle cx="591.6" cy="401.6" r="2.99"/><circle cx="596.2" cy="399.9" r="2.99"/><circle cx="600.7" cy="398.1" r="2.99"/><circle cx="605.2" cy="396.3" r="2.99"/><circle cx="609.8" cy="394.8" r="2.99"/><circle cx="614.3" cy="393.6" r="2.99"/><circle cx="618.8" cy="392.4" r="2.99"/><circle cx="623.4" cy="391.4" r="2.99"/><circle cx="627.9" cy="390.8" r="2.99"/><circle cx="632.4" cy="390.2" r="2.99"/><circle cx="637.0" cy="389.5" r="2.99"/><circle cx="641.5" cy="388.6" r="2.99"/><circle cx="646.0" cy="387.7" r="2.99"/><circle cx="650.6" cy="386.8" r="2.99"/><circle cx="655.1" cy="385.9" r="2.99"/><circle cx="659.6" cy="385.0" r="2.99"/><circle cx="664.2" cy="384.0" r="2.99"/><circle cx="668.7" cy="382.8" r="2.99"/><circle cx="673.2" cy="381.6" r="2.99"/><circle cx="677.8" cy="380.4" r="2.99"/><circle cx="682.3" cy="378.6" r="2.99"/><circle cx="686.8" cy="376.8" r="2.99"/><circle cx="691.4" cy="379.1" r="2.99"/><circle cx="695.9" cy="381.5" r="2.99"/><circle cx="700.4" cy="383.2" r="2.99"/></g>
<polygon points="122.4,576.5 122.4,488.5 127.1,490.6 131.7,492.6 136.4,494.1 141.0,496.2 145.7,515.2 150.3,515.1 155.0,514.8 159.6,514.5 164.3,514.2 169.0,513.7 173.6,513.1 178.3,512.5 182.9,511.9 187.6,511.2 192.2,509.9 196.9,508.5 201.5,507.1 206.2,505.7 210.9,504.0 215.5,501.8 220.2,499.8 224.8,498.6 229.5,497.5 234.1,496.2 238.8,494.8 243.4,493.4 248.1,492.0 252.7,490.7 257.4,489.4 262.1,488.1 266.7,486.8 271.4,485.6 276.0,484.7 280.7,483.8 285.3,482.8 290.0,481.9 294.6,480.9 299.3,479.9 303.9,478.9 308.6,477.9 313.3,476.9 317.9,476.0 322.6,475.2 327.2,474.3 331.9,473.5 336.5,472.9 341.2,472.7 345.8,472.5 350.5,472.3 355.2,472.0 359.8,472.0 364.5,472.0 369.1,472.0 373.8,472.0 378.4,472.1 383.1,472.4 387.7,472.8 392.4,473.7 397.0,475.2 401.7,476.8 406.4,479.2 411.0,481.9 415.7,484.6 420.3,486.5 425.0,488.3 429.6,489.8 434.3,490.0 438.9,490.3 443.6,489.2 448.2,487.8 452.9,486.4 457.6,484.3 462.2,482.0 466.9,479.6 471.5,476.4 476.2,473.0 480.8,469.6 485.5,466.1 490.1,462.5 494.8,459.0 499.5,455.6 504.1,452.4 508.8,449.1 513.4,446.0 518.1,443.0 522.7,439.9 527.4,437.3 532.0,434.8 536.7,432.2 541.3,430.2 546.0,428.4 550.7,426.5 555.3,424.9 560.0,423.3 564.6,421.7 569.3,420.2 573.9,418.7 578.6,417.2 583.2,415.7 587.9,414.1 592.5,412.5 597.2,411.0 601.9,409.6 606.5,408.2 611.2,406.8 615.8,405.4 620.5,404.0 625.1,402.6 629.8,401.2 634.4,399.8 639.1,398.4 643.8,397.1 648.4,395.7 653.1,394.3 657.7,392.9 662.4,391.5 667.0,390.2 671.7,388.8 676.3,388.7 681.0,390.1 685.6,392.6 685.6,576.5" fill="url(#f1)" fill-opacity="0.657"/>
<polyline points="122.4,488.5 127.1,490.6 131.7,492.6 136.4,494.1 141.0,496.2 145.7,515.2 150.3,515.1 155.0,514.8 159.6,514.5 164.3,514.2 169.0,513.7 173.6,513.1 178.3,512.5 182.9,511.9 187.6,511.2 192.2,509.9 196.9,508.5 201.5,507.1 206.2,505.7 210.9,504.0 215.5,501.8 220.2,499.8 224.8,498.6 229.5,497.5 234.1,496.2 238.8,494.8 243.4,493.4 248.1,492.0 252.7,490.7 257.4,489.4 262.1,488.1 266.7,486.8 271.4,485.6 276.0,484.7 280.7,483.8 285.3,482.8 290.0,481.9 294.6,480.9 299.3,479.9 303.9,478.9 308.6,477.9 313.3,476.9 317.9,476.0 322.6,475.2 327.2,474.3 331.9,473.5 336.5,472.9 341.2,472.7 345.8,472.5 350.5,472.3 355.2,472.0 359.8,472.0 364.5,472.0 369.1,472.0 373.8,472.0 378.4,472.1 383.1,472.4 387.7,472.8 392.4,473.7 397.0,475.2 401.7,476.8 406.4,479.2 411.0,481.9 415.7,484.6 420.3,486.5 425.0,488.3 429.6,489.8 434.3,490.0 438.9,490.3 443.6,489.2 448.2,487.8 452.9,486.4 457.6,484.3 462.2,482.0 466.9,479.6 471.5,476.4 476.2,473.0 480.8,469.6 485.5,466.1 490.1,462.5 494.8,459.0 499.5,455.6 504.1,452.4 508.8,449.1 513.4,446.0 518.1,443.0 522.7,439.9 527.4,437.3 532.0,434.8 536.7,432.2 541.3,430.2 546.0,428.4 550.7,426.5 555.3,424.9 560.0,423.3 564.6,421.7 569.3,420.2 573.9,418.7 578.6,417.2 583.2,415.7 587.9,414.1 592.5,412.5 597.2,411.0 601.9,409.6 606.5,408.2 611.2,406.8 615.8,405.4 620.5,404.0 625.1,402.6 629.8,401.2 634.4,399.8 639.1,398.4 643.8,397.1 648.4,395.7 653.1,394.3 657.7,392.9 662.4,391.5 667.0,390.2 671.7,388.8 676.3,388.7 681.0,390.1 685.6,392.6" fill="none" stroke="#ff0000" stroke-width="0.55" stroke-opacity="0.85"/>
<g fill="url(#s1)"><circle cx="122.4" cy="488.5" r="3.07"/><circle cx="127.1" cy="490.6" r="3.07"/><circle cx="131.7" cy="492.6" r="3.07"/><circle cx="136.4" cy="494.1" r="3.07"/><circle cx="141.0" cy="496.2" r="3.07"/><circle cx="145.7" cy="515.2" r="3.07"/><circle cx="150.3" cy="515.1" r="3.07"/><circle cx="155.0" cy="514.8" r="3.07"/><circle cx="159.6" cy="514.5" r="3.07"/><circle cx="164.3" cy="514.2" r="3.07"/><circle cx="169.0" cy="513.7" r="3.07"/><circle cx="173.6" cy="513.1" r="3.07"/><circle cx="178.3" cy="512.5" r="3.07"/><circle cx="182.9" cy="511.9" r="3.07"/><circle cx="187.6" cy="511.2" r="3.07"/><circle cx="192.2" cy="509.9" r="3.07"/><circle cx="196.9" cy="508.5" r="3.07"/><circle cx="201.5" cy="507.1" r="3.07"/><circle cx="206.2" cy="505.7" r="3.07"/><circle cx="210.9" cy="504.0" r="3.07"/><circle cx="215.5" cy="501.8" r="3.07"/><circle cx="220.2" cy="499.8" r="3.07"/><circle cx="224.8" cy="498.6" r="3.07"/><circle cx="229.5" cy="497.5" r="3.07"/><circle cx="234.1" cy="496.2" r="3.07"/><circle cx="238.8" cy="494.8" r="3.07"/><circle cx="243.4" cy="493.4" r="3.07"/><circle cx="248.1" cy="492.0" r="3.07"/><circle cx="252.7" cy="490.7" r="3.07"/><circle cx="257.4" cy="489.4" r="3.07"/><circle cx="262.1" cy="488.1" r="3.07"/><circle cx="266.7" cy="486.8" r="3.07"/><circle cx="271.4" cy="485.6" r="3.07"/><circle cx="276.0" cy="484.7" r="3.07"/><circle cx="280.7" cy="483.8" r="3.07"/><circle cx="285.3" cy="482.8" r="3.07"/><circle cx="290.0" cy="481.9" r="3.07"/><circle cx="294.6" cy="480.9" r="3.07"/><circle cx="299.3" cy="479.9" r="3.07"/><circle cx="303.9" cy="478.9" r="3.07"/><circle cx="308.6" cy="477.9" r="3.07"/><circle cx="313.3" cy="476.9" r="3.07"/><circle cx="317.9" cy="476.0" r="3.07"/><circle cx="322.6" cy="475.2" r="3.07"/><circle cx="327.2" cy="474.3" r="3.07"/><circle cx="331.9" cy="473.5" r="3.07"/><circle cx="336.5" cy="472.9" r="3.07"/><circle cx="341.2" cy="472.7" r="3.07"/><circle cx="345.8" cy="472.5" r="3.07"/><circle cx="350.5" cy="472.3" r="3.07"/><circle cx="355.2" cy="472.0" r="3.07"/><circle cx="359.8" cy="472.0" r="3.07"/><circle cx="364.5" cy="472.0" r="3.07"/><circle cx="369.1" cy="472.0" r="3.07"/><circle cx="373.8" cy="472.0" r="3.07"/><circle cx="378.4" cy="472.1" r="3.07"/><circle cx="383.1" cy="472.4" r="3.07"/><circle cx="387.7" cy="472.8" r="3.07"/><circle cx="392.4" cy="473.7" r="3.07"/><circle cx="397.0" cy="475.2" r="3.07"/><circle cx="401.7" cy="476.8" r="3.07"/><circle cx="406.4" cy="479.2" r="3.07"/><circle cx="411.0" cy="481.9" r="3.07"/><circle cx="415.7" cy="484.6" r="3.07"/><circle cx="420.3" cy="486.5" r="3.07"/><circle cx="425.0" cy="488.3" r="3.07"/><circle cx="429.6" cy="489.8" r="3.07"/><circle cx="434.3" cy="490.0" r="3.07"/><circle cx="438.9" cy="490.3" r="3.07"/><circle cx="443.6" cy="489.2" r="3.07"/><circle cx="448.2" cy="487.8" r="3.07"/><circle cx="452.9" cy="486.4" r="3.07"/><circle cx="457.6" cy="484.3" r="3.07"/><circle cx="462.2" cy="482.0" r="3.07"/><circle cx="466.9" cy="479.6" r="3.07"/><circle cx="471.5" cy="476.4" r="3.07"/><circle cx="476.2" cy="473.0" r="3.07"/><circle cx="480.8" cy="469.6" r="3.07"/><circle cx="485.5" cy="466.1" r="3.07"/><circle cx="490.1" cy="462.5" r="3.07"/><circle cx="494.8" cy="459.0" r="3.07"/><circle cx="499.5" cy="455.6" r="3.07"/><circle cx="504.1" cy="452.4" r="3.07"/><circle cx="508.8" cy="449.1" r="3.07"/><circle cx="513.4" cy="446.0" r="3.07"/><circle cx="518.1" cy="443.0" r="3.07"/><circle cx="522.7" cy="439.9" r="3.07"/><circle cx="527.4" cy="437.3" r="3.07"/><circle cx="532.0" cy="434.8" r="3.07"/><circle cx="536.7" cy="432.2" r="3.07"/><circle cx="541.3" cy="430.2" r="3.07"/><circle cx="546.0" cy="428.4" r="3.07"/><circle cx="550.7" cy="426.5" r="3.07"/><circle cx="555.3" cy="424.9" r="3.07"/><circle cx="560.0" cy="423.3" r="3.07"/><circle cx="564.6" cy="421.7" r="3.07"/><circle cx="569.3" cy="420.2" r="3.07"/><circle cx="573.9" cy="418.7" r="3.07"/><circle cx="578.6" cy="417.2" r="3.07"/><circle cx="583.2" cy="415.7" r="3.07"/><circle cx="587.9" cy="414.1" r="3.07"/><circle cx="592.5" cy="412.5" r="3.07"/><circle cx="597.2" cy="411.0" r="3.07"/><circle cx="601.9" cy="409.6" r="3.07"/><circle cx="606.5" cy="408.2" r="3.07"/><circle cx="611.2" cy="406.8" r="3.07"/><circle cx="615.8" cy="405.4" r="3.07"/><circle cx="620.5" cy="404.0" r="3.07"/><circle cx="625.1" cy="402.6" r="3.07"/><circle cx="629.8" cy="401.2" r="3.07"/><circle cx="634.4" cy="399.8" r="3.07"/><circle cx="639.1" cy="398.4" r="3.07"/><circle cx="643.8" cy="397.1" r="3.07"/><circle cx="648.4" cy="395.7" r="3.07"/><circle cx="653.1" cy="394.3" r="3.07"/><circle cx="657.7" cy="392.9" r="3.07"/><circle cx="662.4" cy="391.5" r="3.07"/><circle cx="667.0" cy="390.2" r="3.07"/><circle cx="671.7" cy="388.8" r="3.07"/><circle cx="676.3" cy="388.7" r="3.07"/><circle cx="681.0" cy="390.1" r="3.07"/><circle cx="685.6" cy="392.6" r="3.07"/></g>
<polygon points="91.3,612.7 91.3,524.4 96.1,524.0 100.8,519.1 105.6,521.8 110.4,518.5 115.2,520.3 120.0,518.6 124.8,515.4 129.5,512.2 134.3,512.6 139.1,507.5 143.9,506.9 148.7,506.0 153.5,507.2 158.2,504.1 163.0,506.9 167.8,505.5 172.6,504.8 177.4,504.2 182.2,504.0 186.9,503.8 191.7,503.6 196.5,503.5 201.3,503.3 206.1,503.1 210.9,503.0 215.6,502.8 220.4,502.7 225.2,502.5 230.0,502.4 234.8,502.2 239.5,502.1 244.3,501.9 249.1,501.7 253.9,501.5 258.7,501.3 263.5,501.2 268.2,501.0 273.0,500.7 277.8,500.3 282.6,499.9 287.4,499.5 292.2,499.2 296.9,498.8 301.7,498.5 306.5,498.2 311.3,497.8 316.1,497.3 320.9,496.8 325.6,496.2 330.4,495.7 335.2,495.1 340.0,494.7 344.8,494.3 349.6,493.9 354.3,493.5 359.1,493.3 363.9,493.1 368.7,493.2 373.5,493.6 378.3,494.0 383.0,494.5 387.8,494.9 392.6,495.4 397.4,495.9 402.2,496.5 407.0,497.2 411.7,497.9 416.5,498.6 421.3,499.2 426.1,499.4 430.9,499.6 435.7,499.8 440.4,499.9 445.2,499.0 450.0,498.0 454.8,497.1 459.6,496.1 464.4,495.2 469.1,494.1 473.9,492.4 478.7,490.7 483.5,489.0 488.3,487.3 493.1,485.7 497.8,483.9 502.6,482.0 507.4,480.1 512.2,478.1 517.0,476.2 521.8,474.3 526.5,472.5 531.3,470.9 536.1,469.2 540.9,467.6 545.7,465.9 550.5,464.2 555.2,462.6 560.0,460.9 564.8,459.2 569.6,457.5 574.4,455.8 579.2,454.2 583.9,452.9 588.7,451.7 593.5,450.5 598.3,449.3 603.1,448.1 607.9,446.9 612.6,446.0 617.4,445.0 622.2,444.1 627.0,443.1 631.8,442.1 636.6,441.3 641.3,440.8 646.1,440.3 650.9,439.9 655.7,439.4 660.5,438.9 665.2,438.4 665.2,612.7" fill="url(#f0)" fill-opacity="0.657"/>
<polyline points="91.3,524.4 96.1,524.0 100.8,519.1 105.6,521.8 110.4,518.5 115.2,520.3 120.0,518.6 124.8,515.4 129.5,512.2 134.3,512.6 139.1,507.5 143.9,506.9 148.7,506.0 153.5,507.2 158.2,504.1 163.0,506.9 167.8,505.5 172.6,504.8 177.4,504.2 182.2,504.0 186.9,503.8 191.7,503.6 196.5,503.5 201.3,503.3 206.1,503.1 210.9,503.0 215.6,502.8 220.4,502.7 225.2,502.5 230.0,502.4 234.8,502.2 239.5,502.1 244.3,501.9 249.1,501.7 253.9,501.5 258.7,501.3 263.5,501.2 268.2,501.0 273.0,500.7 277.8,500.3 282.6,499.9 287.4,499.5 292.2,499.2 296.9,498.8 301.7,498.5 306.5,498.2 311.3,497.8 316.1,497.3 320.9,496.8 325.6,496.2 330.4,495.7 335.2,495.1 340.0,494.7 344.8,494.3 349.6,493.9 354.3,493.5 359.1,493.3 363.9,493.1 368.7,493.2 373.5,493.6 378.3,494.0 383.0,494.5 387.8,494.9 392.6,495.4 397.4,495.9 402.2,496.5 407.0,497.2 411.7,497.9 416.5,498.6 421.3,499.2 426.1,499.4 430.9,499.6 435.7,499.8 440.4,499.9 445.2,499.0 450.0,498.0 454.8,497.1 459.6,496.1 464.4,495.2 469.1,494.1 473.9,492.4 478.7,490.7 483.5,489.0 488.3,487.3 493.1,485.7 497.8,483.9 502.6,482.0 507.4,480.1 512.2,478.1 517.0,476.2 521.8,474.3 526.5,472.5 531.3,470.9 536.1,469.2 540.9,467.6 545.7,465.9 550.5,464.2 555.2,462.6 560.0,460.9 564.8,459.2 569.6,457.5 574.4,455.8 579.2,454.2 583.9,452.9 588.7,451.7 593.5,450.5 598.3,449.3 603.1,448.1 607.9,446.9 612.6,446.0 617.4,445.0 622.2,444.1 627.0,443.1 631.8,442.1 636.6,441.3 641.3,440.8 646.1,440.3 650.9,439.9 655.7,439.4 660.5,438.9 665.2,438.4" fill="none" stroke="#000000" stroke-width="0.55" stroke-opacity="0.85"/>
<g fill="url(#s0)"><circle cx="91.3" cy="524.4" r="3.16"/><circle cx="96.1" cy="524.0" r="3.16"/><circle cx="100.8" cy="519.1" r="3.16"/><circle cx="105.6" cy="521.8" r="3.16"/><circle cx="110.4" cy="518.5" r="3.16"/><circle cx="115.2" cy="520.3" r="3.16"/><circle cx="120.0" cy="518.6" r="3.16"/><circle cx="124.8" cy="515.4" r="3.16"/><circle cx="129.5" cy="512.2" r="3.16"/><circle cx="134.3" cy="512.6" r="3.16"/><circle cx="139.1" cy="507.5" r="3.16"/><circle cx="143.9" cy="506.9" r="3.16"/><circle cx="148.7" cy="506.0" r="3.16"/><circle cx="153.5" cy="507.2" r="3.16"/><circle cx="158.2" cy="504.1" r="3.16"/><circle cx="163.0" cy="506.9" r="3.16"/><circle cx="167.8" cy="505.5" r="3.16"/><circle cx="172.6" cy="504.8" r="3.16"/><circle cx="177.4" cy="504.2" r="3.16"/><circle cx="182.2" cy="504.0" r="3.16"/><circle cx="186.9" cy="503.8" r="3.16"/><circle cx="191.7" cy="503.6" r="3.16"/><circle cx="196.5" cy="503.5" r="3.16"/><circle cx="201.3" cy="503.3" r="3.16"/><circle cx="206.1" cy="503.1" r="3.16"/><circle cx="210.9" cy="503.0" r="3.16"/><circle cx="215.6" cy="502.8" r="3.16"/><circle cx="220.4" cy="502.7" r="3.16"/><circle cx="225.2" cy="502.5" r="3.16"/><circle cx="230.0" cy="502.4" r="3.16"/><circle cx="234.8" cy="502.2" r="3.16"/><circle cx="239.5" cy="502.1" r="3.16"/><circle cx="244.3" cy="501.9" r="3.16"/><circle cx="249.1" cy="501.7" r="3.16"/><circle cx="253.9" cy="501.5" r="3.16"/><circle cx="258.7" cy="501.3" r="3.16"/><circle cx="263.5" cy="501.2" r="3.16"/><circle cx="268.2" cy="501.0" r="3.16"/><circle cx="273.0" cy="500.7" r="3.16"/><circle cx="277.8" cy="500.3" r="3.16"/><circle cx="282.6" cy="499.9" r="3.16"/><circle cx="287.4" cy="499.5" r="3.16"/><circle cx="292.2" cy="499.2" r="3.16"/><circle cx="296.9" cy="498.8" r="3.16"/><circle cx="301.7" cy="498.5" r="3.16"/><circle cx="306.5" cy="498.2" r="3.16"/><circle cx="311.3" cy="497.8" r="3.16"/><circle cx="316.1" cy="497.3" r="3.16"/><circle cx="320.9" cy="496.8" r="3.16"/><circle cx="325.6" cy="496.2" r="3.16"/><circle cx="330.4" cy="495.7" r="3.16"/><circle cx="335.2" cy="495.1" r="3.16"/><circle cx="340.0" cy="494.7" r="3.16"/><circle cx="344.8" cy="494.3" r="3.16"/><circle cx="349.6" cy="493.9" r="3.16"/><circle cx="354.3" cy="493.5" r="3.16"/><circle cx="359.1" cy="493.3" r="3.16"/><circle cx="363.9" cy="493.1" r="3.16"/><circle cx="368.7" cy="493.2" r="3.16"/><circle cx="373.5" cy="493.6" r="3.16"/><circle cx="378.3" cy="494.0" r="3.16"/><circle cx="383.0" cy="494.5" r="3.16"/><circle cx="387.8" cy="494.9" r="3.16"/><circle cx="392.6" cy="495.4" r="3.16"/><circle cx="397.4" cy="495.9" r="3.16"/><circle cx="402.2" cy="496.5" r="3.16"/><circle cx="407.0" cy="497.2" r="3.16"/><circle cx="411.7" cy="497.9" r="3.16"/><circle cx="416.5" cy="498.6" r="3.16"/><circle cx="421.3" cy="499.2" r="3.16"/><circle cx="426.1" cy="499.4" r="3.16"/><circle cx="430.9" cy="499.6" r="3.16"/><circle cx="435.7" cy="499.8" r="3.16"/><circle cx="440.4" cy="499.9" r="3.16"/><circle cx="445.2" cy="499.0" r="3.16"/><circle cx="450.0" cy="498.0" r="3.16"/><circle cx="454.8" cy="497.1" r="3.16"/><circle cx="459.6" cy="496.1" r="3.16"/><circle cx="464.4" cy="495.2" r="3.16"/><circle cx="469.1" cy="494.1" r="3.16"/><circle cx="473.9" cy="492.4" r="3.16"/><circle cx="478.7" cy="490.7" r="3.16"/><circle cx="483.5" cy="489.0" r="3.16"/><circle cx="488.3" cy="487.3" r="3.16"/><circle cx="493.1" cy="485.7" r="3.16"/><circle cx="497.8" cy="483.9" r="3.16"/><circle cx="502.6" cy="482.0" r="3.16"/><circle cx="507.4" cy="480.1" r="3.16"/><circle cx="512.2" cy="478.1" r="3.16"/><circle cx="517.0" cy="476.2" r="3.16"/><circle cx="521.8" cy="474.3" r="3.16"/><circle cx="526.5" cy="472.5" r="3.16"/><circle cx="531.3" cy="470.9" r="3.16"/><circle cx="536.1" cy="469.2" r="3.16"/><circle cx="540.9" cy="467.6" r="3.16"/><circle cx="545.7" cy="465.9" r="3.16"/><circle cx="550.5" cy="464.2" r="3.16"/><circle cx="555.2" cy="462.6" r="3.16"/><circle cx="560.0" cy="460.9" r="3.16"/><circle cx="564.8" cy="459.2" r="3.16"/><circle cx="569.6" cy="457.5" r="3.16"/><circle cx="574.4" cy="455.8" r="3.16"/><circle cx="579.2" cy="454.2" r="3.16"/><circle cx="583.9" cy="452.9" r="3.16"/><circle cx="588.7" cy="451.7" r="3.16"/><circle cx="593.5" cy="450.5" r="3.16"/><circle cx="598.3" cy="449.3" r="3.16"/><circle cx="603.1" cy="448.1" r="3.16"/><circle cx="607.9" cy="446.9" r="3.16"/><circle cx="612.6" cy="446.0" r="3.16"/><circle cx="617.4" cy="445.0" r="3.16"/><circle cx="622.2" cy="444.1" r="3.16"/><circle cx="627.0" cy="443.1" r="3.16"/><circle cx="631.8" cy="442.1" r="3.16"/><circle cx="636.6" cy="441.3" r="3.16"/><circle cx="641.3" cy="440.8" r="3.16"/><circle cx="646.1" cy="440.3" r="3.16"/><circle cx="650.9" cy="439.9" r="3.16"/><circle cx="655.7" cy="439.4" r="3.16"/><circle cx="660.5" cy="438.9" r="3.16"/><circle cx="665.2" cy="438.4" r="3.16"/></g>
<g stroke="#000" stroke-width="2.6" stroke-linecap="square" fill="none"><line x1="75.0" y1="631.5" x2="75.0" y2="337.5" /><line x1="75.0" y1="631.5" x2="662.6" y2="631.5" /><line x1="662.6" y1="631.5" x2="844.7" y2="209.5" /><line x1="75.0" y1="615.2" x2="81.0" y2="615.2" /><line x1="75.0" y1="598.8" x2="86.0" y2="598.8" /><line x1="75.0" y1="582.5" x2="81.0" y2="582.5" /><line x1="75.0" y1="566.2" x2="86.0" y2="566.2" /><line x1="75.0" y1="549.8" x2="81.0" y2="549.8" /><line x1="75.0" y1="533.5" x2="86.0" y2="533.5" /><line x1="75.0" y1="517.2" x2="81.0" y2="517.2" /><line x1="75.0" y1="500.8" x2="86.0" y2="500.8" /><line x1="75.0" y1="484.5" x2="81.0" y2="484.5" /><line x1="75.0" y1="468.2" x2="86.0" y2="468.2" /><line x1="75.0" y1="451.8" x2="81.0" y2="451.8" /><line x1="75.0" y1="435.5" x2="86.0" y2="435.5" /><line x1="75.0" y1="419.2" x2="81.0" y2="419.2" /><line x1="75.0" y1="402.8" x2="86.0" y2="402.8" /><line x1="75.0" y1="386.5" x2="81.0" y2="386.5" /><line x1="75.0" y1="370.2" x2="86.0" y2="370.2" /><line x1="75.0" y1="353.8" x2="81.0" y2="353.8" /><line x1="75.0" y1="337.5" x2="86.0" y2="337.5" /><line x1="118.7" y1="631.5" x2="118.7" y2="625.5" /><line x1="167.2" y1="631.5" x2="167.2" y2="620.5" /><line x1="215.7" y1="631.5" x2="215.7" y2="625.5" /><line x1="264.2" y1="631.5" x2="264.2" y2="620.5" /><line x1="312.7" y1="631.5" x2="312.7" y2="625.5" /><line x1="361.2" y1="631.5" x2="361.2" y2="620.5" /><line x1="409.7" y1="631.5" x2="409.7" y2="625.5" /><line x1="458.2" y1="631.5" x2="458.2" y2="620.5" /><line x1="506.7" y1="631.5" x2="506.7" y2="625.5" /><line x1="555.2" y1="631.5" x2="555.2" y2="620.5" /><line x1="603.7" y1="631.5" x2="603.7" y2="625.5" /><line x1="652.2" y1="631.5" x2="652.2" y2="620.5" /><line x1="670.8" y1="612.7" x2="659.9" y2="612.7" /><line x1="686.3" y1="576.5" x2="675.8" y2="576.5" /><line x1="701.1" y1="542.3" x2="690.8" y2="542.3" /><line x1="715.1" y1="509.8" x2="705.1" y2="509.8" /><line x1="728.5" y1="478.9" x2="718.7" y2="478.9" /><line x1="741.2" y1="449.5" x2="731.6" y2="449.5" /><line x1="753.2" y1="421.5" x2="743.9" y2="421.5" /><line x1="764.8" y1="394.8" x2="755.7" y2="394.8" /><line x1="775.8" y1="369.3" x2="766.9" y2="369.3" /><line x1="786.3" y1="344.9" x2="777.6" y2="344.9" /><line x1="796.3" y1="321.6" x2="787.8" y2="321.6" /><line x1="806.0" y1="299.3" x2="797.7" y2="299.3" /><line x1="815.2" y1="277.9" x2="807.1" y2="277.9" /><line x1="824.1" y1="257.3" x2="816.1" y2="257.3" /><line x1="832.6" y1="237.6" x2="824.8" y2="237.6" /><line x1="840.8" y1="218.7" x2="833.1" y2="218.7" /></g>
<g font-family="Liberation Serif" font-weight="bold" fill="#000" stroke="#000" stroke-width="0.3"><text transform="translate(64.2,640.9) scale(1.000,1.120)" font-size="23.00" text-anchor="end">0.0</text><text transform="translate(64.2,608.2) scale(1.000,1.120)" font-size="23.00" text-anchor="end">0.2</text><text transform="translate(64.2,575.6) scale(1.000,1.120)" font-size="23.00" text-anchor="end">0.4</text><text transform="translate(64.2,542.9) scale(1.000,1.120)" font-size="23.00" text-anchor="end">0.6</text><text transform="translate(64.2,510.2) scale(1.000,1.120)" font-size="23.00" text-anchor="end">0.8</text><text transform="translate(64.2,477.6) scale(1.000,1.120)" font-size="23.00" text-anchor="end">1.0</text><text transform="translate(64.2,444.9) scale(1.000,1.120)" font-size="23.00" text-anchor="end">1.2</text><text transform="translate(64.2,412.2) scale(1.000,1.120)" font-size="23.00" text-anchor="end">1.4</text><text transform="translate(64.2,379.6) scale(1.000,1.120)" font-size="23.00" text-anchor="end">1.6</text><text transform="translate(64.2,346.9) scale(1.000,1.120)" font-size="23.00" text-anchor="end">1.8</text><text transform="translate(167.2,665.8) scale(1.000,1.120)" font-size="23.00" text-anchor="middle">20</text><text transform="translate(264.2,665.8) scale(1.000,1.120)" font-size="23.00" text-anchor="middle">40</text><text transform="translate(361.2,665.8) scale(1.000,1.120)" font-size="23.00" text-anchor="middle">60</text><text transform="translate(458.2,665.8) scale(1.000,1.120)" font-size="23.00" text-anchor="middle">80</text><text transform="translate(555.2,665.8) scale(1.000,1.120)" font-size="23.00" text-anchor="middle">100</text><text transform="translate(652.2,665.8) scale(1.000,1.120)" font-size="23.00" text-anchor="middle">120</text><text transform="translate(681.6,621.6) scale(1.000,1.040)" font-size="22.58">3s-24dB</text><text transform="translate(696.9,585.2) scale(1.000,1.040)" font-size="21.98">3s-18dB</text><text transform="translate(711.4,550.8) scale(1.000,1.040)" font-size="21.40">3s-12dB</text><text transform="translate(725.2,518.1) scale(1.000,1.040)" font-size="20.86">3s-6dB</text><text transform="translate(738.2,487.0) scale(1.000,1.040)" font-size="20.34">1s-24dB</text><text transform="translate(750.7,457.5) scale(1.000,1.040)" font-size="19.85">1s-18dB</text><text transform="translate(762.5,429.3) scale(1.000,1.040)" font-size="19.38">1s-12dB</text><text transform="translate(773.9,402.4) scale(1.000,1.040)" font-size="18.93">1s-6dB</text><text transform="translate(784.7,376.8) scale(1.000,1.040)" font-size="18.50">300ms-24dB</text><text transform="translate(795.0,352.3) scale(1.000,1.040)" font-size="18.10">300ms-18dB</text><text transform="translate(804.9,328.8) scale(1.000,1.040)" font-size="17.70">300ms-12dB</text><text transform="translate(814.3,306.3) scale(1.000,1.040)" font-size="17.33">300ms-6dB</text><text transform="translate(823.4,284.8) scale(1.000,1.040)" font-size="16.97">100ms-24dB</text><text transform="translate(832.1,264.2) scale(1.000,1.040)" font-size="16.63">100ms-18dB</text><text transform="translate(840.4,244.3) scale(1.000,1.040)" font-size="16.30">100ms-12dB</text><text transform="translate(848.5,225.2) scale(1.000,1.040)" font-size="15.98">100ms-6dB</text><text transform="translate(369.0,709.6) scale(1.000,1.070)" font-size="28.00" text-anchor="middle">Points</text><text transform="translate(23.5,480) rotate(-90)" text-anchor="middle" font-size="27">LHR Signal (mV)</text></g>
</svg>
</body></html>
